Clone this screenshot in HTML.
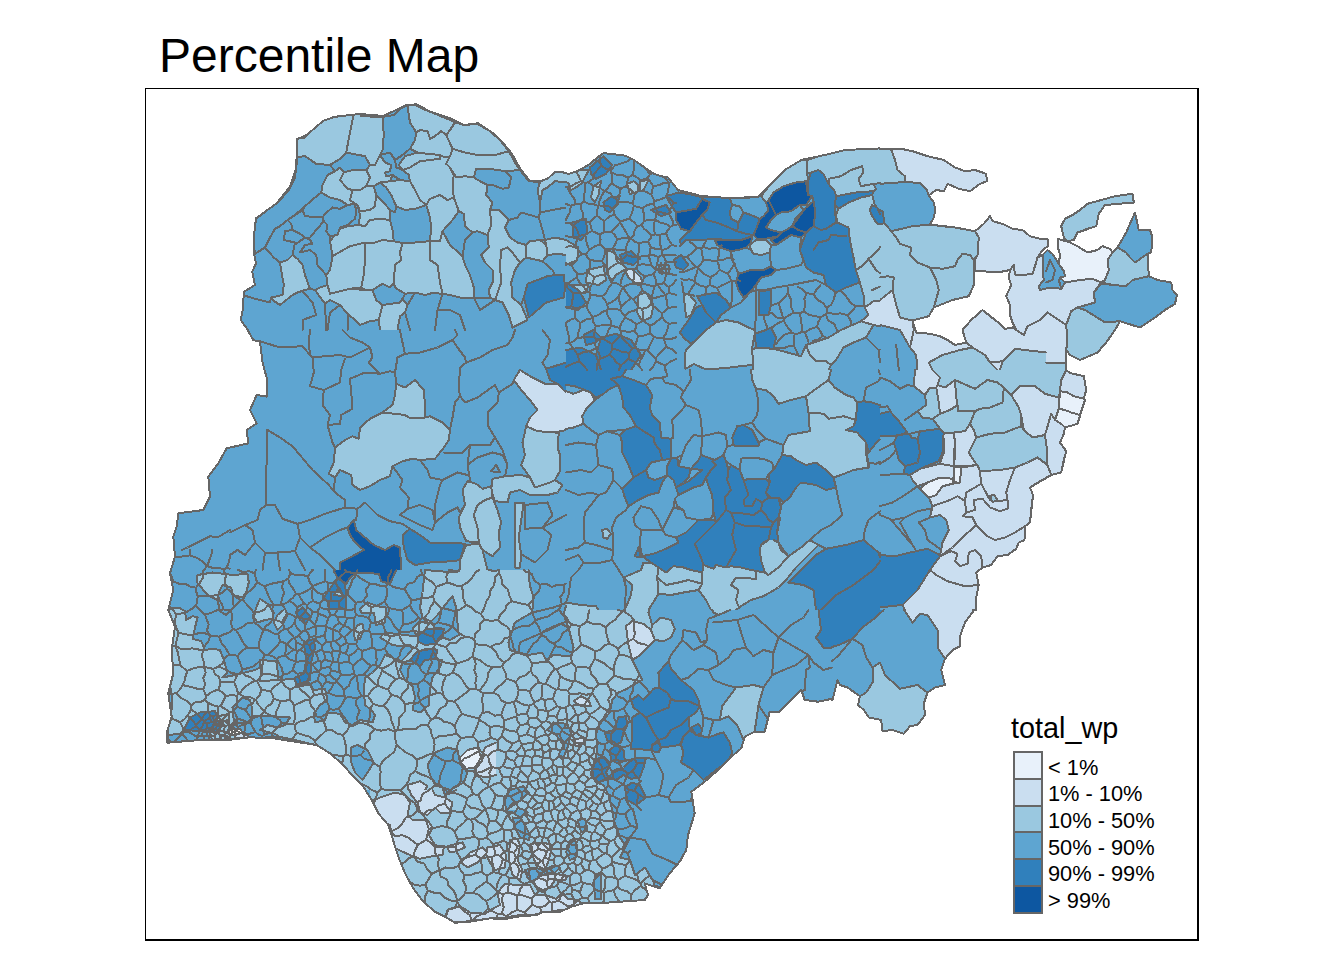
<!DOCTYPE html>
<html><head><meta charset="utf-8"><title>Percentile Map</title>
<style>
html,body{margin:0;padding:0;background:#fff;}
body{width:1344px;height:960px;position:relative;overflow:hidden;font-family:"Liberation Sans",Arial,sans-serif;color:#000;}
#title{position:absolute;left:159px;top:29px;font-size:48px;line-height:54px;white-space:nowrap;}
.fr{position:absolute;background:#000;}
svg{position:absolute;left:0;top:0;}
.lg{position:absolute;left:1048px;font-size:21.8px;line-height:26px;white-space:nowrap;}
#lt{position:absolute;left:1011px;top:711.5px;font-size:28.8px;line-height:32px;white-space:nowrap;}
</style></head><body>
<div id="title">Percentile Map</div>
<div class="fr" style="left:145px;top:88px;width:1054px;height:1px"></div>
<div class="fr" style="left:145px;top:88px;width:1px;height:853px"></div>
<div class="fr" style="left:1197px;top:88px;width:2px;height:853px"></div>
<div class="fr" style="left:145px;top:939px;width:1054px;height:2px"></div>

<svg width="1344" height="960" viewBox="0 0 1344 960">
<defs><path id="o" fill-rule="evenodd" clip-rule="evenodd" d="M978.8,585.0 976.2,572.5 982.5,567.5 991.2,565.0 997.5,556.2 1007.5,555.0 1016.2,548.8 1018.8,542.5 1024.5,540.0 1025.0,526.2 1030.0,522.5 1033.0,495.0 1030.0,487.5 1051.2,475.0 1061.2,472.5 1066.2,451.2 1060.0,442.5 1063.8,433.8 1065.0,427.5 1077.5,423.8 1085.0,400.0 1083.8,398.8 1086.2,390.0 1083.8,376.2 1070.0,373.0 1066.2,370.0 1066.2,350.0 1070.0,355.0 1080.0,360.0 1097.5,352.5 1106.2,342.5 1115.0,330.0 1120.0,321.2 1140.0,327.5 1155.0,317.5 1165.0,310.0 1175.0,303.8 1177.0,295.0 1172.5,290.0 1171.2,282.5 1157.5,280.0 1148.8,276.2 1147.5,253.8 1151.2,252.5 1152.5,237.5 1150.0,230.0 1138.8,230.0 1135.0,212.5 1126.2,232.5 1117.5,247.5 1112.5,252.5 1110.0,248.8 1102.5,246.2 1097.5,250.0 1087.5,252.5 1077.5,246.2 1070.0,242.5 1058.0,238.8 1058.0,247.5 1060.0,255.0 1058.8,263.8 1052.5,253.8 1047.5,250.0 1042.5,255.0 1037.5,257.5 1042.5,250.0 1048.0,246.2 1047.5,238.8 1040.0,238.8 1030.0,236.2 1022.5,230.0 1012.5,228.8 1002.5,223.8 992.5,221.2 990.0,216.2 983.8,223.8 975.0,231.2 955.0,227.5 930.0,224.5 933.8,217.5 935.5,210.0 933.8,202.5 928.8,195.5 936.2,190.0 943.8,191.2 947.5,183.8 958.8,188.8 970.0,191.2 980.0,183.8 987.0,181.2 986.2,173.8 975.0,170.0 965.0,171.2 955.0,167.5 943.8,160.0 927.5,156.2 912.5,151.2 901.2,148.8 891.2,149.5 880.0,148.8 880.0,148.4 844.7,150.0 824.7,155.0 801.3,160.0 784.7,170.0 758.0,196.7 731.3,198.3 701.3,196.0 678.0,190.0 668.0,177.5 661.3,176.3 653.8,173.8 633.8,160.0 625.0,155.6 603.8,153.1 598.8,156.3 590.0,163.8 580.0,170.0 568.8,174.0 561.3,171.9 555.0,171.9 547.5,178.8 539.4,181.3 530.0,181.3 520.0,168.3 511.7,153.3 503.3,143.3 493.3,133.3 478.3,123.3 463.3,125.0 450.0,118.3 430.0,111.7 416.7,104.3 406.7,105.0 383.3,116.0 360.0,114.0 335.0,116.7 323.3,120.7 306.7,135.0 296.7,139.3 296.7,156.7 295.7,170.0 290.0,186.7 276.7,203.3 256.0,218.3 254.3,233.3 254.0,253.3 256.0,263.3 252.3,271.7 255.0,285.0 244.0,291.7 242.7,310.0 240.7,320.0 246.7,328.3 253.3,340.0 260.0,341.7 262.7,363.3 267.3,380.0 266.7,396.7 256.7,395.0 250.0,410.0 256.7,423.3 246.7,430.0 248.3,443.3 226.7,448.3 218.3,463.3 208.3,476.7 210.0,496.7 203.3,510.0 178.3,513.3 176.7,526.7 173.3,536.7 175.0,556.7 170.0,573.3 173.3,590.0 168.3,610.0 175.0,626.7 171.7,650.0 173.3,673.3 168.3,693.3 171.7,716.7 166.7,733.3 167.3,742.7 200.0,740.0 228.3,740.0 250.0,737.3 273.3,738.3 316.7,745.0 330.0,753.3 343.3,765.0 353.3,776.7 363.3,786.7 371.7,800.0 378.3,813.3 388.3,825.0 398.3,856.7 405.0,873.3 413.3,888.3 423.3,901.7 435.0,911.7 445.0,916.7 455.0,922.7 470.0,921.7 490.0,918.3 503.3,919.3 516.7,916.7 536.7,915.0 543.3,911.7 560.0,911.7 571.7,906.7 583.3,903.3 598.0,903.3 644.7,900.0 648.0,895.0 644.7,883.3 659.7,888.3 669.7,873.3 679.7,861.7 686.3,850.0 688.0,835.0 694.7,813.3 691.3,791.7 704.7,781.7 718.0,770.0 731.3,756.7 741.3,748.3 744.7,736.7 754.7,731.7 764.7,731.7 769.7,711.7 779.7,711.7 801.3,690.0 804.7,700.0 818.0,701.7 832.0,698.8 832.0,700.0 832.5,700.0 837.5,680.0 840.0,685.0 847.5,687.5 860.0,696.2 858.0,705.0 863.8,710.0 868.8,717.5 881.2,720.0 882.5,731.2 892.5,730.0 903.8,733.8 910.0,726.2 917.5,725.0 925.0,715.0 923.8,703.8 927.5,692.5 935.0,687.5 945.0,685.0 941.2,670.0 945.0,658.8 952.5,650.0 960.0,646.2 960.0,636.2 965.0,622.5 972.5,612.5 973.3,610.0 976.2,610.0 976.2,597.5ZM930.0,333.8 916.2,332.5 912.5,320.5 928.8,316.2 933.8,307.5 952.5,300.0 968.8,296.2 973.8,285.0 974.5,270.5 997.5,272.5 1010.0,270.0 1008.8,277.5 1011.2,285.0 1006.2,296.2 1010.0,305.0 1010.0,315.0 1012.5,322.5 1016.2,330.0 1012.5,327.5 1005.0,328.8 1000.0,323.8 982.5,310.0 971.2,320.0 962.5,330.0 966.2,342.5 955.0,345.0 947.5,340.0 940.0,336.2ZM1067.5,241.2 1073.8,240.0 1077.5,232.5 1096.2,226.2 1098.8,213.8 1105.0,205.0 1133.8,202.5 1132.5,193.8 1115.0,196.2 1087.5,203.8 1080.0,210.0 1072.5,215.0 1065.0,218.8 1061.2,226.2 1063.8,237.5Z"/><clipPath id="c"><use href="#o"/></clipPath></defs>
<use href="#o" fill="#5EA5D1"/>
<g clip-path="url(#c)" shape-rendering="crispEdges" stroke-linejoin="round" stroke-linecap="round" stroke="#666666" stroke-width="2">
<path fill="#5EA5D1" stroke="none" d="M230.0,330.0 566.0,330.0 566.0,90.0 230.0,90.0Z"/>
<path fill="#9AC8E0" stroke="none" d="M297.5,157.0 305.0,156.2 316.2,163.8 330.0,165.0 340.0,158.8 346.2,152.5 350.0,132.5 353.8,114.2 340.0,116.2 325.0,118.8 315.0,127.5 305.0,137.5 297.0,138.8Z"/>
<path fill="none" d="M297.0,138.8L305.0,137.5L315.0,127.5L325.0,118.8L340.0,116.2L353.8,114.2L350.0,132.5L346.2,152.5L340.0,158.8L330.0,165.0L316.2,163.8L305.0,156.2L297.5,157.0L297.0,138.8"/>
<path fill="#9AC8E0" stroke="none" d="M350.0,132.5 346.2,152.5 365.0,156.2 370.0,165.0 375.0,165.0 380.0,155.0 382.5,150.0 383.8,135.0 382.5,117.0 361.2,116.2 360.0,114.2 353.8,114.2Z"/>
<path fill="none" d="M353.8,114.2L360.0,114.2L361.2,116.2L382.5,117.0L383.8,135.0L382.5,150.0L380.0,155.0L375.0,165.0L370.0,165.0L365.0,156.2L346.2,152.5L350.0,132.5L353.8,114.2"/>
<path fill="#5EA5D1" stroke="none" d="M383.8,135.0 382.5,150.0 380.0,155.0 390.0,152.5 395.0,160.0 402.5,155.0 410.0,148.8 415.0,140.0 416.2,132.5 410.0,122.5 408.8,115.0 407.5,105.5 400.0,108.8 393.8,115.0 382.5,117.0Z"/>
<path fill="none" d="M382.5,117.0L393.8,115.0L400.0,108.8L407.5,105.5L408.8,115.0L410.0,122.5L416.2,132.5L415.0,140.0L410.0,148.8L402.5,155.0L395.0,160.0L390.0,152.5L380.0,155.0L382.5,150.0L383.8,135.0L382.5,117.0"/>
<path fill="#9AC8E0" stroke="none" d="M408.8,115.0 410.0,122.5 416.2,132.5 420.0,130.0 427.5,131.2 430.0,138.8 435.0,136.2 441.2,131.2 446.2,135.0 450.0,130.0 455.0,122.5 450.0,120.0 435.0,113.8 422.5,108.8 415.0,105.0 407.5,105.5Z"/>
<path fill="none" d="M407.5,105.5L415.0,105.0L422.5,108.8L435.0,113.8L450.0,120.0L455.0,122.5L450.0,130.0L446.2,135.0L441.2,131.2L435.0,136.2L430.0,138.8L427.5,131.2L420.0,130.0L416.2,132.5L410.0,122.5L408.8,115.0L407.5,105.5"/>
<path fill="#9AC8E0" stroke="none" d="M450.0,130.0 446.2,135.0 452.5,148.8 465.0,152.5 480.0,155.5 495.0,155.0 508.8,151.2 500.0,140.0 490.0,131.2 477.5,123.8 465.0,125.0 455.0,122.5Z"/>
<path fill="none" d="M455.0,122.5L465.0,125.0L477.5,123.8L490.0,131.2L500.0,140.0L508.8,151.2L495.0,155.0L480.0,155.5L465.0,152.5L452.5,148.8L446.2,135.0L450.0,130.0L455.0,122.5"/>
<path fill="#9AC8E0" stroke="none" d="M415.0,140.0 410.0,148.8 417.5,152.5 427.5,153.8 440.0,155.0 445.0,157.5 450.0,156.2 452.5,148.8 446.2,135.0 441.2,131.2 435.0,136.2 430.0,138.8 427.5,131.2 420.0,130.0 416.2,132.5Z"/>
<path fill="none" d="M416.2,132.5L420.0,130.0L427.5,131.2L430.0,138.8L435.0,136.2L441.2,131.2L446.2,135.0L452.5,148.8L450.0,156.2L445.0,157.5L440.0,155.0L427.5,153.8L417.5,152.5L410.0,148.8L415.0,140.0L416.2,132.5"/>
<path fill="#9AC8E0" stroke="none" d="M450.0,156.2 446.2,163.8 450.0,167.5 456.2,177.5 465.0,176.2 473.8,177.5 476.2,168.8 490.0,168.8 505.0,171.2 520.0,170.0 515.0,162.5 508.8,151.2 495.0,155.0 480.0,155.5 465.0,152.5 452.5,148.8Z"/>
<path fill="none" d="M452.5,148.8L465.0,152.5L480.0,155.5L495.0,155.0L508.8,151.2L515.0,162.5L520.0,170.0L505.0,171.2L490.0,168.8L476.2,168.8L473.8,177.5L465.0,176.2L456.2,177.5L450.0,167.5L446.2,163.8L450.0,156.2L452.5,148.8"/>
<path fill="#5EA5D1" stroke="none" d="M385.0,162.5 391.2,165.0 390.0,171.2 385.0,172.5 386.2,176.2 392.5,175.0 400.0,180.0 410.0,181.2 408.8,175.0 402.5,170.0 396.2,167.5 395.0,160.0 390.0,152.5 380.0,155.0Z"/>
<path fill="none" d="M380.0,155.0L390.0,152.5L395.0,160.0L396.2,167.5L402.5,170.0L408.8,175.0L410.0,181.2L400.0,180.0L392.5,175.0L386.2,176.2L385.0,172.5L390.0,171.2L391.2,165.0L385.0,162.5L380.0,155.0"/>
<path fill="#9AC8E0" stroke="none" d="M402.5,170.0 410.0,167.5 420.0,161.2 430.0,160.0 440.0,158.8 440.0,155.0 427.5,153.8 417.5,152.5 405.0,156.2 398.8,165.0Z"/>
<path fill="none" d="M398.8,165.0L405.0,156.2L417.5,152.5L427.5,153.8L440.0,155.0L440.0,158.8L430.0,160.0L420.0,161.2L410.0,167.5L402.5,170.0L398.8,165.0"/>
<path fill="#5EA5D1" stroke="none" d="M335.0,171.2 340.0,167.5 343.8,172.5 352.5,170.0 366.2,170.0 370.0,165.0 365.0,156.2 346.2,152.5 340.0,158.8 330.0,165.0Z"/>
<path fill="none" d="M330.0,165.0L340.0,158.8L346.2,152.5L365.0,156.2L370.0,165.0L366.2,170.0L352.5,170.0L343.8,172.5L340.0,167.5L335.0,171.2L330.0,165.0"/>
<path fill="#5EA5D1" stroke="none" d="M296.2,167.5 295.0,177.5 288.8,190.0 280.0,200.0 267.5,210.0 255.0,219.5 254.5,230.0 253.8,245.0 255.0,253.8 265.0,247.5 270.0,237.5 275.0,228.8 280.0,226.2 287.5,220.0 295.0,215.0 305.0,206.2 315.0,197.5 321.2,192.5 322.5,185.0 327.5,175.0 335.0,171.2 330.0,165.0 316.2,163.8 305.0,156.2 297.5,157.0Z"/>
<path fill="none" d="M297.5,157.0L305.0,156.2L316.2,163.8L330.0,165.0L335.0,171.2L327.5,175.0L322.5,185.0L321.2,192.5L315.0,197.5L305.0,206.2L295.0,215.0L287.5,220.0L280.0,226.2L275.0,228.8L270.0,237.5L265.0,247.5L255.0,253.8L253.8,245.0L254.5,230.0L255.0,219.5L267.5,210.0L280.0,200.0L288.8,190.0L295.0,177.5L296.2,167.5L297.5,157.0"/>
<path fill="#9AC8E0" stroke="none" d="M330.0,197.5 340.0,200.0 347.5,205.0 355.0,203.8 350.0,200.0 352.5,190.0 347.5,188.8 340.0,180.0 343.8,172.5 340.0,167.5 335.0,171.2 327.5,175.0 322.5,185.0 321.2,192.5Z"/>
<path fill="none" d="M321.2,192.5L322.5,185.0L327.5,175.0L335.0,171.2L340.0,167.5L343.8,172.5L340.0,180.0L347.5,188.8L352.5,190.0L350.0,200.0L355.0,203.8L347.5,205.0L340.0,200.0L330.0,197.5L321.2,192.5"/>
<path fill="#9AC8E0" stroke="none" d="M347.5,188.8 352.5,190.0 360.0,190.0 366.2,186.2 370.0,177.5 366.2,170.0 352.5,170.0 343.8,172.5 340.0,180.0Z"/>
<path fill="none" d="M340.0,180.0L343.8,172.5L352.5,170.0L366.2,170.0L370.0,177.5L366.2,186.2L360.0,190.0L352.5,190.0L347.5,188.8L340.0,180.0"/>
<path fill="#9AC8E0" stroke="none" d="M370.0,177.5 366.2,186.2 373.8,186.2 380.0,182.5 390.0,181.2 392.5,175.0 386.2,176.2 385.0,172.5 390.0,171.2 391.2,165.0 385.0,162.5 380.0,155.0 375.0,165.0 370.0,165.0 366.2,170.0Z"/>
<path fill="none" d="M366.2,170.0L370.0,165.0L375.0,165.0L380.0,155.0L385.0,162.5L391.2,165.0L390.0,171.2L385.0,172.5L386.2,176.2L392.5,175.0L390.0,181.2L380.0,182.5L373.8,186.2L366.2,186.2L370.0,177.5L366.2,170.0"/>
<path fill="#9AC8E0" stroke="none" d="M350.0,200.0 355.0,203.8 357.5,205.0 360.0,211.2 370.0,210.0 375.0,206.2 376.2,195.0 373.8,186.2 366.2,186.2 360.0,190.0 352.5,190.0Z"/>
<path fill="none" d="M352.5,190.0L360.0,190.0L366.2,186.2L373.8,186.2L376.2,195.0L375.0,206.2L370.0,210.0L360.0,211.2L357.5,205.0L355.0,203.8L350.0,200.0L352.5,190.0"/>
<path fill="#5EA5D1" stroke="none" d="M376.2,195.0 382.5,201.2 390.0,210.0 395.0,212.5 396.2,206.2 391.2,195.0 386.2,187.5 380.0,182.5 373.8,186.2Z"/>
<path fill="none" d="M373.8,186.2L380.0,182.5L386.2,187.5L391.2,195.0L396.2,206.2L395.0,212.5L390.0,210.0L382.5,201.2L376.2,195.0L373.8,186.2"/>
<path fill="#9AC8E0" stroke="none" d="M380.0,182.5 386.2,187.5 391.2,195.0 396.2,206.2 405.0,210.0 415.0,208.8 426.2,205.0 420.0,200.0 415.0,190.0 410.0,181.2 400.0,180.0 390.0,181.2Z"/>
<path fill="none" d="M390.0,181.2L400.0,180.0L410.0,181.2L415.0,190.0L420.0,200.0L426.2,205.0L415.0,208.8L405.0,210.0L396.2,206.2L391.2,195.0L386.2,187.5L380.0,182.5L390.0,181.2"/>
<path fill="#9AC8E0" stroke="none" d="M415.0,190.0 420.0,200.0 426.2,205.0 430.0,198.8 440.0,195.0 447.5,200.0 453.8,197.5 452.5,185.0 453.8,175.0 450.0,167.5 446.2,163.8 450.0,156.2 445.0,157.5 440.0,155.0 440.0,158.8 430.0,160.0 420.0,161.2 410.0,167.5 402.5,170.0 408.8,175.0 410.0,181.2Z"/>
<path fill="none" d="M410.0,181.2L408.8,175.0L402.5,170.0L410.0,167.5L420.0,161.2L430.0,160.0L440.0,158.8L440.0,155.0L445.0,157.5L450.0,156.2L446.2,163.8L450.0,167.5L453.8,175.0L452.5,185.0L453.8,197.5L447.5,200.0L440.0,195.0L430.0,198.8L426.2,205.0L420.0,200.0L415.0,190.0L410.0,181.2"/>
<path fill="#9AC8E0" stroke="none" d="M452.5,185.0 453.8,197.5 458.8,211.2 463.8,213.8 465.0,226.2 472.5,232.5 477.5,231.2 487.5,235.0 491.2,225.0 490.0,210.0 492.5,202.5 486.2,195.0 487.5,185.0 480.0,181.2 473.8,177.5 465.0,176.2 456.2,177.5 453.8,175.0Z"/>
<path fill="none" d="M453.8,175.0L456.2,177.5L465.0,176.2L473.8,177.5L480.0,181.2L487.5,185.0L486.2,195.0L492.5,202.5L490.0,210.0L491.2,225.0L487.5,235.0L477.5,231.2L472.5,232.5L465.0,226.2L463.8,213.8L458.8,211.2L453.8,197.5L452.5,185.0L453.8,175.0"/>
<path fill="#5EA5D1" stroke="none" d="M480.0,181.2 487.5,185.0 492.5,185.0 502.5,188.8 508.8,187.5 511.2,177.5 505.0,171.2 490.0,168.8 476.2,168.8 473.8,177.5Z"/>
<path fill="none" d="M473.8,177.5L476.2,168.8L490.0,168.8L505.0,171.2L511.2,177.5L508.8,187.5L502.5,188.8L492.5,185.0L487.5,185.0L480.0,181.2L473.8,177.5"/>
<path fill="#5EA5D1" stroke="none" d="M492.5,202.5 490.0,210.0 498.8,210.0 508.8,220.0 517.5,217.5 521.2,212.5 530.0,215.0 538.8,217.5 540.0,212.5 540.0,202.5 537.5,190.0 540.0,182.0 528.8,181.2 520.0,170.0 505.0,171.2 511.2,177.5 508.8,187.5 502.5,188.8 492.5,185.0 487.5,185.0 486.2,195.0Z"/>
<path fill="none" d="M486.2,195.0L487.5,185.0L492.5,185.0L502.5,188.8L508.8,187.5L511.2,177.5L505.0,171.2L520.0,170.0L528.8,181.2L540.0,182.0L537.5,190.0L540.0,202.5L540.0,212.5L538.8,217.5L530.0,215.0L521.2,212.5L517.5,217.5L508.8,220.0L498.8,210.0L490.0,210.0L492.5,202.5L486.2,195.0"/>
<path fill="#9AC8E0" stroke="none" d="M430.0,217.5 431.2,227.5 430.0,241.2 440.0,241.2 442.5,231.2 452.5,220.0 458.8,211.2 453.8,197.5 447.5,200.0 440.0,195.0 430.0,198.8 426.2,205.0Z"/>
<path fill="none" d="M426.2,205.0L430.0,198.8L440.0,195.0L447.5,200.0L453.8,197.5L458.8,211.2L452.5,220.0L442.5,231.2L440.0,241.2L430.0,241.2L431.2,227.5L430.0,217.5L426.2,205.0"/>
<path fill="#5EA5D1" stroke="none" d="M390.0,220.0 392.5,230.0 393.8,241.2 402.5,243.0 415.0,242.5 430.0,241.2 431.2,227.5 430.0,217.5 426.2,205.0 415.0,208.8 405.0,210.0 396.2,206.2 395.0,212.5 390.0,210.0Z"/>
<path fill="none" d="M390.0,210.0L395.0,212.5L396.2,206.2L405.0,210.0L415.0,208.8L426.2,205.0L430.0,217.5L431.2,227.5L430.0,241.2L415.0,242.5L402.5,243.0L393.8,241.2L392.5,230.0L390.0,220.0L390.0,210.0"/>
<path fill="#9AC8E0" stroke="none" d="M360.0,215.0 358.8,225.0 365.0,226.2 370.0,220.0 380.0,218.8 390.0,220.0 390.0,210.0 382.5,201.2 376.2,195.0 375.0,206.2 370.0,210.0 360.0,211.2 357.5,205.0Z"/>
<path fill="none" d="M357.5,205.0L360.0,211.2L370.0,210.0L375.0,206.2L376.2,195.0L382.5,201.2L390.0,210.0L390.0,220.0L380.0,218.8L370.0,220.0L365.0,226.2L358.8,225.0L360.0,215.0L357.5,205.0"/>
<path fill="#9AC8E0" stroke="none" d="M332.5,256.2 350.0,246.2 365.0,242.5 375.0,242.5 382.5,240.0 393.8,241.2 392.5,230.0 390.0,220.0 380.0,218.8 370.0,220.0 365.0,226.2 358.8,225.0 347.5,226.2 340.0,228.8 330.0,241.2Z"/>
<path fill="none" d="M330.0,241.2L340.0,228.8L347.5,226.2L358.8,225.0L365.0,226.2L370.0,220.0L380.0,218.8L390.0,220.0L392.5,230.0L393.8,241.2L382.5,240.0L375.0,242.5L365.0,242.5L350.0,246.2L332.5,256.2L330.0,241.2"/>
<path fill="#5EA5D1" stroke="none" d="M302.5,210.0 305.0,216.2 322.5,217.5 325.0,213.8 332.5,207.5 340.0,208.8 347.5,205.0 340.0,200.0 330.0,197.5 321.2,192.5 315.0,197.5 305.0,206.2Z"/>
<path fill="none" d="M305.0,206.2L315.0,197.5L321.2,192.5L330.0,197.5L340.0,200.0L347.5,205.0L340.0,208.8L332.5,207.5L325.0,213.8L322.5,217.5L305.0,216.2L302.5,210.0L305.0,206.2"/>
<path fill="#5EA5D1" stroke="none" d="M323.8,221.2 327.5,225.0 326.2,231.2 330.0,236.2 337.5,235.0 340.0,227.5 347.5,225.0 355.0,218.8 356.2,212.5 355.0,203.8 347.5,205.0 340.0,208.8 332.5,207.5 325.0,213.8 322.5,217.5Z"/>
<path fill="none" d="M322.5,217.5L325.0,213.8L332.5,207.5L340.0,208.8L347.5,205.0L355.0,203.8L356.2,212.5L355.0,218.8L347.5,225.0L340.0,227.5L337.5,235.0L330.0,236.2L326.2,231.2L327.5,225.0L323.8,221.2L322.5,217.5"/>
<path fill="#5EA5D1" stroke="none" d="M291.2,223.8 292.5,230.0 300.0,233.8 305.0,237.5 310.0,237.5 316.2,230.0 323.8,221.2 322.5,217.5 305.0,216.2 302.5,210.0 295.0,215.0 287.5,220.0Z"/>
<path fill="none" d="M287.5,220.0L295.0,215.0L302.5,210.0L305.0,216.2L322.5,217.5L323.8,221.2L316.2,230.0L310.0,237.5L305.0,237.5L300.0,233.8L292.5,230.0L291.2,223.8L287.5,220.0"/>
<path fill="#5EA5D1" stroke="none" d="M270.0,237.5 265.0,247.5 273.8,257.5 280.0,262.5 287.5,260.0 292.5,255.0 295.0,242.5 283.8,240.0 285.0,231.2 292.5,230.0 291.2,223.8 287.5,220.0 280.0,226.2 275.0,228.8Z"/>
<path fill="none" d="M275.0,228.8L280.0,226.2L287.5,220.0L291.2,223.8L292.5,230.0L285.0,231.2L283.8,240.0L295.0,242.5L292.5,255.0L287.5,260.0L280.0,262.5L273.8,257.5L265.0,247.5L270.0,237.5L275.0,228.8"/>
<path fill="#5EA5D1" stroke="none" d="M295.0,242.5 296.2,243.8 305.0,237.5 300.0,233.8 292.5,230.0 285.0,231.2 283.8,240.0Z"/>
<path fill="none" d="M283.8,240.0L285.0,231.2L292.5,230.0L300.0,233.8L305.0,237.5L296.2,243.8L295.0,242.5L283.8,240.0"/>
<path fill="#5EA5D1" stroke="none" d="M310.0,240.0 312.5,243.8 305.0,245.0 300.0,252.5 310.0,250.0 316.2,255.0 317.5,265.0 326.2,275.0 330.0,270.0 332.5,256.2 330.0,241.2 330.0,236.2 326.2,231.2 327.5,225.0 323.8,221.2 316.2,230.0 310.0,237.5 305.0,237.5Z"/>
<path fill="none" d="M305.0,237.5L310.0,237.5L316.2,230.0L323.8,221.2L327.5,225.0L326.2,231.2L330.0,236.2L330.0,241.2L332.5,256.2L330.0,270.0L326.2,275.0L317.5,265.0L316.2,255.0L310.0,250.0L300.0,252.5L305.0,245.0L312.5,243.8L310.0,240.0L305.0,237.5"/>
<path fill="#5EA5D1" stroke="none" d="M295.0,242.5 292.5,255.0 297.5,258.8 302.5,265.0 305.0,275.0 310.0,288.8 315.0,290.0 320.0,287.5 327.5,285.0 326.2,275.0 317.5,265.0 316.2,255.0 310.0,250.0 300.0,252.5 305.0,245.0 312.5,243.8 310.0,240.0 305.0,237.5 296.2,243.8Z"/>
<path fill="none" d="M296.2,243.8L305.0,237.5L310.0,240.0L312.5,243.8L305.0,245.0L300.0,252.5L310.0,250.0L316.2,255.0L317.5,265.0L326.2,275.0L327.5,285.0L320.0,287.5L315.0,290.0L310.0,288.8L305.0,275.0L302.5,265.0L297.5,258.8L292.5,255.0L295.0,242.5L296.2,243.8"/>
<path fill="#9AC8E0" stroke="none" d="M281.2,270.0 283.8,285.0 282.5,295.0 271.2,297.5 272.5,300.0 280.0,305.0 292.5,295.0 297.5,292.5 305.0,290.0 310.0,288.8 305.0,275.0 302.5,265.0 297.5,258.8 292.5,255.0 287.5,260.0 280.0,262.5Z"/>
<path fill="none" d="M280.0,262.5L287.5,260.0L292.5,255.0L297.5,258.8L302.5,265.0L305.0,275.0L310.0,288.8L305.0,290.0L297.5,292.5L292.5,295.0L280.0,305.0L272.5,300.0L271.2,297.5L282.5,295.0L283.8,285.0L281.2,270.0L280.0,262.5"/>
<path fill="#9AC8E0" stroke="none" d="M325.0,303.8 330.0,300.0 340.0,305.0 347.5,313.8 355.0,320.0 360.0,325.0 370.0,321.2 378.8,320.0 380.0,315.0 382.5,305.0 376.2,300.0 372.5,290.0 365.0,290.0 350.0,288.8 330.0,293.8 327.5,285.0 320.0,287.5 315.0,290.0Z"/>
<path fill="none" d="M315.0,290.0L320.0,287.5L327.5,285.0L330.0,293.8L350.0,288.8L365.0,290.0L372.5,290.0L376.2,300.0L382.5,305.0L380.0,315.0L378.8,320.0L370.0,321.2L360.0,325.0L355.0,320.0L347.5,313.8L340.0,305.0L330.0,300.0L325.0,303.8L315.0,290.0"/>
<path fill="#9AC8E0" stroke="none" d="M365.0,260.0 363.8,275.0 361.2,287.5 365.0,290.0 372.5,290.0 382.5,283.8 390.0,287.5 393.8,282.5 395.0,265.0 401.2,260.0 400.0,252.5 402.5,243.0 393.8,241.2 382.5,240.0 375.0,242.5 365.0,242.5Z"/>
<path fill="none" d="M365.0,242.5L375.0,242.5L382.5,240.0L393.8,241.2L402.5,243.0L400.0,252.5L401.2,260.0L395.0,265.0L393.8,282.5L390.0,287.5L382.5,283.8L372.5,290.0L365.0,290.0L361.2,287.5L363.8,275.0L365.0,260.0L365.0,242.5"/>
<path fill="#9AC8E0" stroke="none" d="M330.0,270.0 326.2,275.0 327.5,285.0 330.0,293.8 350.0,288.8 361.2,287.5 363.8,275.0 365.0,260.0 365.0,242.5 350.0,246.2 332.5,256.2Z"/>
<path fill="none" d="M332.5,256.2L350.0,246.2L365.0,242.5L365.0,260.0L363.8,275.0L361.2,287.5L350.0,288.8L330.0,293.8L327.5,285.0L326.2,275.0L330.0,270.0L332.5,256.2"/>
<path fill="#9AC8E0" stroke="none" d="M400.0,252.5 401.2,260.0 395.0,265.0 393.8,282.5 395.0,287.5 405.0,293.8 415.0,292.5 425.0,295.0 432.5,293.0 442.5,293.8 440.0,282.5 437.5,265.0 430.0,260.0 430.0,241.2 415.0,242.5 402.5,243.0Z"/>
<path fill="none" d="M402.5,243.0L415.0,242.5L430.0,241.2L430.0,260.0L437.5,265.0L440.0,282.5L442.5,293.8L432.5,293.0L425.0,295.0L415.0,292.5L405.0,293.8L395.0,287.5L393.8,282.5L395.0,265.0L401.2,260.0L400.0,252.5L402.5,243.0"/>
<path fill="#9AC8E0" stroke="none" d="M430.0,260.0 437.5,265.0 440.0,282.5 442.5,293.8 450.0,295.0 460.0,297.5 473.8,297.5 473.8,287.5 470.0,275.0 465.0,265.0 462.5,256.2 450.0,245.0 442.5,231.2 440.0,241.2 430.0,241.2Z"/>
<path fill="none" d="M430.0,241.2L440.0,241.2L442.5,231.2L450.0,245.0L462.5,256.2L465.0,265.0L470.0,275.0L473.8,287.5L473.8,297.5L460.0,297.5L450.0,295.0L442.5,293.8L440.0,282.5L437.5,265.0L430.0,260.0L430.0,241.2"/>
<path fill="#5EA5D1" stroke="none" d="M450.0,245.0 462.5,256.2 465.0,240.0 472.5,232.5 465.0,226.2 463.8,213.8 458.8,211.2 452.5,220.0 442.5,231.2Z"/>
<path fill="none" d="M442.5,231.2L452.5,220.0L458.8,211.2L463.8,213.8L465.0,226.2L472.5,232.5L465.0,240.0L462.5,256.2L450.0,245.0L442.5,231.2"/>
<path fill="#5EA5D1" stroke="none" d="M465.0,265.0 470.0,275.0 473.8,287.5 473.8,297.5 490.0,297.5 488.8,290.0 492.5,282.5 492.5,270.0 485.0,262.5 481.2,255.0 488.8,247.5 487.5,235.0 477.5,231.2 472.5,232.5 465.0,240.0 462.5,256.2Z"/>
<path fill="none" d="M462.5,256.2L465.0,240.0L472.5,232.5L477.5,231.2L487.5,235.0L488.8,247.5L481.2,255.0L485.0,262.5L492.5,270.0L492.5,282.5L488.8,290.0L490.0,297.5L473.8,297.5L473.8,287.5L470.0,275.0L465.0,265.0L462.5,256.2"/>
<path fill="#9AC8E0" stroke="none" d="M488.8,247.5 481.2,255.0 485.0,262.5 492.5,270.0 492.5,282.5 488.8,290.0 490.0,297.5 495.0,300.0 501.2,282.5 500.0,265.0 501.2,250.0 507.5,247.5 512.5,252.5 520.0,262.5 526.2,257.5 526.2,245.0 517.5,242.5 510.0,237.5 505.0,227.5 508.8,220.0 498.8,210.0 490.0,210.0 491.2,225.0 487.5,235.0Z"/>
<path fill="none" d="M487.5,235.0L491.2,225.0L490.0,210.0L498.8,210.0L508.8,220.0L505.0,227.5L510.0,237.5L517.5,242.5L526.2,245.0L526.2,257.5L520.0,262.5L512.5,252.5L507.5,247.5L501.2,250.0L500.0,265.0L501.2,282.5L495.0,300.0L490.0,297.5L488.8,290.0L492.5,282.5L492.5,270.0L485.0,262.5L481.2,255.0L488.8,247.5L487.5,235.0"/>
<path fill="#9AC8E0" stroke="none" d="M500.0,265.0 501.2,282.5 495.0,300.0 502.5,302.5 508.8,315.0 512.5,327.5 527.5,320.0 521.2,305.0 512.5,297.5 511.2,282.5 515.0,270.0 520.0,262.5 512.5,252.5 507.5,247.5 501.2,250.0Z"/>
<path fill="none" d="M501.2,250.0L507.5,247.5L512.5,252.5L520.0,262.5L515.0,270.0L511.2,282.5L512.5,297.5L521.2,305.0L527.5,320.0L512.5,327.5L508.8,315.0L502.5,302.5L495.0,300.0L501.2,282.5L500.0,265.0L501.2,250.0"/>
<path fill="#5EA5D1" stroke="none" d="M515.0,270.0 511.2,282.5 512.5,297.5 521.2,305.0 523.8,297.5 527.5,283.8 547.5,276.2 555.0,275.0 552.5,270.0 542.5,261.2 526.2,257.5 520.0,262.5Z"/>
<path fill="none" d="M520.0,262.5L526.2,257.5L542.5,261.2L552.5,270.0L555.0,275.0L547.5,276.2L527.5,283.8L523.8,297.5L521.2,305.0L512.5,297.5L511.2,282.5L515.0,270.0L520.0,262.5"/>
<path fill="#3080BC" stroke="none" d="M523.8,297.5 528.8,317.5 537.5,310.0 546.2,302.5 563.8,297.5 565.0,287.5 563.8,275.0 555.0,275.0 547.5,276.2 527.5,283.8Z"/>
<path fill="none" d="M527.5,283.8L547.5,276.2L555.0,275.0L563.8,275.0L565.0,287.5L563.8,297.5L546.2,302.5L537.5,310.0L528.8,317.5L523.8,297.5L527.5,283.8"/>
<path fill="#9AC8E0" stroke="none" d="M526.2,257.5 542.5,261.2 547.5,255.0 546.2,245.0 540.0,240.0 530.0,241.2 526.2,245.0Z"/>
<path fill="none" d="M526.2,245.0L530.0,241.2L540.0,240.0L546.2,245.0L547.5,255.0L542.5,261.2L526.2,257.5L526.2,245.0"/>
<path fill="#5EA5D1" stroke="none" d="M505.0,227.5 510.0,237.5 517.5,242.5 526.2,245.0 530.0,241.2 540.0,240.0 545.0,240.0 542.5,230.0 538.8,217.5 530.0,215.0 521.2,212.5 517.5,217.5 508.8,220.0Z"/>
<path fill="none" d="M508.8,220.0L517.5,217.5L521.2,212.5L530.0,215.0L538.8,217.5L542.5,230.0L545.0,240.0L540.0,240.0L530.0,241.2L526.2,245.0L517.5,242.5L510.0,237.5L505.0,227.5L508.8,220.0"/>
<path fill="#9AC8E0" stroke="none" d="M537.5,190.0 540.0,202.5 542.5,190.0 547.5,187.5 555.0,181.2 566.0,182.5 566.0,172.5 555.0,172.0 548.8,176.2 540.0,182.0Z"/>
<path fill="none" d="M540.0,182.0L548.8,176.2L555.0,172.0L566.0,172.5M566.0,182.5L555.0,181.2L547.5,187.5L542.5,190.0L540.0,202.5L537.5,190.0L540.0,182.0"/>
<path fill="#5EA5D1" stroke="none" d="M538.8,217.5 542.5,230.0 545.0,240.0 555.0,237.5 566.0,240.0 566.0,207.5 552.5,210.0 540.0,212.5Z"/>
<path fill="none" d="M540.0,212.5L552.5,210.0L566.0,207.5M566.0,240.0L555.0,237.5L545.0,240.0L542.5,230.0L538.8,217.5L540.0,212.5"/>
<path fill="#9AC8E0" stroke="none" d="M546.2,245.0 547.5,255.0 557.5,253.8 566.0,255.0 566.0,240.0 555.0,237.5 545.0,240.0Z"/>
<path fill="none" d="M545.0,240.0L555.0,237.5L566.0,240.0M566.0,255.0L557.5,253.8L547.5,255.0L546.2,245.0L545.0,240.0"/>
<path fill="#9AC8E0" stroke="none" d="M380.0,330.0 397.5,330.0 400.0,316.2 405.0,312.5 407.5,305.0 402.5,298.8 400.0,302.5 382.5,305.0 380.0,315.0 378.8,320.0Z"/>
<path fill="none" d="M378.8,320.0L380.0,315.0L382.5,305.0L400.0,302.5L402.5,298.8L407.5,305.0L405.0,312.5L400.0,316.2L397.5,330.0M380.0,330.0L378.8,320.0"/>
<path fill="#5EA5D1" stroke="none" d="M376.2,300.0 382.5,305.0 400.0,302.5 402.5,298.8 405.0,293.8 395.0,287.5 393.8,282.5 390.0,287.5 382.5,283.8 372.5,290.0Z"/>
<path fill="none" d="M372.5,290.0L382.5,283.8L390.0,287.5L393.8,282.5L395.0,287.5L405.0,293.8L402.5,298.8L400.0,302.5L382.5,305.0L376.2,300.0L372.5,290.0"/>
<path fill="#5EA5D1" stroke="none" d="M230.0,570.0 566.0,570.0 566.0,330.0 230.0,330.0Z"/>
<path fill="#9AC8E0" stroke="none" d="M333.8,462.5 328.8,473.8 335.0,477.5 340.0,470.0 351.2,475.0 352.5,485.0 360.0,490.0 370.0,486.2 380.0,480.0 390.0,476.2 392.5,466.2 402.5,461.2 412.5,458.8 420.0,460.0 435.0,458.8 440.0,452.5 443.8,447.5 448.8,440.0 450.0,430.0 442.5,422.5 430.0,416.2 425.0,417.5 408.8,417.5 405.0,415.0 382.5,412.5 370.0,418.8 360.0,427.5 358.8,438.8 352.5,436.2 345.0,440.0 335.0,447.5Z"/>
<path fill="none" d="M335.0,447.5L345.0,440.0L352.5,436.2L358.8,438.8L360.0,427.5L370.0,418.8L382.5,412.5L405.0,415.0L408.8,417.5L425.0,417.5L430.0,416.2L442.5,422.5L450.0,430.0L448.8,440.0L443.8,447.5L440.0,452.5L435.0,458.8L420.0,460.0L412.5,458.8L402.5,461.2L392.5,466.2L390.0,476.2L380.0,480.0L370.0,486.2L360.0,490.0L352.5,485.0L351.2,475.0L340.0,470.0L335.0,477.5L328.8,473.8L333.8,462.5L335.0,447.5"/>
<path fill="#9AC8E0" stroke="none" d="M405.0,415.0 408.8,417.5 425.0,417.5 425.0,405.0 423.8,390.0 415.0,380.0 405.0,387.5 396.2,383.8 395.0,395.0 392.5,405.0 382.5,412.5Z"/>
<path fill="none" d="M382.5,412.5L392.5,405.0L395.0,395.0L396.2,383.8L405.0,387.5L415.0,380.0L423.8,390.0L425.0,405.0L425.0,417.5L408.8,417.5L405.0,415.0L382.5,412.5"/>
<path fill="#CADEF0" stroke="none" d="M521.2,390.0 530.0,400.0 537.5,410.0 530.0,417.5 526.2,426.2 537.5,431.2 555.0,432.5 566.0,430.0 566.0,392.5 557.5,383.8 545.0,383.8 530.0,376.2 520.0,370.0 513.8,380.0Z"/>
<path fill="none" d="M513.8,380.0L520.0,370.0L530.0,376.2L545.0,383.8L557.5,383.8L566.0,392.5M566.0,430.0L555.0,432.5L537.5,431.2L526.2,426.2L530.0,417.5L537.5,410.0L530.0,400.0L521.2,390.0L513.8,380.0"/>
<path fill="#3080BC" stroke="none" d="M550.0,380.0 557.5,383.8 566.0,392.5 566.0,362.5 546.2,368.8Z"/>
<path fill="none" d="M546.2,368.8L566.0,362.5M566.0,392.5L557.5,383.8L550.0,380.0L546.2,368.8"/>
<path fill="#9AC8E0" stroke="none" d="M522.5,442.5 525.0,455.0 521.2,465.0 530.0,477.5 535.0,487.5 550.0,482.5 555.0,480.0 560.5,470.0 560.0,455.0 557.5,447.5 558.8,432.5 555.0,432.5 537.5,431.2 526.2,426.2Z"/>
<path fill="none" d="M526.2,426.2L537.5,431.2L555.0,432.5L558.8,432.5L557.5,447.5L560.0,455.0L560.5,470.0L555.0,480.0L550.0,482.5L535.0,487.5L530.0,477.5L521.2,465.0L525.0,455.0L522.5,442.5L526.2,426.2"/>
<path fill="#9AC8E0" stroke="none" d="M491.2,490.0 495.0,501.2 507.5,502.5 510.0,492.5 520.0,490.0 530.0,495.0 547.5,495.0 557.5,492.5 562.5,485.0 555.0,480.0 550.0,482.5 535.0,487.5 530.0,477.5 521.2,475.0 505.0,476.2 492.5,478.8Z"/>
<path fill="none" d="M492.5,478.8L505.0,476.2L521.2,475.0L530.0,477.5L535.0,487.5L550.0,482.5L555.0,480.0L562.5,485.0L557.5,492.5L547.5,495.0L530.0,495.0L520.0,490.0L510.0,492.5L507.5,502.5L495.0,501.2L491.2,490.0L492.5,478.8"/>
<path fill="#9AC8E0" stroke="none" d="M465.0,505.0 458.8,517.5 460.0,527.5 466.2,541.2 478.8,542.5 477.5,527.5 473.8,515.0 477.5,505.0 485.0,500.0 492.5,497.5 491.2,486.2 482.5,488.8 476.2,483.8 467.5,481.2 462.5,490.0Z"/>
<path fill="none" d="M462.5,490.0L467.5,481.2L476.2,483.8L482.5,488.8L491.2,486.2L492.5,497.5L485.0,500.0L477.5,505.0L473.8,515.0L477.5,527.5L478.8,542.5L466.2,541.2L460.0,527.5L458.8,517.5L465.0,505.0L462.5,490.0"/>
<path fill="#9AC8E0" stroke="none" d="M473.8,515.0 477.5,527.5 478.8,542.5 482.5,550.0 492.5,556.2 500.0,547.5 498.8,532.5 501.2,522.5 497.5,510.0 492.5,497.5 485.0,500.0 477.5,505.0Z"/>
<path fill="none" d="M477.5,505.0L485.0,500.0L492.5,497.5L497.5,510.0L501.2,522.5L498.8,532.5L500.0,547.5L492.5,556.2L482.5,550.0L478.8,542.5L477.5,527.5L473.8,515.0L477.5,505.0"/>
<path fill="#9AC8E0" stroke="none" d="M460.0,570.0 487.5,570.0 482.5,550.0 478.8,543.8 466.2,545.0 460.0,560.0Z"/>
<path fill="none" d="M460.0,560.0L466.2,545.0L478.8,543.8L482.5,550.0L487.5,570.0M460.0,570.0L460.0,560.0"/>
<path fill="#9AC8E0" stroke="none" d="M515.0,567.5 520.0,567.5 521.2,555.0 518.8,537.5 521.2,520.0 523.8,502.5 515.0,502.5Z"/>
<path fill="none" d="M515.0,502.5L523.8,502.5L521.2,520.0L518.8,537.5L521.2,555.0L520.0,567.5L515.0,567.5L515.0,502.5"/>
<path fill="#3080BC" stroke="none" d="M403.8,547.5 407.5,560.0 415.0,565.0 430.0,562.5 452.5,561.2 460.0,560.0 465.0,543.8 450.0,542.5 430.0,542.5 420.0,535.0 410.0,528.8 402.5,535.0Z"/>
<path fill="none" d="M402.5,535.0L410.0,528.8L420.0,535.0L430.0,542.5L450.0,542.5L465.0,543.8L460.0,560.0L452.5,561.2L430.0,562.5L415.0,565.0L407.5,560.0L403.8,547.5L402.5,535.0"/>
<path fill="#0D57A1" stroke="none" d="M350.0,535.0 355.0,542.5 363.8,550.0 352.5,556.2 340.0,562.5 340.0,570.0 401.2,570.0 400.0,547.5 393.8,545.0 385.0,550.0 373.8,545.0 365.0,537.5 356.2,530.0 353.8,520.0 347.5,527.5Z"/>
<path fill="none" d="M347.5,527.5L353.8,520.0L356.2,530.0L365.0,537.5L373.8,545.0L385.0,550.0L393.8,545.0L400.0,547.5L401.2,570.0M340.0,570.0L340.0,562.5L352.5,556.2L363.8,550.0L355.0,542.5L350.0,535.0L347.5,527.5"/>
<path fill="#9AC8E0" stroke="none" d="M880.0,183.8 905.0,182.0 905.0,176.2 897.5,170.0 895.0,160.0 891.2,149.5 880.0,148.8Z"/>
<path fill="none" d="M880.0,148.8L891.2,149.5L895.0,160.0L897.5,170.0L905.0,176.2L905.0,182.0L880.0,183.8"/>
<path fill="#CADEF0" stroke="none" d="M895.0,160.0 897.5,170.0 905.0,176.2 905.0,182.0 920.0,183.0 926.2,188.8 928.8,195.5 936.2,190.0 943.8,191.2 947.5,183.8 958.8,188.8 970.0,191.2 980.0,183.8 987.0,181.2 986.2,173.8 975.0,170.0 965.0,171.2 955.0,167.5 943.8,160.0 927.5,156.2 912.5,151.2 901.2,148.8 891.2,149.5Z"/>
<path fill="none" d="M891.2,149.5L901.2,148.8L912.5,151.2L927.5,156.2L943.8,160.0L955.0,167.5L965.0,171.2L975.0,170.0L986.2,173.8L987.0,181.2L980.0,183.8L970.0,191.2L958.8,188.8L947.5,183.8L943.8,191.2L936.2,190.0L928.8,195.5L926.2,188.8L920.0,183.0L905.0,182.0L905.0,176.2L897.5,170.0L895.0,160.0L891.2,149.5"/>
<path fill="#5EA5D1" stroke="none" d="M880.0,210.0 882.5,211.2 884.5,223.0 891.2,231.2 912.5,226.2 930.0,224.5 933.8,217.5 935.5,210.0 933.8,202.5 928.8,195.5 926.2,188.8 920.0,183.0 905.0,182.0 880.0,183.8Z"/>
<path fill="none" d="M880.0,183.8L905.0,182.0L920.0,183.0L926.2,188.8L928.8,195.5L933.8,202.5L935.5,210.0L933.8,217.5L930.0,224.5L912.5,226.2L891.2,231.2L884.5,223.0L882.5,211.2L880.0,210.0"/>
<path fill="#3080BC" stroke="none" d="M880.0,224.5 884.5,223.0 882.5,211.2 880.0,210.0Z"/>
<path fill="none" d="M880.0,210.0L882.5,211.2L884.5,223.0L880.0,224.5"/>
<path fill="#9AC8E0" stroke="none" d="M896.2,237.5 900.0,243.8 911.2,247.5 910.0,255.0 917.5,262.5 930.0,267.5 942.5,268.8 955.0,266.2 957.5,260.0 962.5,253.8 970.0,255.0 973.8,260.0 977.5,255.0 978.8,237.5 975.0,231.2 955.0,227.5 942.5,226.2 930.0,224.5 912.5,226.2 891.2,231.2Z"/>
<path fill="none" d="M891.2,231.2L912.5,226.2L930.0,224.5L942.5,226.2L955.0,227.5L975.0,231.2L978.8,237.5L977.5,255.0L973.8,260.0L970.0,255.0L962.5,253.8L957.5,260.0L955.0,266.2L942.5,268.8L930.0,267.5L917.5,262.5L910.0,255.0L911.2,247.5L900.0,243.8L896.2,237.5L891.2,231.2"/>
<path fill="#9AC8E0" stroke="none" d="M936.2,280.0 938.8,290.0 933.8,307.5 940.0,305.0 952.5,300.0 968.8,296.2 973.8,285.0 974.5,271.2 973.8,260.0 970.0,255.0 962.5,253.8 957.5,260.0 955.0,266.2 942.5,268.8 930.0,267.5Z"/>
<path fill="none" d="M930.0,267.5L942.5,268.8L955.0,266.2L957.5,260.0L962.5,253.8L970.0,255.0L973.8,260.0L974.5,271.2L973.8,285.0L968.8,296.2L952.5,300.0L940.0,305.0L933.8,307.5L938.8,290.0L936.2,280.0L930.0,267.5"/>
<path fill="#9AC8E0" stroke="none" d="M880.0,300.0 892.5,290.0 896.2,305.0 900.0,317.5 912.5,320.5 928.8,316.2 933.8,307.5 938.8,290.0 936.2,280.0 930.0,267.5 917.5,262.5 910.0,255.0 911.2,247.5 900.0,243.8 896.2,237.5 891.2,231.2 884.5,223.0 880.0,224.5Z"/>
<path fill="none" d="M880.0,224.5L884.5,223.0L891.2,231.2L896.2,237.5L900.0,243.8L911.2,247.5L910.0,255.0L917.5,262.5L930.0,267.5L936.2,280.0L938.8,290.0L933.8,307.5L928.8,316.2L912.5,320.5L900.0,317.5L896.2,305.0L892.5,290.0L880.0,300.0"/>
<path fill="#CADEF0" stroke="none" d="M978.8,237.5 977.5,255.0 974.5,260.0 975.0,270.5 997.5,272.5 1005.0,271.2 1010.0,270.0 1013.8,265.0 1015.0,274.5 1023.8,275.0 1032.5,273.8 1035.0,266.2 1037.5,257.5 1042.5,250.0 1048.0,246.2 1047.5,238.8 1040.0,238.8 1030.0,236.2 1022.5,230.0 1012.5,228.8 1002.5,223.8 992.5,221.2 990.0,216.2 983.8,223.8 975.0,231.2Z"/>
<path fill="none" d="M975.0,231.2L983.8,223.8L990.0,216.2L992.5,221.2L1002.5,223.8L1012.5,228.8L1022.5,230.0L1030.0,236.2L1040.0,238.8L1047.5,238.8L1048.0,246.2L1042.5,250.0L1037.5,257.5L1035.0,266.2L1032.5,273.8L1023.8,275.0L1015.0,274.5L1013.8,265.0L1010.0,270.0L1005.0,271.2L997.5,272.5L975.0,270.5L974.5,260.0L977.5,255.0L978.8,237.5L975.0,231.2"/>
<path fill="#CADEF0" stroke="none" d="M1008.8,277.5 1011.2,285.0 1006.2,296.2 1010.0,305.0 1010.0,315.0 1012.5,322.5 1016.2,330.0 1023.8,335.0 1027.5,326.2 1040.0,320.0 1047.5,312.5 1055.0,317.5 1066.2,325.0 1071.2,311.2 1077.5,307.5 1095.0,302.5 1093.8,292.5 1101.2,282.5 1092.5,278.8 1080.0,280.0 1065.0,282.5 1061.2,288.8 1050.0,287.5 1040.0,290.0 1038.8,286.2 1043.8,280.0 1042.5,270.0 1042.5,255.0 1037.5,257.5 1035.0,266.2 1032.5,273.8 1023.8,275.0 1015.0,274.5 1013.8,265.0 1010.0,270.0Z"/>
<path fill="none" d="M1010.0,270.0L1013.8,265.0L1015.0,274.5L1023.8,275.0L1032.5,273.8L1035.0,266.2L1037.5,257.5L1042.5,255.0L1042.5,270.0L1043.8,280.0L1038.8,286.2L1040.0,290.0L1050.0,287.5L1061.2,288.8L1065.0,282.5L1080.0,280.0L1092.5,278.8L1101.2,282.5L1093.8,292.5L1095.0,302.5L1077.5,307.5L1071.2,311.2L1066.2,325.0L1055.0,317.5L1047.5,312.5L1040.0,320.0L1027.5,326.2L1023.8,335.0L1016.2,330.0L1012.5,322.5L1010.0,315.0L1010.0,305.0L1006.2,296.2L1011.2,285.0L1008.8,277.5L1010.0,270.0"/>
<path fill="#5EA5D1" stroke="none" d="M1042.5,270.0 1043.8,280.0 1038.8,286.2 1040.0,290.0 1050.0,287.5 1061.2,288.8 1058.8,280.0 1065.0,276.2 1063.8,271.2 1058.8,263.8 1052.5,253.8 1047.5,250.0 1042.5,255.0Z"/>
<path fill="none" d="M1042.5,255.0L1047.5,250.0L1052.5,253.8L1058.8,263.8L1063.8,271.2L1065.0,276.2L1058.8,280.0L1061.2,288.8L1050.0,287.5L1040.0,290.0L1038.8,286.2L1043.8,280.0L1042.5,270.0L1042.5,255.0"/>
<path fill="#E8F1FA" stroke="none" d="M1058.0,247.5 1060.0,255.0 1058.8,263.8 1063.8,271.2 1065.0,276.2 1060.0,277.5 1065.0,282.5 1080.0,280.0 1092.5,278.8 1101.2,282.5 1105.0,280.0 1108.8,270.0 1107.5,260.0 1112.5,252.5 1110.0,248.8 1102.5,246.2 1097.5,250.0 1087.5,252.5 1077.5,246.2 1070.0,242.5 1062.5,240.0 1058.0,238.8Z"/>
<path fill="none" d="M1058.0,238.8L1062.5,240.0L1070.0,242.5L1077.5,246.2L1087.5,252.5L1097.5,250.0L1102.5,246.2L1110.0,248.8L1112.5,252.5L1107.5,260.0L1108.8,270.0L1105.0,280.0L1101.2,282.5L1092.5,278.8L1080.0,280.0L1065.0,282.5L1060.0,277.5L1065.0,276.2L1063.8,271.2L1058.8,263.8L1060.0,255.0L1058.0,247.5L1058.0,238.8"/>
<path fill="#9AC8E0" stroke="none" d="M1063.8,237.5 1067.5,241.2 1073.8,240.0 1077.5,232.5 1087.5,228.8 1096.2,226.2 1098.8,213.8 1105.0,205.0 1120.0,203.8 1133.8,202.5 1132.5,193.8 1115.0,196.2 1100.0,200.0 1087.5,203.8 1080.0,210.0 1072.5,215.0 1065.0,218.8 1061.2,226.2Z"/>
<path fill="none" d="M1061.2,226.2L1065.0,218.8L1072.5,215.0L1080.0,210.0L1087.5,203.8L1100.0,200.0L1115.0,196.2L1132.5,193.8L1133.8,202.5L1120.0,203.8L1105.0,205.0L1098.8,213.8L1096.2,226.2L1087.5,228.8L1077.5,232.5L1073.8,240.0L1067.5,241.2L1063.8,237.5L1061.2,226.2"/>
<path fill="#5EA5D1" stroke="none" d="M1126.2,252.5 1130.0,257.5 1135.0,262.5 1147.5,253.8 1151.2,252.5 1152.5,237.5 1150.0,230.0 1138.8,230.0 1135.0,212.5 1126.2,232.5 1117.5,247.5Z"/>
<path fill="none" d="M1117.5,247.5L1126.2,232.5L1135.0,212.5L1138.8,230.0L1150.0,230.0L1152.5,237.5L1151.2,252.5L1147.5,253.8L1135.0,262.5L1130.0,257.5L1126.2,252.5L1117.5,247.5"/>
<path fill="#9AC8E0" stroke="none" d="M1108.8,270.0 1103.8,283.0 1113.8,285.0 1126.2,286.2 1132.5,280.0 1148.8,276.2 1147.5,253.8 1135.0,262.5 1130.0,257.5 1126.2,252.5 1117.5,247.5 1112.5,252.5 1107.5,260.0Z"/>
<path fill="none" d="M1107.5,260.0L1112.5,252.5L1117.5,247.5L1126.2,252.5L1130.0,257.5L1135.0,262.5L1147.5,253.8L1148.8,276.2L1132.5,280.0L1126.2,286.2L1113.8,285.0L1103.8,283.0L1108.8,270.0L1107.5,260.0"/>
<path fill="#5EA5D1" stroke="none" d="M1085.0,310.0 1095.0,316.2 1105.0,322.5 1120.0,321.2 1135.0,326.2 1140.0,327.5 1155.0,317.5 1165.0,310.0 1175.0,303.8 1177.0,295.0 1172.5,290.0 1171.2,282.5 1157.5,280.0 1148.8,276.2 1132.5,280.0 1126.2,286.2 1113.8,285.0 1101.2,283.8 1093.8,292.5 1095.0,302.5 1077.5,307.5Z"/>
<path fill="none" d="M1077.5,307.5L1095.0,302.5L1093.8,292.5L1101.2,283.8L1113.8,285.0L1126.2,286.2L1132.5,280.0L1148.8,276.2L1157.5,280.0L1171.2,282.5L1172.5,290.0L1177.0,295.0L1175.0,303.8L1165.0,310.0L1155.0,317.5L1140.0,327.5L1135.0,326.2L1120.0,321.2L1105.0,322.5L1095.0,316.2L1085.0,310.0L1077.5,307.5"/>
<path fill="#9AC8E0" stroke="none" d="M1067.5,340.0 1066.2,350.0 1070.0,355.0 1080.0,360.0 1097.5,352.5 1106.2,342.5 1115.0,330.0 1120.0,321.2 1105.0,322.5 1095.0,316.2 1085.0,310.0 1077.5,307.5 1071.2,311.2 1066.2,325.0Z"/>
<path fill="none" d="M1066.2,325.0L1071.2,311.2L1077.5,307.5L1085.0,310.0L1095.0,316.2L1105.0,322.5L1120.0,321.2L1115.0,330.0L1106.2,342.5L1097.5,352.5L1080.0,360.0L1070.0,355.0L1066.2,350.0L1067.5,340.0L1066.2,325.0"/>
<path fill="#CADEF0" stroke="none" d="M966.2,342.5 972.5,347.5 985.0,355.0 990.0,362.5 1002.5,361.2 1015.0,348.8 1046.2,352.5 1046.2,362.5 1066.2,362.5 1066.2,350.0 1067.5,340.0 1066.2,325.0 1055.0,317.5 1047.5,312.5 1040.0,320.0 1027.5,326.2 1023.8,335.0 1016.2,330.0 1012.5,327.5 1005.0,328.8 1000.0,323.8 990.0,316.2 982.5,310.0 971.2,320.0 962.5,330.0Z"/>
<path fill="none" d="M962.5,330.0L971.2,320.0L982.5,310.0L990.0,316.2L1000.0,323.8L1005.0,328.8L1012.5,327.5L1016.2,330.0L1023.8,335.0L1027.5,326.2L1040.0,320.0L1047.5,312.5L1055.0,317.5L1066.2,325.0L1067.5,340.0L1066.2,350.0L1066.2,362.5L1046.2,362.5M1046.2,352.5L1015.0,348.8L1002.5,361.2L990.0,362.5L985.0,355.0L972.5,347.5L966.2,342.5L962.5,330.0"/>
<path fill="#CADEF0" stroke="none" d="M913.8,330.0 910.0,347.5 916.2,355.0 917.5,370.0 932.5,370.0 928.8,362.5 942.5,355.0 960.0,350.0 972.5,347.5 966.2,342.5 955.0,345.0 947.5,340.0 940.0,336.2 930.0,333.8 916.2,332.5 912.5,320.5Z"/>
<path fill="none" d="M912.5,320.5L916.2,332.5L930.0,333.8L940.0,336.2L947.5,340.0L955.0,345.0L966.2,342.5L972.5,347.5L960.0,350.0L942.5,355.0L928.8,362.5L932.5,370.0M917.5,370.0L916.2,355.0L910.0,347.5L913.8,330.0L912.5,320.5"/>
<path fill="#CADEF0" stroke="none" d="M880.0,325.0 890.0,327.5 900.0,330.0 910.0,347.5 913.8,330.0 912.5,320.5 900.0,317.5 896.2,305.0 892.5,290.0 880.0,300.0Z"/>
<path fill="none" d="M880.0,300.0L892.5,290.0L896.2,305.0L900.0,317.5L912.5,320.5L913.8,330.0L910.0,347.5L900.0,330.0L890.0,327.5L880.0,325.0"/>
<path fill="#5EA5D1" stroke="none" d="M880.0,370.0 917.5,370.0 916.2,355.0 910.0,347.5 900.0,330.0 890.0,327.5 880.0,325.0Z"/>
<path fill="none" d="M880.0,325.0L890.0,327.5L900.0,330.0L910.0,347.5L916.2,355.0L917.5,370.0"/>
<path fill="#9AC8E0" stroke="none" d="M932.5,370.0 997.5,370.0 990.0,362.5 985.0,355.0 972.5,347.5 960.0,350.0 942.5,355.0 928.8,362.5Z"/>
<path fill="none" d="M928.8,362.5L942.5,355.0L960.0,350.0L972.5,347.5L985.0,355.0L990.0,362.5L997.5,370.0M932.5,370.0L928.8,362.5"/>
<path fill="#9AC8E0" stroke="none" d="M1000.0,370.0 1066.2,370.0 1066.2,362.5 1046.2,362.5 1046.2,352.5 1015.0,348.8 1002.5,361.2Z"/>
<path fill="none" d="M1002.5,361.2L1015.0,348.8L1046.2,352.5M1046.2,362.5L1066.2,362.5L1066.2,370.0M1000.0,370.0L1002.5,361.2"/>
<path fill="#CADEF0" stroke="none" d="M997.5,370.0 1000.0,370.0 1002.5,361.2 990.0,362.5Z"/>
<path fill="none" d="M990.0,362.5L1002.5,361.2L1000.0,370.0M997.5,370.0L990.0,362.5"/>
<path fill="#CADEF0" stroke="none" d="M1067.5,392.5 1073.8,396.2 1083.8,398.8 1086.2,390.0 1083.8,376.2 1070.0,373.0 1066.2,370.0 1061.2,380.0 1060.0,391.2Z"/>
<path fill="none" d="M1060.0,391.2L1061.2,380.0L1066.2,370.0L1070.0,373.0L1083.8,376.2L1086.2,390.0L1083.8,398.8L1073.8,396.2L1067.5,392.5L1060.0,391.2"/>
<path fill="#E8F1FA" stroke="none" d="M1065.0,410.0 1071.2,412.5 1080.0,415.0 1085.0,400.0 1083.8,398.8 1073.8,396.2 1067.5,392.5 1060.0,391.2 1058.8,408.8Z"/>
<path fill="none" d="M1058.8,408.8L1060.0,391.2L1067.5,392.5L1073.8,396.2L1083.8,398.8L1085.0,400.0L1080.0,415.0L1071.2,412.5L1065.0,410.0L1058.8,408.8"/>
<path fill="#E8F1FA" stroke="none" d="M1061.2,423.8 1065.0,427.5 1077.5,423.8 1080.0,415.0 1071.2,412.5 1065.0,410.0 1058.8,408.8 1055.0,420.0Z"/>
<path fill="none" d="M1055.0,420.0L1058.8,408.8L1065.0,410.0L1071.2,412.5L1080.0,415.0L1077.5,423.8L1065.0,427.5L1061.2,423.8L1055.0,420.0"/>
<path fill="#CADEF0" stroke="none" d="M1047.0,450.0 1047.5,465.0 1051.2,475.0 1061.2,472.5 1063.8,460.0 1066.2,451.2 1060.0,442.5 1063.8,433.8 1065.0,427.5 1061.2,423.8 1055.0,420.0 1051.2,413.8 1045.0,435.0Z"/>
<path fill="none" d="M1045.0,435.0L1051.2,413.8L1055.0,420.0L1061.2,423.8L1065.0,427.5L1063.8,433.8L1060.0,442.5L1066.2,451.2L1063.8,460.0L1061.2,472.5L1051.2,475.0L1047.5,465.0L1047.0,450.0L1045.0,435.0"/>
<path fill="#CADEF0" stroke="none" d="M1018.8,407.5 1021.2,415.0 1023.8,430.0 1032.5,437.5 1045.0,435.0 1051.2,413.8 1055.0,420.0 1058.8,408.8 1058.8,397.5 1045.0,393.8 1035.0,386.2 1020.0,386.2 1011.2,395.0Z"/>
<path fill="none" d="M1011.2,395.0L1020.0,386.2L1035.0,386.2L1045.0,393.8L1058.8,397.5L1058.8,408.8L1055.0,420.0L1051.2,413.8L1045.0,435.0L1032.5,437.5L1023.8,430.0L1021.2,415.0L1018.8,407.5L1011.2,395.0"/>
<path fill="#9AC8E0" stroke="none" d="M940.0,377.5 937.5,385.0 945.0,387.5 955.0,380.0 966.2,385.0 975.0,388.8 987.5,380.0 997.5,382.5 1003.8,387.5 1011.2,395.0 1020.0,386.2 1035.0,386.2 1045.0,393.8 1058.8,397.5 1060.0,391.2 1061.2,380.0 1066.2,370.0 932.5,370.0Z"/>
<path fill="none" d="M1066.2,370.0L1061.2,380.0L1060.0,391.2L1058.8,397.5L1045.0,393.8L1035.0,386.2L1020.0,386.2L1011.2,395.0L1003.8,387.5L997.5,382.5L987.5,380.0L975.0,388.8L966.2,385.0L955.0,380.0L945.0,387.5L937.5,385.0L940.0,377.5L932.5,370.0"/>
<path fill="#9AC8E0" stroke="none" d="M956.2,397.5 957.5,411.2 975.0,411.2 980.0,408.8 990.0,407.5 1002.5,402.5 1003.8,387.5 997.5,382.5 987.5,380.0 975.0,388.8 966.2,385.0 955.0,380.0Z"/>
<path fill="none" d="M955.0,380.0L966.2,385.0L975.0,388.8L987.5,380.0L997.5,382.5L1003.8,387.5L1002.5,402.5L990.0,407.5L980.0,408.8L975.0,411.2L957.5,411.2L956.2,397.5L955.0,380.0"/>
<path fill="#CADEF0" stroke="none" d="M938.8,402.5 940.0,413.8 950.0,410.0 957.5,405.0 956.2,397.5 955.0,380.0 945.0,387.5 937.5,385.0 936.2,387.5Z"/>
<path fill="none" d="M936.2,387.5L937.5,385.0L945.0,387.5L955.0,380.0L956.2,397.5L957.5,405.0L950.0,410.0L940.0,413.8L938.8,402.5L936.2,387.5"/>
<path fill="#9AC8E0" stroke="none" d="M922.5,417.5 932.5,418.8 940.0,413.8 938.8,402.5 936.2,387.5 930.0,387.5 925.0,395.0 926.2,405.0 917.5,411.2Z"/>
<path fill="none" d="M917.5,411.2L926.2,405.0L925.0,395.0L930.0,387.5L936.2,387.5L938.8,402.5L940.0,413.8L932.5,418.8L922.5,417.5L917.5,411.2"/>
<path fill="#9AC8E0" stroke="none" d="M940.0,428.8 943.8,432.5 955.0,432.5 965.0,431.2 970.0,423.8 975.0,411.2 957.5,411.2 957.5,405.0 950.0,410.0 940.0,413.8 932.5,418.8Z"/>
<path fill="none" d="M932.5,418.8L940.0,413.8L950.0,410.0L957.5,405.0L957.5,411.2L975.0,411.2L970.0,423.8L965.0,431.2L955.0,432.5L943.8,432.5L940.0,428.8L932.5,418.8"/>
<path fill="#9AC8E0" stroke="none" d="M973.8,430.0 976.2,437.5 990.0,433.8 1005.0,432.5 1021.2,426.2 1021.2,415.0 1018.8,407.5 1011.2,395.0 1003.8,387.5 1002.5,402.5 990.0,407.5 980.0,408.8 975.0,411.2 970.0,423.8Z"/>
<path fill="none" d="M970.0,423.8L975.0,411.2L980.0,408.8L990.0,407.5L1002.5,402.5L1003.8,387.5L1011.2,395.0L1018.8,407.5L1021.2,415.0L1021.2,426.2L1005.0,432.5L990.0,433.8L976.2,437.5L973.8,430.0L970.0,423.8"/>
<path fill="#9AC8E0" stroke="none" d="M975.0,462.5 980.0,471.2 1000.0,470.0 1015.0,467.5 1027.5,462.5 1037.5,457.5 1047.5,465.0 1047.0,450.0 1045.0,435.0 1032.5,437.5 1023.8,430.0 1021.2,426.2 1005.0,432.5 990.0,433.8 976.2,437.5 968.8,452.5Z"/>
<path fill="none" d="M968.8,452.5L976.2,437.5L990.0,433.8L1005.0,432.5L1021.2,426.2L1023.8,430.0L1032.5,437.5L1045.0,435.0L1047.0,450.0L1047.5,465.0L1037.5,457.5L1027.5,462.5L1015.0,467.5L1000.0,470.0L980.0,471.2L975.0,462.5L968.8,452.5"/>
<path fill="#CADEF0" stroke="none" d="M944.5,442.5 943.8,452.5 940.0,463.8 953.8,466.2 953.8,455.0 955.0,442.5 953.8,432.5 942.5,433.8Z"/>
<path fill="none" d="M942.5,433.8L953.8,432.5L955.0,442.5L953.8,455.0L953.8,466.2L940.0,463.8L943.8,452.5L944.5,442.5L942.5,433.8"/>
<path fill="#CADEF0" stroke="none" d="M955.0,442.5 955.0,455.0 953.8,466.2 965.0,466.2 977.5,465.0 975.0,462.5 968.8,452.5 976.2,437.5 973.8,430.0 970.0,423.8 965.0,431.2 953.8,432.5Z"/>
<path fill="none" d="M953.8,432.5L965.0,431.2L970.0,423.8L973.8,430.0L976.2,437.5L968.8,452.5L975.0,462.5L977.5,465.0L965.0,466.2L953.8,466.2L955.0,455.0L955.0,442.5L953.8,432.5"/>
<path fill="#CADEF0" stroke="none" d="M912.5,480.0 917.5,486.2 927.5,482.5 940.0,477.5 952.5,478.8 954.5,475.0 953.8,466.2 940.0,463.8 920.0,468.8 910.0,475.0Z"/>
<path fill="none" d="M910.0,475.0L920.0,468.8L940.0,463.8L953.8,466.2L954.5,475.0L952.5,478.8L940.0,477.5L927.5,482.5L917.5,486.2L912.5,480.0L910.0,475.0"/>
<path fill="#E8F1FA" stroke="none" d="M928.8,497.5 936.2,495.0 942.5,486.2 952.5,483.8 952.5,478.8 940.0,477.5 927.5,482.5 920.0,488.8Z"/>
<path fill="none" d="M920.0,488.8L927.5,482.5L940.0,477.5L952.5,478.8L952.5,483.8L942.5,486.2L936.2,495.0L928.8,497.5L920.0,488.8"/>
<path fill="#E8F1FA" stroke="none" d="M954.0,482.0 960.5,483.0 961.5,467.0 954.0,467.0Z"/>
<path fill="none" d="M954.0,467.0L961.5,467.0L960.5,483.0L954.0,482.0L954.0,467.0"/>
<path fill="#CADEF0" stroke="none" d="M932.5,506.2 950.0,500.0 957.5,496.2 965.0,501.2 966.2,492.5 981.2,483.8 980.0,471.2 977.5,465.0 961.2,467.5 960.0,482.5 952.5,483.8 942.5,486.2 936.2,495.0 928.8,497.5Z"/>
<path fill="none" d="M928.8,497.5L936.2,495.0L942.5,486.2L952.5,483.8L960.0,482.5L961.2,467.5L977.5,465.0L980.0,471.2L981.2,483.8L966.2,492.5L965.0,501.2L957.5,496.2L950.0,500.0L932.5,506.2L928.8,497.5"/>
<path fill="#CADEF0" stroke="none" d="M981.2,483.8 990.0,500.0 997.5,501.2 1007.5,500.0 1006.2,492.5 1010.0,480.0 1015.0,467.5 1000.0,470.0 980.0,471.2Z"/>
<path fill="none" d="M980.0,471.2L1000.0,470.0L1015.0,467.5L1010.0,480.0L1006.2,492.5L1007.5,500.0L997.5,501.2L990.0,500.0L981.2,483.8L980.0,471.2"/>
<path fill="#CADEF0" stroke="none" d="M1007.5,508.8 1000.0,511.2 990.0,507.5 982.5,498.8 973.8,500.0 975.0,510.0 966.2,512.5 962.5,516.2 972.5,517.5 976.2,525.0 987.5,536.2 995.0,540.0 1005.0,537.5 1015.0,532.5 1025.0,526.2 1030.0,522.5 1031.2,510.0 1033.0,495.0 1030.0,487.5 1040.0,481.2 1051.2,475.0 1047.5,465.0 1037.5,457.5 1027.5,462.5 1015.0,467.5 1010.0,480.0 1006.2,492.5 1007.5,500.0Z"/>
<path fill="none" d="M1007.5,500.0L1006.2,492.5L1010.0,480.0L1015.0,467.5L1027.5,462.5L1037.5,457.5L1047.5,465.0L1051.2,475.0L1040.0,481.2L1030.0,487.5L1033.0,495.0L1031.2,510.0L1030.0,522.5L1025.0,526.2L1015.0,532.5L1005.0,537.5L995.0,540.0L987.5,536.2L976.2,525.0L972.5,517.5L962.5,516.2L966.2,512.5L975.0,510.0L973.8,500.0L982.5,498.8L990.0,507.5L1000.0,511.2L1007.5,508.8L1007.5,500.0"/>
<path fill="#CADEF0" stroke="none" d="M966.2,512.5 975.0,510.0 973.8,500.0 982.5,498.8 990.0,507.5 1000.0,511.2 1007.5,508.8 1007.5,500.0 997.5,501.2 990.0,500.0 981.2,483.8 966.2,492.5 965.0,501.2Z"/>
<path fill="none" d="M965.0,501.2L966.2,492.5L981.2,483.8L990.0,500.0L997.5,501.2L1007.5,500.0L1007.5,508.8L1000.0,511.2L990.0,507.5L982.5,498.8L973.8,500.0L975.0,510.0L966.2,512.5L965.0,501.2"/>
<path fill="#9AC8E0" stroke="none" d="M992.5,502.0 997.5,500.0 993.8,494.5 990.0,496.2Z"/>
<path fill="none" d="M990.0,496.2L993.8,494.5L997.5,500.0L992.5,502.0L990.0,496.2"/>
<path fill="#CADEF0" stroke="none" d="M930.0,517.5 940.0,515.0 946.2,520.0 948.8,530.0 942.5,542.5 940.0,556.2 952.5,547.5 962.5,537.5 976.2,525.0 972.5,517.5 962.5,516.2 966.2,512.5 965.0,501.2 957.5,496.2 950.0,500.0 932.5,506.2Z"/>
<path fill="none" d="M932.5,506.2L950.0,500.0L957.5,496.2L965.0,501.2L966.2,512.5L962.5,516.2L972.5,517.5L976.2,525.0L962.5,537.5L952.5,547.5L940.0,556.2L942.5,542.5L948.8,530.0L946.2,520.0L940.0,515.0L930.0,517.5L932.5,506.2"/>
<path fill="#CADEF0" stroke="none" d="M951.2,551.2 957.5,553.8 955.0,561.2 960.0,566.2 967.5,563.8 968.8,552.5 975.0,550.0 981.2,556.2 982.5,567.5 991.2,565.0 997.5,556.2 1007.5,555.0 1016.2,548.8 1018.8,542.5 1024.5,540.0 1025.0,526.2 1015.0,532.5 1005.0,537.5 995.0,540.0 987.5,536.2 976.2,525.0 962.5,537.5 952.5,547.5 940.0,556.2Z"/>
<path fill="none" d="M940.0,556.2L952.5,547.5L962.5,537.5L976.2,525.0L987.5,536.2L995.0,540.0L1005.0,537.5L1015.0,532.5L1025.0,526.2L1024.5,540.0L1018.8,542.5L1016.2,548.8L1007.5,555.0L997.5,556.2L991.2,565.0L982.5,567.5L981.2,556.2L975.0,550.0L968.8,552.5L967.5,563.8L960.0,566.2L955.0,561.2L957.5,553.8L951.2,551.2L940.0,556.2"/>
<path fill="#CADEF0" stroke="none" d="M936.2,575.0 947.5,581.2 965.0,586.2 978.8,585.0 976.2,572.5 982.5,567.5 981.2,556.2 975.0,550.0 968.8,552.5 967.5,563.8 960.0,566.2 955.0,561.2 957.5,553.8 951.2,551.2 940.0,556.2 930.0,570.0Z"/>
<path fill="none" d="M930.0,570.0L940.0,556.2L951.2,551.2L957.5,553.8L955.0,561.2L960.0,566.2L967.5,563.8L968.8,552.5L975.0,550.0L981.2,556.2L982.5,567.5L976.2,572.5L978.8,585.0L965.0,586.2L947.5,581.2L936.2,575.0L930.0,570.0"/>
<path fill="#CADEF0" stroke="none" d="M905.0,610.0 976.2,610.0 976.2,597.5 978.8,585.0 965.0,586.2 947.5,581.2 936.2,575.0 930.0,570.0 917.5,590.0 902.5,605.0Z"/>
<path fill="none" d="M902.5,605.0L917.5,590.0L930.0,570.0L936.2,575.0L947.5,581.2L965.0,586.2L978.8,585.0L976.2,597.5L976.2,610.0M905.0,610.0L902.5,605.0"/>
<path fill="#3080BC" stroke="none" d="M880.0,607.5 890.0,606.2 902.5,605.0 917.5,590.0 930.0,570.0 940.0,556.2 937.5,553.8 927.5,548.8 910.0,552.5 895.0,556.2 880.0,555.0Z"/>
<path fill="none" d="M880.0,555.0L895.0,556.2L910.0,552.5L927.5,548.8L937.5,553.8L940.0,556.2L930.0,570.0L917.5,590.0L902.5,605.0L890.0,606.2L880.0,607.5"/>
<path fill="#5EA5D1" stroke="none" d="M880.0,610.0 905.0,610.0 902.5,605.0 890.0,606.2 880.0,607.5Z"/>
<path fill="none" d="M880.0,607.5L890.0,606.2L902.5,605.0L905.0,610.0"/>
<path fill="#5EA5D1" stroke="none" d="M880.0,436.2 897.5,435.0 910.0,433.8 920.0,431.2 940.0,428.8 932.5,418.8 922.5,417.5 917.5,411.2 926.2,405.0 925.0,395.0 913.8,386.2 916.2,370.0 880.0,370.0Z"/>
<path fill="none" d="M916.2,370.0L913.8,386.2L925.0,395.0L926.2,405.0L917.5,411.2L922.5,417.5L932.5,418.8L940.0,428.8L920.0,431.2L910.0,433.8L897.5,435.0L880.0,436.2"/>
<path fill="#CADEF0" stroke="none" d="M913.8,386.2 925.0,395.0 930.0,387.5 936.2,387.5 937.5,385.0 940.0,377.5 932.5,370.0 915.0,370.0Z"/>
<path fill="none" d="M932.5,370.0L940.0,377.5L937.5,385.0L936.2,387.5L930.0,387.5L925.0,395.0L913.8,386.2L915.0,370.0"/>
<path fill="#3080BC" stroke="none" d="M880.0,436.2 895.0,436.2 907.5,432.5 898.8,421.2 890.0,411.2 880.0,413.8Z"/>
<path fill="none" d="M880.0,413.8L890.0,411.2L898.8,421.2L907.5,432.5L895.0,436.2L880.0,436.2"/>
<path fill="#3080BC" stroke="none" d="M896.2,450.0 898.8,460.0 905.0,466.2 917.5,462.5 920.0,452.5 917.5,438.8 911.2,437.5 910.0,433.8 897.5,435.0 893.8,442.5Z"/>
<path fill="none" d="M893.8,442.5L897.5,435.0L910.0,433.8L911.2,437.5L917.5,438.8L920.0,452.5L917.5,462.5L905.0,466.2L898.8,460.0L896.2,450.0L893.8,442.5"/>
<path fill="#3080BC" stroke="none" d="M920.0,452.5 917.5,462.5 905.0,466.2 903.8,473.8 910.0,475.0 920.0,468.8 938.8,461.2 942.5,452.5 942.5,442.5 943.8,432.5 940.0,428.8 920.0,431.2 917.5,438.8Z"/>
<path fill="none" d="M917.5,438.8L920.0,431.2L940.0,428.8L943.8,432.5L942.5,442.5L942.5,452.5L938.8,461.2L920.0,468.8L910.0,475.0L903.8,473.8L905.0,466.2L917.5,462.5L920.0,452.5L917.5,438.8"/>
<path fill="#5EA5D1" stroke="none" d="M880.0,475.0 903.8,473.8 905.0,466.2 898.8,460.0 896.2,450.0 893.8,442.5 897.5,435.0 895.0,436.2 880.0,436.2Z"/>
<path fill="none" d="M880.0,436.2L895.0,436.2L897.5,435.0L893.8,442.5L896.2,450.0L898.8,460.0L905.0,466.2L903.8,473.8L880.0,475.0"/>
<path fill="#5EA5D1" stroke="none" d="M880.0,555.0 895.0,556.2 910.0,552.5 927.5,548.8 937.5,553.8 940.0,556.2 942.5,542.5 948.8,530.0 946.2,520.0 940.0,515.0 930.0,517.5 932.5,506.2 928.8,497.5 920.0,488.8 917.5,486.2 912.5,480.0 910.0,475.0 903.8,473.8 880.0,475.0Z"/>
<path fill="none" d="M880.0,475.0L903.8,473.8L910.0,475.0L912.5,480.0L917.5,486.2L920.0,488.8L928.8,497.5L932.5,506.2L930.0,517.5L940.0,515.0L946.2,520.0L948.8,530.0L942.5,542.5L940.0,556.2L937.5,553.8L927.5,548.8L910.0,552.5L895.0,556.2L880.0,555.0"/>
<path fill="#5EA5D1" stroke="none" d="M566.0,330.0 566.0,370.0 880.0,370.0 880.0,130.0 566.0,130.0Z"/>
<path fill="#3080BC" stroke="none" d="M671.0,205.0 676.0,212.5 696.0,208.8 702.2,198.8 701.0,197.0 691.0,194.5 678.5,192.5 666.0,196.2Z"/>
<path fill="none" d="M666.0,196.2L678.5,192.5L691.0,194.5L701.0,197.0L702.2,198.8L696.0,208.8L676.0,212.5L671.0,205.0L666.0,196.2"/>
<path fill="#0D57A1" stroke="none" d="M676.0,220.0 681.0,228.8 689.8,231.2 696.0,222.5 702.2,215.0 707.2,210.0 709.8,202.5 702.2,198.8 696.0,208.8 676.0,212.5Z"/>
<path fill="none" d="M676.0,212.5L696.0,208.8L702.2,198.8L709.8,202.5L707.2,210.0L702.2,215.0L696.0,222.5L689.8,231.2L681.0,228.8L676.0,220.0L676.0,212.5"/>
<path fill="#3080BC" stroke="none" d="M707.2,210.0 702.2,215.0 706.0,220.0 716.0,222.5 726.0,226.2 737.2,231.2 738.5,222.5 731.0,218.8 729.8,212.5 732.2,205.0 729.8,198.0 716.0,197.0 701.0,197.0 702.2,198.8 709.8,202.5Z"/>
<path fill="none" d="M709.8,202.5L702.2,198.8L701.0,197.0L716.0,197.0L729.8,198.0L732.2,205.0L729.8,212.5L731.0,218.8L738.5,222.5L737.2,231.2L726.0,226.2L716.0,222.5L706.0,220.0L702.2,215.0L707.2,210.0L709.8,202.5"/>
<path fill="#5EA5D1" stroke="none" d="M732.2,205.0 739.8,206.2 743.5,212.5 751.0,215.0 759.8,218.8 763.5,216.2 768.5,210.0 766.0,202.5 761.0,196.2 751.0,197.5 729.8,198.0Z"/>
<path fill="none" d="M729.8,198.0L751.0,197.5L761.0,196.2L766.0,202.5L768.5,210.0L763.5,216.2L759.8,218.8L751.0,215.0L743.5,212.5L739.8,206.2L732.2,205.0L729.8,198.0"/>
<path fill="#5EA5D1" stroke="none" d="M731.0,218.8 738.5,222.5 741.0,217.5 743.5,212.5 739.8,206.2 732.2,205.0 729.8,212.5Z"/>
<path fill="none" d="M729.8,212.5L732.2,205.0L739.8,206.2L743.5,212.5L741.0,217.5L738.5,222.5L731.0,218.8L729.8,212.5"/>
<path fill="#3080BC" stroke="none" d="M737.2,231.2 746.0,233.8 753.5,235.0 757.2,226.2 759.8,218.8 751.0,215.0 743.5,212.5 741.0,217.5 738.5,222.5Z"/>
<path fill="none" d="M738.5,222.5L741.0,217.5L743.5,212.5L751.0,215.0L759.8,218.8L757.2,226.2L753.5,235.0L746.0,233.8L737.2,231.2L738.5,222.5"/>
<path fill="#3080BC" stroke="none" d="M684.8,235.0 679.8,240.0 681.0,245.0 686.0,240.0 701.0,240.0 716.0,238.8 726.0,240.0 741.0,240.0 751.0,237.5 753.5,235.0 746.0,233.8 737.2,231.2 726.0,226.2 716.0,222.5 706.0,220.0 702.2,215.0 696.0,222.5 689.8,231.2Z"/>
<path fill="none" d="M689.8,231.2L696.0,222.5L702.2,215.0L706.0,220.0L716.0,222.5L726.0,226.2L737.2,231.2L746.0,233.8L753.5,235.0L751.0,237.5L741.0,240.0L726.0,240.0L716.0,238.8L701.0,240.0L686.0,240.0L681.0,245.0L679.8,240.0L684.8,235.0L689.8,231.2"/>
<path fill="#0D57A1" stroke="none" d="M717.2,245.0 723.5,248.8 731.0,251.2 738.5,250.0 746.0,247.5 751.0,242.5 752.2,236.2 741.0,240.0 726.0,240.0 714.8,240.0Z"/>
<path fill="none" d="M714.8,240.0L726.0,240.0L741.0,240.0L752.2,236.2L751.0,242.5L746.0,247.5L738.5,250.0L731.0,251.2L723.5,248.8L717.2,245.0L714.8,240.0"/>
<path fill="#0D57A1" stroke="none" d="M757.2,238.8 766.0,238.8 778.5,236.2 781.0,232.5 771.0,230.0 766.0,227.5 771.0,220.0 776.0,215.0 773.5,210.0 768.5,200.0 766.0,202.5 768.5,210.0 763.5,216.2 759.8,218.8 757.2,226.2 753.5,235.0Z"/>
<path fill="none" d="M753.5,235.0L757.2,226.2L759.8,218.8L763.5,216.2L768.5,210.0L766.0,202.5L768.5,200.0L773.5,210.0L776.0,215.0L771.0,220.0L766.0,227.5L771.0,230.0L781.0,232.5L778.5,236.2L766.0,238.8L757.2,238.8L753.5,235.0"/>
<path fill="#0D57A1" stroke="none" d="M773.5,210.0 776.0,215.0 781.0,212.5 791.0,211.2 799.8,205.0 806.0,205.0 812.2,196.2 808.0,195.0 806.0,181.2 796.0,182.5 783.5,186.2 773.5,192.5 768.5,200.0Z"/>
<path fill="none" d="M768.5,200.0L773.5,192.5L783.5,186.2L796.0,182.5L806.0,181.2L808.0,195.0L812.2,196.2L806.0,205.0L799.8,205.0L791.0,211.2L781.0,212.5L776.0,215.0L773.5,210.0L768.5,200.0"/>
<path fill="#0D57A1" stroke="none" d="M798.5,230.0 806.0,232.5 813.5,226.2 815.5,212.5 813.5,201.2 806.0,207.5 798.5,217.5 792.2,226.2Z"/>
<path fill="none" d="M792.2,226.2L798.5,217.5L806.0,207.5L813.5,201.2L815.5,212.5L813.5,226.2L806.0,232.5L798.5,230.0L792.2,226.2"/>
<path fill="#5EA5D1" stroke="none" d="M771.0,230.0 781.0,232.5 786.0,230.0 792.2,226.2 796.0,217.5 803.5,210.0 799.8,205.0 791.0,211.2 781.0,212.5 776.0,215.0 771.0,220.0 766.0,227.5Z"/>
<path fill="none" d="M766.0,227.5L771.0,220.0L776.0,215.0L781.0,212.5L791.0,211.2L799.8,205.0L803.5,210.0L796.0,217.5L792.2,226.2L786.0,230.0L781.0,232.5L771.0,230.0L766.0,227.5"/>
<path fill="#0D57A1" stroke="none" d="M776.0,245.0 783.5,240.0 791.0,235.0 801.0,237.5 806.0,232.5 798.5,230.0 792.2,226.2 786.0,230.0 781.0,232.5 778.5,236.2 771.0,240.0Z"/>
<path fill="none" d="M771.0,240.0L778.5,236.2L781.0,232.5L786.0,230.0L792.2,226.2L798.5,230.0L806.0,232.5L801.0,237.5L791.0,235.0L783.5,240.0L776.0,245.0L771.0,240.0"/>
<path fill="#9AC8E0" stroke="none" d="M751.0,250.0 753.5,253.8 761.0,255.0 769.8,252.5 771.0,245.0 766.0,240.0 756.0,240.0 749.8,245.0Z"/>
<path fill="none" d="M749.8,245.0L756.0,240.0L766.0,240.0L771.0,245.0L769.8,252.5L761.0,255.0L753.5,253.8L751.0,250.0L749.8,245.0"/>
<path fill="#3080BC" stroke="none" d="M808.0,195.0 812.2,196.2 813.5,201.2 815.5,212.5 813.5,226.2 821.0,230.0 826.0,228.8 836.0,222.5 834.8,205.0 836.0,196.2 834.8,191.2 828.5,183.8 823.5,173.8 818.5,170.0 811.0,172.5 808.0,181.2Z"/>
<path fill="none" d="M808.0,181.2L811.0,172.5L818.5,170.0L823.5,173.8L828.5,183.8L834.8,191.2L836.0,196.2L834.8,205.0L836.0,222.5L826.0,228.8L821.0,230.0L813.5,226.2L815.5,212.5L813.5,201.2L812.2,196.2L808.0,195.0L808.0,181.2"/>
<path fill="#3080BC" stroke="none" d="M838.5,208.8 848.5,202.5 861.0,197.5 872.2,195.0 873.5,191.2 856.0,192.5 836.0,196.2 834.8,205.0Z"/>
<path fill="none" d="M834.8,205.0L836.0,196.2L856.0,192.5L873.5,191.2L872.2,195.0L861.0,197.5L848.5,202.5L838.5,208.8L834.8,205.0"/>
<path fill="#9AC8E0" stroke="none" d="M766.0,202.5 768.5,200.0 773.5,192.5 783.5,186.2 796.0,182.5 806.0,181.2 808.0,181.2 807.2,172.5 807.2,160.0 803.5,159.5 793.5,163.8 783.5,170.0 773.5,180.0 766.0,190.0 761.0,196.2Z"/>
<path fill="none" d="M761.0,196.2L766.0,190.0L773.5,180.0L783.5,170.0L793.5,163.8L803.5,159.5L807.2,160.0L807.2,172.5L808.0,181.2L806.0,181.2L796.0,182.5L783.5,186.2L773.5,192.5L768.5,200.0L766.0,202.5L761.0,196.2"/>
<path fill="#9AC8E0" stroke="none" d="M807.2,172.5 811.0,172.5 818.5,170.0 823.5,173.8 828.5,183.8 828.5,178.8 841.0,176.2 851.0,170.0 862.2,166.2 863.5,172.5 858.5,178.8 861.0,186.2 873.5,183.8 880.0,183.2 880.0,148.0 861.0,148.8 841.0,150.5 816.0,157.0 807.2,160.0Z"/>
<path fill="none" d="M807.2,160.0L816.0,157.0L841.0,150.5L861.0,148.8L880.0,148.0M880.0,183.2L873.5,183.8L861.0,186.2L858.5,178.8L863.5,172.5L862.2,166.2L851.0,170.0L841.0,176.2L828.5,178.8L828.5,183.8L823.5,173.8L818.5,170.0L811.0,172.5L807.2,172.5L807.2,160.0"/>
<path fill="#9AC8E0" stroke="none" d="M834.8,191.2 836.0,196.2 856.0,192.5 873.5,191.2 876.0,188.8 873.5,183.8 861.0,186.2 858.5,178.8 863.5,172.5 862.2,166.2 851.0,170.0 841.0,176.2 828.5,178.8 828.5,183.8Z"/>
<path fill="none" d="M828.5,183.8L828.5,178.8L841.0,176.2L851.0,170.0L862.2,166.2L863.5,172.5L858.5,178.8L861.0,186.2L873.5,183.8L876.0,188.8L873.5,191.2L856.0,192.5L836.0,196.2L834.8,191.2L828.5,183.8"/>
<path fill="#5EA5D1" stroke="none" d="M872.2,195.0 874.8,205.0 880.0,211.0 880.0,183.2 873.5,183.8 876.0,188.8 873.5,191.2Z"/>
<path fill="none" d="M873.5,191.2L876.0,188.8L873.5,183.8L880.0,183.2M880.0,211.0L874.8,205.0L872.2,195.0L873.5,191.2"/>
<path fill="#9AC8E0" stroke="none" d="M836.0,215.0 837.2,222.5 848.5,227.5 849.8,240.0 853.5,257.5 856.0,270.0 863.5,265.0 868.5,258.8 876.0,252.5 880.0,247.2 880.0,211.0 874.8,205.0 872.2,195.0 861.0,197.5 848.5,202.5 838.5,208.8Z"/>
<path fill="none" d="M838.5,208.8L848.5,202.5L861.0,197.5L872.2,195.0L874.8,205.0L880.0,211.0M880.0,247.2L876.0,252.5L868.5,258.8L863.5,265.0L856.0,270.0L853.5,257.5L849.8,240.0L848.5,227.5L837.2,222.5L836.0,215.0L838.5,208.8"/>
<path fill="#3080BC" stroke="none" d="M872.2,216.2 877.2,223.8 880.0,223.8 880.0,213.8 877.2,207.5 872.2,205.0 869.8,210.0Z"/>
<path fill="none" d="M869.8,210.0L872.2,205.0L877.2,207.5L880.0,213.9M880.0,223.8L877.2,223.8L872.2,216.2L869.8,210.0"/>
<path fill="#9AC8E0" stroke="none" d="M859.8,282.5 863.5,295.0 864.8,307.5 873.5,301.2 880.0,300.7 880.0,273.2 876.0,270.0 868.5,258.8 863.5,265.0 856.0,270.0Z"/>
<path fill="none" d="M856.0,270.0L863.5,265.0L868.5,258.8L876.0,270.0L880.0,273.2M880.0,300.7L873.5,301.2L864.8,307.5L863.5,295.0L859.8,282.5L856.0,270.0"/>
<path fill="#9AC8E0" stroke="none" d="M876.0,270.0 880.0,273.2 880.0,247.2 876.0,252.5 868.5,258.8Z"/>
<path fill="none" d="M868.5,258.8L876.0,252.5L880.0,247.2M880.0,273.2L876.0,270.0L868.5,258.8"/>
<path fill="#CADEF0" stroke="none" d="M868.5,315.0 861.0,321.2 873.5,325.0 880.0,326.4 880.0,300.7 873.5,301.2 864.8,307.5Z"/>
<path fill="none" d="M864.8,307.5L873.5,301.2L880.0,300.7M880.0,326.4L873.5,325.0L861.0,321.2L868.5,315.0L864.8,307.5"/>
<path fill="#3080BC" stroke="none" d="M803.5,260.0 806.0,267.5 813.5,272.5 823.5,275.0 826.0,285.0 836.0,292.5 846.0,287.5 859.8,282.5 856.0,270.0 853.5,257.5 849.8,240.0 848.5,227.5 837.2,222.5 836.0,222.5 826.0,228.8 821.0,230.0 813.5,226.2 806.0,232.5 799.8,250.0Z"/>
<path fill="none" d="M799.8,250.0L806.0,232.5L813.5,226.2L821.0,230.0L826.0,228.8L836.0,222.5L837.2,222.5L848.5,227.5L849.8,240.0L853.5,257.5L856.0,270.0L859.8,282.5L846.0,287.5L836.0,292.5L826.0,285.0L823.5,275.0L813.5,272.5L806.0,267.5L803.5,260.0L799.8,250.0"/>
<path fill="#5EA5D1" stroke="none" d="M769.8,252.5 771.0,266.2 776.0,270.0 786.0,268.8 801.0,265.0 803.5,260.0 799.8,250.0 801.0,237.5 791.0,235.0 783.5,240.0 776.0,245.0 771.0,245.0Z"/>
<path fill="none" d="M771.0,245.0L776.0,245.0L783.5,240.0L791.0,235.0L801.0,237.5L799.8,250.0L803.5,260.0L801.0,265.0L786.0,268.8L776.0,270.0L771.0,266.2L769.8,252.5L771.0,245.0"/>
<path fill="#5EA5D1" stroke="none" d="M731.0,257.5 734.8,265.0 738.5,273.8 751.0,270.0 763.5,270.0 771.0,266.2 769.8,252.5 761.0,255.0 753.5,253.8 751.0,250.0 746.0,247.5 738.5,250.0 731.0,251.2Z"/>
<path fill="none" d="M731.0,251.2L738.5,250.0L746.0,247.5L751.0,250.0L753.5,253.8L761.0,255.0L769.8,252.5L771.0,266.2L763.5,270.0L751.0,270.0L738.5,273.8L734.8,265.0L731.0,257.5L731.0,251.2"/>
<path fill="#0D57A1" stroke="none" d="M736.0,282.5 738.5,290.0 743.5,297.5 749.8,292.5 756.0,285.0 761.0,277.5 771.0,275.0 776.0,270.0 771.0,266.2 763.5,270.0 751.0,270.0 738.5,273.8Z"/>
<path fill="none" d="M738.5,273.8L751.0,270.0L763.5,270.0L771.0,266.2L776.0,270.0L771.0,275.0L761.0,277.5L756.0,285.0L749.8,292.5L743.5,297.5L738.5,290.0L736.0,282.5L738.5,273.8"/>
<path fill="#5EA5D1" stroke="none" d="M756.0,285.0 756.0,290.0 766.0,290.0 776.0,287.5 791.0,285.0 803.5,282.5 816.0,280.0 826.0,285.0 823.5,275.0 813.5,272.5 806.0,267.5 803.5,260.0 801.0,265.0 786.0,268.8 776.0,270.0 771.0,275.0 761.0,277.5Z"/>
<path fill="none" d="M761.0,277.5L771.0,275.0L776.0,270.0L786.0,268.8L801.0,265.0L803.5,260.0L806.0,267.5L813.5,272.5L823.5,275.0L826.0,285.0L816.0,280.0L803.5,282.5L791.0,285.0L776.0,287.5L766.0,290.0L756.0,290.0L756.0,285.0L761.0,277.5"/>
<path fill="#3080BC" stroke="none" d="M758.5,315.0 768.5,315.0 771.0,305.0 771.0,290.0 758.5,291.2Z"/>
<path fill="none" d="M758.5,291.2L771.0,290.0L771.0,305.0L768.5,315.0L758.5,315.0L758.5,291.2"/>
<path fill="#3080BC" stroke="none" d="M756.0,347.5 773.5,348.8 776.0,337.5 771.0,327.5 766.0,330.0 754.8,333.8Z"/>
<path fill="none" d="M754.8,333.8L766.0,330.0L771.0,327.5L776.0,337.5L773.5,348.8L756.0,347.5L754.8,333.8"/>
<path fill="#9AC8E0" stroke="none" d="M684.8,355.0 685.5,368.8 694.0,364.0 706.0,369.5 726.0,368.0 751.0,365.0 753.5,365.5 752.2,347.5 754.8,333.8 754.8,330.0 748.5,327.5 738.5,322.5 726.0,320.0 716.0,322.5 706.0,330.0 696.0,340.0 686.0,350.0Z"/>
<path fill="none" d="M686.0,350.0L696.0,340.0L706.0,330.0L716.0,322.5L726.0,320.0L738.5,322.5L748.5,327.5L754.8,330.0L754.8,333.8L752.2,347.5L753.5,365.5L751.0,365.0L726.0,368.0L706.0,369.5L694.0,364.0L685.5,368.8L684.8,355.0L686.0,350.0"/>
<path fill="#9AC8E0" stroke="none" d="M828.5,370.0 831.0,365.0 826.0,361.2 816.0,361.2 809.8,355.0 806.0,345.0 801.0,356.2 778.5,350.0 773.5,348.8 756.0,347.5 752.2,350.0 753.5,370.0Z"/>
<path fill="none" d="M753.5,370.0L752.2,350.0L756.0,347.5L773.5,348.8L778.5,350.0L801.0,356.2L806.0,345.0L809.8,355.0L816.0,361.2L826.0,361.2L831.0,365.0L828.5,370.0"/>
<path fill="#9AC8E0" stroke="none" d="M809.8,355.0 816.0,361.2 826.0,361.2 831.0,365.0 836.0,360.0 843.5,347.5 853.5,342.5 866.0,337.5 873.5,325.0 861.0,321.2 841.0,330.0 828.5,337.5 806.0,345.0Z"/>
<path fill="none" d="M806.0,345.0L828.5,337.5L841.0,330.0L861.0,321.2L873.5,325.0L866.0,337.5L853.5,342.5L843.5,347.5L836.0,360.0L831.0,365.0L826.0,361.2L816.0,361.2L809.8,355.0L806.0,345.0"/>
<path fill="#5EA5D1" stroke="none" d="M831.0,365.0 828.5,370.0 880.0,370.0 880.0,326.4 873.5,325.0 866.0,337.5 853.5,342.5 843.5,347.5 836.0,360.0Z"/>
<path fill="none" d="M836.0,360.0L843.5,347.5L853.5,342.5L866.0,337.5L873.5,325.0L880.0,326.4M828.5,370.0L831.0,365.0L836.0,360.0"/>
<path fill="#3080BC" stroke="none" d="M683.5,337.5 691.0,343.8 696.0,340.0 706.0,330.0 716.0,322.5 706.0,312.5 702.2,305.0 696.0,307.5 688.5,320.0 679.8,332.5Z"/>
<path fill="none" d="M679.8,332.5L688.5,320.0L696.0,307.5L702.2,305.0L706.0,312.5L716.0,322.5L706.0,330.0L696.0,340.0L691.0,343.8L683.5,337.5L679.8,332.5"/>
<path fill="#3080BC" stroke="none" d="M702.2,305.0 706.0,312.5 716.0,322.5 721.0,315.0 731.0,307.5 726.0,300.0 716.0,292.5 697.2,296.2Z"/>
<path fill="none" d="M697.2,296.2L716.0,292.5L726.0,300.0L731.0,307.5L721.0,315.0L716.0,322.5L706.0,312.5L702.2,305.0L697.2,296.2"/>
<path fill="#5EA5D1" stroke="none" d="M726.0,320.0 738.5,322.5 748.5,327.5 754.8,330.0 756.0,315.0 756.0,290.0 749.8,292.5 741.0,302.5 731.0,307.5 721.0,315.0 716.0,322.5Z"/>
<path fill="none" d="M716.0,322.5L721.0,315.0L731.0,307.5L741.0,302.5L749.8,292.5L756.0,290.0L756.0,315.0L754.8,330.0L748.5,327.5L738.5,322.5L726.0,320.0L716.0,322.5"/>
<path fill="#9AC8E0" stroke="none" d="M684.8,305.0 686.0,317.5 691.0,315.0 696.0,302.5 688.5,293.8 683.5,295.0Z"/>
<path fill="none" d="M683.5,295.0L688.5,293.8L696.0,302.5L691.0,315.0L686.0,317.5L684.8,305.0L683.5,295.0"/>
<path fill="#3080BC" stroke="none" d="M591.0,173.8 596.0,178.8 606.0,173.8 612.2,165.0 603.5,156.2 589.8,167.5Z"/>
<path fill="none" d="M589.8,167.5L603.5,156.2L612.2,165.0L606.0,173.8L596.0,178.8L591.0,173.8L589.8,167.5"/>
<path fill="#3080BC" stroke="none" d="M604.8,210.0 609.8,212.5 616.0,205.0 619.8,196.2 609.8,197.5 603.5,202.5Z"/>
<path fill="none" d="M603.5,202.5L609.8,197.5L619.8,196.2L616.0,205.0L609.8,212.5L604.8,210.0L603.5,202.5"/>
<path fill="#3080BC" stroke="none" d="M573.5,237.5 581.0,240.0 587.2,232.5 586.0,218.8 572.2,222.5Z"/>
<path fill="none" d="M572.2,222.5L586.0,218.8L587.2,232.5L581.0,240.0L573.5,237.5L572.2,222.5"/>
<path fill="#3080BC" stroke="none" d="M623.5,262.5 633.5,265.0 639.8,258.8 631.0,251.2 619.8,255.0Z"/>
<path fill="none" d="M619.8,255.0L631.0,251.2L639.8,258.8L633.5,265.0L623.5,262.5L619.8,255.0"/>
<path fill="#3080BC" stroke="none" d="M676.0,267.5 683.5,270.0 688.5,265.0 681.0,255.0 673.5,260.0Z"/>
<path fill="none" d="M673.5,260.0L681.0,255.0L688.5,265.0L683.5,270.0L676.0,267.5L673.5,260.0"/>
<path fill="#3080BC" stroke="none" d="M661.0,216.2 671.0,212.5 666.0,205.0 651.0,210.0Z"/>
<path fill="none" d="M651.0,210.0L666.0,205.0L671.0,212.5L661.0,216.2L651.0,210.0"/>
<path fill="#9AC8E0" stroke="none" d="M594.8,202.5 598.5,195.0 601.0,181.2 593.5,186.2 591.0,197.5Z"/>
<path fill="none" d="M591.0,197.5L593.5,186.2L601.0,181.2L598.5,195.0L594.8,202.5L591.0,197.5"/>
<path fill="#9AC8E0" stroke="none" d="M629.8,193.8 637.2,192.5 638.5,185.0 633.5,181.2 627.2,183.8Z"/>
<path fill="none" d="M627.2,183.8L633.5,181.2L638.5,185.0L637.2,192.5L629.8,193.8L627.2,183.8"/>
<path fill="#9AC8E0" stroke="none" d="M639.8,191.2 643.5,190.0 648.5,180.0 639.8,181.2Z"/>
<path fill="none" d="M639.8,181.2L648.5,180.0L643.5,190.0L639.8,191.2L639.8,181.2"/>
<path fill="#9AC8E0" stroke="none" d="M607.2,272.5 611.0,282.5 616.0,275.0 626.0,268.8 619.8,260.0 613.5,252.5 607.2,250.0Z"/>
<path fill="none" d="M607.2,250.0L613.5,252.5L619.8,260.0L626.0,268.8L616.0,275.0L611.0,282.5L607.2,272.5L607.2,250.0"/>
<path fill="#CADEF0" stroke="none" d="M628.5,277.5 634.8,282.5 642.2,283.8 641.0,277.5 632.2,268.8 624.8,270.0Z"/>
<path fill="none" d="M624.8,270.0L632.2,268.8L641.0,277.5L642.2,283.8L634.8,282.5L628.5,277.5L624.8,270.0"/>
<path fill="#9AC8E0" stroke="none" d="M637.2,312.5 642.2,321.2 651.0,317.5 653.5,305.0 646.0,292.5 638.5,295.0Z"/>
<path fill="none" d="M638.5,295.0L646.0,292.5L653.5,305.0L651.0,317.5L642.2,321.2L637.2,312.5L638.5,295.0"/>
<path fill="#9AC8E0" stroke="none" d="M566.0,265.0 577.2,260.0 578.5,247.5 566.0,240.0Z"/>
<path fill="none" d="M566.0,240.0L578.5,247.5L577.2,260.0L566.0,265.0"/>
<path fill="#9AC8E0" stroke="none" d="M586.0,282.5 598.5,285.0 606.0,280.0 603.5,266.2 587.2,270.0Z"/>
<path fill="none" d="M587.2,270.0L603.5,266.2L606.0,280.0L598.5,285.0L586.0,282.5L587.2,270.0"/>
<path fill="#9AC8E0" stroke="none" d="M571.0,295.0 586.0,292.5 588.5,285.0 569.8,285.0Z"/>
<path fill="none" d="M569.8,285.0L588.5,285.0L586.0,292.5L571.0,295.0L569.8,285.0"/>
<path fill="#3080BC" stroke="none" d="M596.0,355.0 601.0,370.0 631.0,370.0 641.0,355.0 631.0,340.0 616.0,333.8 601.0,337.5Z"/>
<path fill="none" d="M601.0,337.5L616.0,333.8L631.0,340.0L641.0,355.0L631.0,370.0M601.0,370.0L596.0,355.0L601.0,337.5"/>
<path fill="#3080BC" stroke="none" d="M566.0,307.5 578.5,310.0 586.0,302.5 578.5,290.0 566.0,282.5Z"/>
<path fill="none" d="M566.0,282.5L578.5,290.0L586.0,302.5L578.5,310.0L566.0,307.5"/>
<path fill="#3080BC" stroke="none" d="M586.0,345.0 596.0,342.5 601.0,337.5 593.5,330.0 583.5,335.0Z"/>
<path fill="none" d="M583.5,335.0L593.5,330.0L601.0,337.5L596.0,342.5L586.0,345.0L583.5,335.0"/>
<path fill="#3080BC" stroke="none" d="M566.0,370.0 601.0,370.0 596.0,355.0 581.0,347.5 566.0,350.0Z"/>
<path fill="none" d="M566.0,350.0L581.0,347.5L596.0,355.0L601.0,370.0"/>
<path fill="#5EA5D1" stroke="none" d="M566.0,570.0 566.0,610.0 880.0,610.0 880.0,370.0 566.0,370.0Z"/>
<path fill="#CADEF0" stroke="none" d="M566.0,428.8 573.5,427.5 583.5,423.8 582.2,416.2 587.2,407.5 594.8,400.0 591.0,392.5 583.5,390.0 573.5,393.8 566.0,391.2Z"/>
<path fill="none" d="M566.0,391.2L573.5,393.8L583.5,390.0L591.0,392.5L594.8,400.0L587.2,407.5L582.2,416.2L583.5,423.8L573.5,427.5L566.0,428.8"/>
<path fill="#3080BC" stroke="none" d="M566.0,385.0 574.8,386.2 583.5,389.5 591.0,392.5 596.0,397.5 603.5,393.8 609.8,388.8 618.5,385.0 611.0,378.8 622.2,376.2 626.0,370.0 566.0,370.0Z"/>
<path fill="none" d="M626.0,370.0L622.2,376.2L611.0,378.8L618.5,385.0L609.8,388.8L603.5,393.8L596.0,397.5L591.0,392.5L583.5,389.5L574.8,386.2L566.0,385.0"/>
<path fill="#3080BC" stroke="none" d="M618.5,385.0 622.2,397.5 623.5,407.5 629.8,415.0 636.0,426.2 653.5,437.5 654.8,443.8 659.8,450.0 662.2,460.0 671.0,458.8 671.0,438.8 661.0,437.5 659.8,422.5 652.2,415.0 649.8,407.5 652.2,395.0 646.0,385.0 633.5,380.0 622.2,376.2 611.0,378.8Z"/>
<path fill="none" d="M611.0,378.8L622.2,376.2L633.5,380.0L646.0,385.0L652.2,395.0L649.8,407.5L652.2,415.0L659.8,422.5L661.0,437.5L671.0,438.8L671.0,458.8L662.2,460.0L659.8,450.0L654.8,443.8L653.5,437.5L636.0,426.2L629.8,415.0L623.5,407.5L622.2,397.5L618.5,385.0L611.0,378.8"/>
<path fill="#3080BC" stroke="none" d="M622.2,442.5 622.2,452.5 628.5,465.0 633.5,477.5 646.0,470.0 651.0,462.5 662.2,460.0 659.8,450.0 654.8,443.8 653.5,437.5 636.0,426.2 624.8,430.0 619.8,435.0Z"/>
<path fill="none" d="M619.8,435.0L624.8,430.0L636.0,426.2L653.5,437.5L654.8,443.8L659.8,450.0L662.2,460.0L651.0,462.5L646.0,470.0L633.5,477.5L628.5,465.0L622.2,452.5L622.2,442.5L619.8,435.0"/>
<path fill="#5EA5D1" stroke="none" d="M583.5,423.8 591.0,430.0 598.5,435.0 607.2,431.2 624.8,430.0 636.0,426.2 629.8,415.0 623.5,407.5 622.2,397.5 618.5,385.0 609.8,388.8 603.5,393.8 594.8,400.0 587.2,407.5 582.2,416.2Z"/>
<path fill="none" d="M582.2,416.2L587.2,407.5L594.8,400.0L603.5,393.8L609.8,388.8L618.5,385.0L622.2,397.5L623.5,407.5L629.8,415.0L636.0,426.2L624.8,430.0L607.2,431.2L598.5,435.0L591.0,430.0L583.5,423.8L582.2,416.2"/>
<path fill="#5EA5D1" stroke="none" d="M622.2,376.2 633.5,380.0 646.0,385.0 651.0,378.8 662.2,377.5 667.2,376.2 666.0,370.0 626.0,370.0Z"/>
<path fill="none" d="M666.0,370.0L667.2,376.2L662.2,377.5L651.0,378.8L646.0,385.0L633.5,380.0L622.2,376.2L626.0,370.0"/>
<path fill="#5EA5D1" stroke="none" d="M646.0,385.0 652.2,395.0 649.8,407.5 652.2,415.0 659.8,422.5 661.0,437.5 671.0,438.8 673.5,437.5 672.2,420.0 678.5,413.8 686.0,405.0 681.0,397.5 683.5,391.2 676.0,385.0 664.8,382.5 662.2,377.5 651.0,378.8Z"/>
<path fill="none" d="M651.0,378.8L662.2,377.5L664.8,382.5L676.0,385.0L683.5,391.2L681.0,397.5L686.0,405.0L678.5,413.8L672.2,420.0L673.5,437.5L671.0,438.8L661.0,437.5L659.8,422.5L652.2,415.0L649.8,407.5L652.2,395.0L646.0,385.0L651.0,378.8"/>
<path fill="#5EA5D1" stroke="none" d="M667.2,376.2 662.2,377.5 664.8,382.5 676.0,385.0 683.5,391.2 684.8,390.0 691.0,380.0 689.8,370.0 666.0,370.0Z"/>
<path fill="none" d="M689.8,370.0L691.0,380.0L684.8,390.0L683.5,391.2L676.0,385.0L664.8,382.5L662.2,377.5L667.2,376.2L666.0,370.0"/>
<path fill="#5EA5D1" stroke="none" d="M691.0,380.0 684.8,390.0 683.5,391.2 681.0,397.5 686.0,405.0 698.5,410.0 701.0,420.0 702.2,436.2 718.5,432.5 726.0,435.0 727.2,446.2 733.5,445.0 732.2,437.5 737.2,426.2 743.5,425.0 752.2,422.5 757.2,415.0 758.5,402.5 756.0,388.8 752.2,380.0 751.0,370.0 689.8,370.0Z"/>
<path fill="none" d="M751.0,370.0L752.2,380.0L756.0,388.8L758.5,402.5L757.2,415.0L752.2,422.5L743.5,425.0L737.2,426.2L732.2,437.5L733.5,445.0L727.2,446.2L726.0,435.0L718.5,432.5L702.2,436.2L701.0,420.0L698.5,410.0L686.0,405.0L681.0,397.5L683.5,391.2L684.8,390.0L691.0,380.0L689.8,370.0"/>
<path fill="#5EA5D1" stroke="none" d="M673.5,437.5 671.0,438.8 671.0,458.8 673.5,457.5 677.2,457.5 682.2,455.0 686.0,445.0 693.5,435.0 702.2,436.2 701.0,420.0 698.5,410.0 686.0,405.0 678.5,413.8 672.2,420.0Z"/>
<path fill="none" d="M672.2,420.0L678.5,413.8L686.0,405.0L698.5,410.0L701.0,420.0L702.2,436.2L693.5,435.0L686.0,445.0L682.2,455.0L677.2,457.5L673.5,457.5L671.0,458.8L671.0,438.8L673.5,437.5L672.2,420.0"/>
<path fill="#5EA5D1" stroke="none" d="M682.2,455.0 678.5,466.2 691.0,468.8 698.5,460.0 701.0,455.0 702.2,436.2 693.5,435.0 686.0,445.0Z"/>
<path fill="none" d="M686.0,445.0L693.5,435.0L702.2,436.2L701.0,455.0L698.5,460.0L691.0,468.8L678.5,466.2L682.2,455.0L686.0,445.0"/>
<path fill="#5EA5D1" stroke="none" d="M701.0,455.0 714.8,460.0 723.5,455.0 727.2,446.2 726.0,435.0 718.5,432.5 702.2,436.2Z"/>
<path fill="none" d="M702.2,436.2L718.5,432.5L726.0,435.0L727.2,446.2L723.5,455.0L714.8,460.0L701.0,455.0L702.2,436.2"/>
<path fill="#3080BC" stroke="none" d="M733.5,445.0 736.0,446.2 758.5,446.2 758.5,442.5 752.2,430.0 743.5,425.0 737.2,426.2 732.2,437.5Z"/>
<path fill="none" d="M732.2,437.5L737.2,426.2L743.5,425.0L752.2,430.0L758.5,442.5L758.5,446.2L736.0,446.2L733.5,445.0L732.2,437.5"/>
<path fill="#5EA5D1" stroke="none" d="M756.0,428.8 766.0,438.8 783.5,445.0 788.5,435.0 809.8,431.2 808.5,412.5 806.0,396.2 791.0,400.0 778.5,403.8 773.5,396.2 766.0,390.0 756.0,388.8 758.5,402.5 757.2,415.0 752.2,422.5Z"/>
<path fill="none" d="M752.2,422.5L757.2,415.0L758.5,402.5L756.0,388.8L766.0,390.0L773.5,396.2L778.5,403.8L791.0,400.0L806.0,396.2L808.5,412.5L809.8,431.2L788.5,435.0L783.5,445.0L766.0,438.8L756.0,428.8L752.2,422.5"/>
<path fill="#9AC8E0" stroke="none" d="M752.2,380.0 756.0,388.8 766.0,390.0 773.5,396.2 778.5,403.8 791.0,400.0 806.0,396.2 816.0,388.8 828.5,380.0 831.0,370.0 751.0,370.0Z"/>
<path fill="none" d="M831.0,370.0L828.5,380.0L816.0,388.8L806.0,396.2L791.0,400.0L778.5,403.8L773.5,396.2L766.0,390.0L756.0,388.8L752.2,380.0L751.0,370.0"/>
<path fill="#9AC8E0" stroke="none" d="M808.5,412.5 812.2,412.5 823.5,413.8 828.5,418.8 843.5,416.2 856.0,420.0 857.2,402.5 853.5,397.5 846.0,395.0 834.8,387.5 828.5,380.0 816.0,388.8 806.0,396.2Z"/>
<path fill="none" d="M806.0,396.2L816.0,388.8L828.5,380.0L834.8,387.5L846.0,395.0L853.5,397.5L857.2,402.5L856.0,420.0L843.5,416.2L828.5,418.8L823.5,413.8L812.2,412.5L808.5,412.5L806.0,396.2"/>
<path fill="#9AC8E0" stroke="none" d="M782.2,455.0 791.0,456.2 796.0,460.0 806.0,465.0 816.0,462.5 826.0,470.0 833.5,477.5 841.0,475.0 853.5,470.0 868.5,467.5 866.0,452.5 866.0,442.5 857.2,432.5 846.0,430.0 853.5,426.2 856.0,420.0 843.5,416.2 828.5,418.8 823.5,413.8 812.2,412.5 808.5,412.5 809.8,431.2 788.5,435.0 783.5,445.0Z"/>
<path fill="none" d="M783.5,445.0L788.5,435.0L809.8,431.2L808.5,412.5L812.2,412.5L823.5,413.8L828.5,418.8L843.5,416.2L856.0,420.0L853.5,426.2L846.0,430.0L857.2,432.5L866.0,442.5L866.0,452.5L868.5,467.5L853.5,470.0L841.0,475.0L833.5,477.5L826.0,470.0L816.0,462.5L806.0,465.0L796.0,460.0L791.0,456.2L782.2,455.0L783.5,445.0"/>
<path fill="#5EA5D1" stroke="none" d="M828.5,380.0 834.8,387.5 846.0,395.0 853.5,397.5 857.2,402.5 863.5,401.2 872.2,402.5 880.0,405.1 880.0,374.5 878.5,370.0 831.0,370.0Z"/>
<path fill="none" d="M878.5,370.0L880.0,374.5M880.0,405.1L872.2,402.5L863.5,401.2L857.2,402.5L853.5,397.5L846.0,395.0L834.8,387.5L828.5,380.0L831.0,370.0"/>
<path fill="#3080BC" stroke="none" d="M856.0,420.0 853.5,426.2 846.0,430.0 857.2,432.5 866.0,442.5 868.5,452.5 878.5,440.0 880.0,439.5 880.0,405.1 872.2,402.5 863.5,401.2 857.2,402.5Z"/>
<path fill="none" d="M857.2,402.5L863.5,401.2L872.2,402.5L880.0,405.1M880.0,439.5L878.5,440.0L868.5,452.5L866.0,442.5L857.2,432.5L846.0,430.0L853.5,426.2L856.0,420.0L857.2,402.5"/>
<path fill="#5EA5D1" stroke="none" d="M868.5,462.5 876.0,463.8 880.0,461.8 880.0,439.5 878.5,440.0 868.5,452.5 866.0,452.5Z"/>
<path fill="none" d="M866.0,452.5L868.5,452.5L878.5,440.0L880.0,439.5M880.0,461.8L876.0,463.8L868.5,462.5L866.0,452.5"/>
<path fill="#5EA5D1" stroke="none" d="M836.0,487.5 838.5,500.0 842.2,515.0 831.0,525.0 821.0,530.0 809.8,540.0 818.5,545.0 826.0,548.8 846.0,545.0 863.5,540.0 864.8,530.0 868.5,520.0 878.5,512.5 880.0,511.4 880.0,461.8 876.0,463.8 868.5,462.5 868.5,467.5 853.5,470.0 841.0,475.0 833.5,477.5Z"/>
<path fill="none" d="M833.5,477.5L841.0,475.0L853.5,470.0L868.5,467.5L868.5,462.5L876.0,463.8L880.0,461.8M880.0,511.4L878.5,512.5L868.5,520.0L864.8,530.0L863.5,540.0L846.0,545.0L826.0,548.8L818.5,545.0L809.8,540.0L821.0,530.0L831.0,525.0L842.2,515.0L838.5,500.0L836.0,487.5L833.5,477.5"/>
<path fill="#5EA5D1" stroke="none" d="M864.8,530.0 863.5,540.0 878.5,552.5 880.0,552.8 880.0,511.4 878.5,512.5 868.5,520.0Z"/>
<path fill="none" d="M868.5,520.0L878.5,512.5L880.0,511.4M880.0,552.8L878.5,552.5L863.5,540.0L864.8,530.0L868.5,520.0"/>
<path fill="#3080BC" stroke="none" d="M803.5,585.0 813.5,590.0 816.0,610.0 821.0,610.0 836.0,595.0 853.5,585.0 873.5,570.0 880.0,561.3 880.0,557.0 878.5,552.5 863.5,540.0 846.0,545.0 826.0,548.8 816.0,555.0 803.5,567.5 788.5,582.5Z"/>
<path fill="none" d="M788.5,582.5L803.5,567.5L816.0,555.0L826.0,548.8L846.0,545.0L863.5,540.0L878.5,552.5L880.0,557.0M880.0,561.3L873.5,570.0L853.5,585.0L836.0,595.0L821.0,610.0M816.0,610.0L813.5,590.0L803.5,585.0L788.5,582.5"/>
<path fill="#3080BC" stroke="none" d="M880.0,610.0 880.0,561.3 873.5,570.0 853.5,585.0 836.0,595.0 821.0,610.0ZM878.5,552.5 880.0,557.0 880.0,552.8Z"/>
<path fill="none" d="M821.0,610.0L836.0,595.0L853.5,585.0L873.5,570.0L880.0,561.3M880.0,557.0L878.5,552.5L880.0,552.8"/>
<path fill="#5EA5D1" stroke="none" d="M779.8,520.0 777.2,532.5 778.5,542.5 783.5,550.0 788.5,556.2 801.0,547.5 809.8,540.0 821.0,530.0 831.0,525.0 842.2,515.0 838.5,500.0 836.0,487.5 826.0,490.0 816.0,485.0 801.0,482.5 796.0,487.5 789.8,497.5 783.5,502.5 778.5,508.8Z"/>
<path fill="none" d="M778.5,508.8L783.5,502.5L789.8,497.5L796.0,487.5L801.0,482.5L816.0,485.0L826.0,490.0L836.0,487.5L838.5,500.0L842.2,515.0L831.0,525.0L821.0,530.0L809.8,540.0L801.0,547.5L788.5,556.2L783.5,550.0L778.5,542.5L777.2,532.5L779.8,520.0L778.5,508.8"/>
<path fill="#3080BC" stroke="none" d="M769.8,482.5 766.0,492.5 771.0,497.5 778.5,497.5 783.5,502.5 789.8,497.5 796.0,487.5 801.0,482.5 816.0,485.0 826.0,490.0 836.0,487.5 833.5,477.5 826.0,470.0 816.0,462.5 806.0,465.0 796.0,460.0 791.0,456.2 782.2,455.0 773.5,470.0 768.5,473.8Z"/>
<path fill="none" d="M768.5,473.8L773.5,470.0L782.2,455.0L791.0,456.2L796.0,460.0L806.0,465.0L816.0,462.5L826.0,470.0L833.5,477.5L836.0,487.5L826.0,490.0L816.0,485.0L801.0,482.5L796.0,487.5L789.8,497.5L783.5,502.5L778.5,497.5L771.0,497.5L766.0,492.5L769.8,482.5L768.5,473.8"/>
<path fill="#5EA5D1" stroke="none" d="M723.5,455.0 726.0,461.2 731.0,465.0 739.8,470.0 741.0,458.8 746.0,457.5 763.5,458.8 772.2,462.5 773.5,470.0 782.2,455.0 783.5,445.0 766.0,438.8 758.5,442.5 758.5,446.2 736.0,446.2 733.5,445.0 727.2,446.2Z"/>
<path fill="none" d="M727.2,446.2L733.5,445.0L736.0,446.2L758.5,446.2L758.5,442.5L766.0,438.8L783.5,445.0L782.2,455.0L773.5,470.0L772.2,462.5L763.5,458.8L746.0,457.5L741.0,458.8L739.8,470.0L731.0,465.0L726.0,461.2L723.5,455.0L727.2,446.2"/>
<path fill="#5EA5D1" stroke="none" d="M739.8,470.0 743.5,480.0 751.0,478.8 766.0,478.8 768.5,473.8 773.5,470.0 772.2,462.5 763.5,458.8 746.0,457.5 741.0,458.8Z"/>
<path fill="none" d="M741.0,458.8L746.0,457.5L763.5,458.8L772.2,462.5L773.5,470.0L768.5,473.8L766.0,478.8L751.0,478.8L743.5,480.0L739.8,470.0L741.0,458.8"/>
<path fill="#3080BC" stroke="none" d="M708.5,486.2 712.2,495.0 713.5,512.5 716.0,522.5 726.0,510.0 724.8,497.5 731.0,490.0 727.2,480.0 728.5,470.0 726.0,461.2 723.5,455.0 714.8,460.0 712.2,461.2 716.0,465.0 711.0,470.0 706.0,477.5Z"/>
<path fill="none" d="M706.0,477.5L711.0,470.0L716.0,465.0L712.2,461.2L714.8,460.0L723.5,455.0L726.0,461.2L728.5,470.0L727.2,480.0L731.0,490.0L724.8,497.5L726.0,510.0L716.0,522.5L713.5,512.5L712.2,495.0L708.5,486.2L706.0,477.5"/>
<path fill="#3080BC" stroke="none" d="M731.0,490.0 724.8,497.5 726.0,510.0 731.0,512.5 736.0,512.5 753.5,515.0 761.0,510.0 762.2,502.5 756.0,498.8 752.2,506.2 744.8,506.2 743.5,500.0 748.5,495.0 746.0,487.5 743.5,480.0 739.8,470.0 731.0,465.0 728.5,470.0 727.2,480.0Z"/>
<path fill="none" d="M727.2,480.0L728.5,470.0L731.0,465.0L739.8,470.0L743.5,480.0L746.0,487.5L748.5,495.0L743.5,500.0L744.8,506.2L752.2,506.2L756.0,498.8L762.2,502.5L761.0,510.0L753.5,515.0L736.0,512.5L731.0,512.5L726.0,510.0L724.8,497.5L731.0,490.0L727.2,480.0"/>
<path fill="#3080BC" stroke="none" d="M746.0,487.5 748.5,495.0 743.5,500.0 744.8,506.2 752.2,506.2 756.0,498.8 762.2,502.5 768.5,497.5 766.0,492.5 769.8,482.5 766.0,478.8 751.0,478.8 743.5,480.0Z"/>
<path fill="none" d="M743.5,480.0L751.0,478.8L766.0,478.8L769.8,482.5L766.0,492.5L768.5,497.5L762.2,502.5L756.0,498.8L752.2,506.2L744.8,506.2L743.5,500.0L748.5,495.0L746.0,487.5L743.5,480.0"/>
<path fill="#3080BC" stroke="none" d="M761.0,510.0 766.0,515.0 768.5,520.0 773.5,522.5 778.5,517.5 781.0,507.5 778.5,497.5 771.0,497.5 768.5,497.5 762.2,502.5Z"/>
<path fill="none" d="M762.2,502.5L768.5,497.5L771.0,497.5L778.5,497.5L781.0,507.5L778.5,517.5L773.5,522.5L768.5,520.0L766.0,515.0L761.0,510.0L762.2,502.5"/>
<path fill="#3080BC" stroke="none" d="M734.8,522.5 746.0,526.2 756.0,526.2 771.0,527.5 773.5,522.5 768.5,520.0 766.0,515.0 761.0,510.0 753.5,515.0 736.0,512.5 731.0,512.5Z"/>
<path fill="none" d="M731.0,512.5L736.0,512.5L753.5,515.0L761.0,510.0L766.0,515.0L768.5,520.0L773.5,522.5L771.0,527.5L756.0,526.2L746.0,526.2L734.8,522.5L731.0,512.5"/>
<path fill="#3080BC" stroke="none" d="M678.5,495.0 693.5,487.5 702.2,485.0 706.0,477.5 711.0,470.0 716.0,465.0 712.2,461.2 714.8,460.0 701.0,455.0 698.5,460.0 691.0,468.8 702.2,470.0 696.0,475.0 688.5,481.2 676.0,487.5Z"/>
<path fill="none" d="M676.0,487.5L688.5,481.2L696.0,475.0L702.2,470.0L691.0,468.8L698.5,460.0L701.0,455.0L714.8,460.0L712.2,461.2L716.0,465.0L711.0,470.0L706.0,477.5L702.2,485.0L693.5,487.5L678.5,495.0L676.0,487.5"/>
<path fill="#3080BC" stroke="none" d="M667.2,475.0 673.5,480.0 676.0,487.5 683.5,482.5 688.5,477.5 691.0,468.8 678.5,466.2 677.2,457.5 673.5,457.5 671.0,458.8 667.2,466.2Z"/>
<path fill="none" d="M667.2,466.2L671.0,458.8L673.5,457.5L677.2,457.5L678.5,466.2L691.0,468.8L688.5,477.5L683.5,482.5L676.0,487.5L673.5,480.0L667.2,475.0L667.2,466.2"/>
<path fill="#3080BC" stroke="none" d="M624.8,497.5 628.5,506.2 638.5,500.0 648.5,495.0 658.5,492.5 662.2,482.5 667.2,475.0 662.2,477.5 654.8,480.0 648.5,477.5 646.0,470.0 633.5,477.5 622.2,488.8Z"/>
<path fill="none" d="M622.2,488.8L633.5,477.5L646.0,470.0L648.5,477.5L654.8,480.0L662.2,477.5L667.2,475.0L662.2,482.5L658.5,492.5L648.5,495.0L638.5,500.0L628.5,506.2L624.8,497.5L622.2,488.8"/>
<path fill="#3080BC" stroke="none" d="M651.0,562.5 658.5,567.5 666.0,572.5 673.5,566.2 683.5,567.5 691.0,570.0 702.2,572.5 703.5,565.0 701.0,557.5 694.8,543.8 701.0,537.5 706.0,532.5 716.0,522.5 713.5,520.0 698.5,520.0 696.0,522.5 686.0,532.5 676.0,537.5 678.5,542.5 666.0,548.8 653.5,553.8 642.2,556.2Z"/>
<path fill="none" d="M642.2,556.2L653.5,553.8L666.0,548.8L678.5,542.5L676.0,537.5L686.0,532.5L696.0,522.5L698.5,520.0L713.5,520.0L716.0,522.5L706.0,532.5L701.0,537.5L694.8,543.8L701.0,557.5L703.5,565.0L702.2,572.5L691.0,570.0L683.5,567.5L673.5,566.2L666.0,572.5L658.5,567.5L651.0,562.5L642.2,556.2"/>
<path fill="#3080BC" stroke="none" d="M701.0,557.5 703.5,565.0 713.5,568.8 716.0,565.0 726.0,567.5 731.0,558.8 736.0,550.0 732.2,535.0 734.8,522.5 731.0,512.5 726.0,510.0 716.0,522.5 706.0,532.5 701.0,537.5 694.8,543.8Z"/>
<path fill="none" d="M694.8,543.8L701.0,537.5L706.0,532.5L716.0,522.5L726.0,510.0L731.0,512.5L734.8,522.5L732.2,535.0L736.0,550.0L731.0,558.8L726.0,567.5L716.0,565.0L713.5,568.8L703.5,565.0L701.0,557.5L694.8,543.8"/>
<path fill="#3080BC" stroke="none" d="M736.0,550.0 731.0,558.8 726.0,567.5 731.0,566.2 741.0,567.5 751.0,570.0 764.8,572.5 761.0,560.0 759.8,550.0 763.5,542.5 768.5,540.0 771.0,527.5 756.0,526.2 746.0,526.2 734.8,522.5 732.2,535.0Z"/>
<path fill="none" d="M732.2,535.0L734.8,522.5L746.0,526.2L756.0,526.2L771.0,527.5L768.5,540.0L763.5,542.5L759.8,550.0L761.0,560.0L764.8,572.5L751.0,570.0L741.0,567.5L731.0,566.2L726.0,567.5L731.0,558.8L736.0,550.0L732.2,535.0"/>
<path fill="#3080BC" stroke="none" d="M768.5,540.0 773.5,540.0 778.5,542.5 777.2,532.5 778.5,517.5 773.5,522.5 771.0,527.5Z"/>
<path fill="none" d="M771.0,527.5L773.5,522.5L778.5,517.5L777.2,532.5L778.5,542.5L773.5,540.0M768.5,540.0L771.0,527.5"/>
<path fill="#5EA5D1" stroke="none" d="M654.8,480.0 662.2,477.5 667.2,475.0 667.2,466.2 671.0,458.8 662.2,460.0 651.0,462.5 646.0,470.0 648.5,477.5Z"/>
<path fill="none" d="M648.5,477.5L646.0,470.0L651.0,462.5L662.2,460.0L671.0,458.8L667.2,466.2L667.2,475.0L662.2,477.5L654.8,480.0L648.5,477.5"/>
<path fill="#5EA5D1" stroke="none" d="M677.2,506.2 683.5,510.0 686.0,517.5 698.5,520.0 711.0,518.8 713.5,512.5 712.2,495.0 708.5,486.2 706.0,477.5 702.2,485.0 693.5,487.5 678.5,495.0 674.8,498.8Z"/>
<path fill="none" d="M674.8,498.8L678.5,495.0L693.5,487.5L702.2,485.0L706.0,477.5L708.5,486.2L712.2,495.0L713.5,512.5L711.0,518.8L698.5,520.0L686.0,517.5L683.5,510.0L677.2,506.2L674.8,498.8"/>
<path fill="#9AC8E0" stroke="none" d="M759.8,550.0 761.0,560.0 764.8,572.5 768.5,575.0 778.5,567.5 788.5,556.2 781.0,550.0 778.5,542.5 773.5,540.0 768.5,540.0 761.0,545.0Z"/>
<path fill="none" d="M761.0,545.0L768.5,540.0M773.5,540.0L778.5,542.5L781.0,550.0L788.5,556.2L778.5,567.5L768.5,575.0L764.8,572.5L761.0,560.0L759.8,550.0L761.0,545.0"/>
<path fill="#9AC8E0" stroke="none" d="M632.2,585.0 631.0,595.0 624.8,610.0 648.5,610.0 658.5,593.8 671.0,595.0 683.5,592.5 698.5,590.0 706.0,600.0 711.0,610.0 736.0,610.0 741.0,606.2 751.0,600.0 763.5,596.2 778.5,587.5 786.0,580.0 796.0,567.5 808.5,555.0 818.5,545.0 809.8,540.0 801.0,547.5 788.5,556.2 778.5,567.5 768.5,575.0 764.8,572.5 751.0,570.0 741.0,567.5 731.0,566.2 726.0,567.5 716.0,565.0 713.5,568.8 703.5,565.0 702.2,572.5 691.0,570.0 683.5,567.5 673.5,566.2 666.0,572.5 658.5,567.5 651.0,562.5 643.5,562.5 641.0,570.0 623.5,577.5Z"/>
<path fill="none" d="M623.5,577.5L641.0,570.0L643.5,562.5L651.0,562.5L658.5,567.5L666.0,572.5L673.5,566.2L683.5,567.5L691.0,570.0L702.2,572.5L703.5,565.0L713.5,568.8L716.0,565.0L726.0,567.5L731.0,566.2L741.0,567.5L751.0,570.0L764.8,572.5L768.5,575.0L778.5,567.5L788.5,556.2L801.0,547.5L809.8,540.0L818.5,545.0L808.5,555.0L796.0,567.5L786.0,580.0L778.5,587.5L763.5,596.2L751.0,600.0L741.0,606.2L736.0,610.0M711.0,610.0L706.0,600.0L698.5,590.0L683.5,592.5L671.0,595.0L658.5,593.8L648.5,610.0M624.8,610.0L631.0,595.0L632.2,585.0L623.5,577.5"/>
<path fill="#9AC8E0" stroke="none" d="M603.5,537.5 607.2,538.8 611.0,533.8 607.2,528.8 602.2,530.0Z"/>
<path fill="none" d="M602.2,530.0L607.2,528.8L611.0,533.8L607.2,538.8L603.5,537.5L602.2,530.0"/>
<path fill="#3080BC" stroke="none" d="M641.0,557.5 638.5,547.5 634.8,556.2Z"/>
<path fill="none" d="M634.8,556.2L638.5,547.5L641.0,557.5L634.8,556.2"/>
<path fill="#9AC8E0" stroke="none" d="M566.0,610.0 598.5,610.0 596.0,606.2 581.0,605.0 566.0,602.5Z"/>
<path fill="none" d="M566.0,602.5L581.0,605.0L596.0,606.2L598.5,610.0"/>
<path fill="#5EA5D1" stroke="none" d="M496.0,810.0 832.0,810.0 832.0,610.0 566.0,610.0 566.0,570.0 496.0,570.0Z"/>
<path fill="#9AC8E0" stroke="none" d="M496.0,810.0 612.2,810.0 608.5,795.0 603.5,785.0 596.0,782.5 591.0,772.5 594.8,760.0 597.2,752.5 596.0,730.0 601.0,722.5 609.8,712.5 612.2,700.0 618.5,692.5 627.2,688.8 634.8,683.8 642.2,680.0 632.2,660.0 638.5,656.2 654.8,640.0 663.5,641.2 671.0,637.5 674.8,628.8 671.0,620.0 661.0,617.5 652.2,625.0 651.0,630.0 643.5,623.8 636.0,622.5 633.5,620.0 631.0,616.2 623.5,611.2 617.8,610.0 566.0,610.0 566.0,606.2 563.5,613.8 568.5,627.5 573.5,647.5 571.0,656.2 553.5,655.0 546.0,660.0 542.2,652.5 528.5,655.0 518.5,652.5 509.8,650.0 508.5,642.5 514.8,622.5 532.2,612.5 533.5,597.5 529.8,585.0 528.5,570.0 496.0,570.0Z"/>
<path fill="none" d="M528.5,570.0L529.8,585.0L533.5,597.5L532.2,612.5L514.8,622.5L508.5,642.5L509.8,650.0L518.5,652.5L528.5,655.0L542.2,652.5L546.0,660.0L553.5,655.0L571.0,656.2L573.5,647.5L568.5,627.5L563.5,613.8L566.0,606.1M617.8,610.0L623.5,611.2L631.0,616.2L633.5,620.0L636.0,622.5L643.5,623.8L651.0,630.0L652.2,625.0L661.0,617.5L671.0,620.0L674.8,628.8L671.0,637.5L663.5,641.2L654.8,640.0L638.5,656.2L632.2,660.0L642.2,680.0L634.8,683.8L627.2,688.8L618.5,692.5L612.2,700.0L609.8,712.5L601.0,722.5L596.0,730.0L597.2,752.5L594.8,760.0L591.0,772.5L596.0,782.5L603.5,785.0L608.5,795.0L612.2,810.0"/>
<path fill="#9AC8E0" stroke="none" d="M623.5,611.2 631.0,616.2 633.5,620.0 636.0,622.5 643.5,623.8 651.0,630.0 652.2,625.0 648.5,612.5 649.1,610.0 623.7,610.0Z"/>
<path fill="none" d="M649.1,610.0L648.5,612.5L652.2,625.0L651.0,630.0L643.5,623.8L636.0,622.5L633.5,620.0L631.0,616.2L623.5,611.2L623.7,610.0"/>
<path fill="#9AC8E0" stroke="none" d="M713.5,612.5 718.5,615.0 730.2,610.0 712.2,610.0Z"/>
<path fill="none" d="M730.2,610.0L718.5,615.0L713.5,612.5L712.2,610.0"/>
<path fill="#CADEF0" stroke="none" d="M628.5,645.0 632.2,660.0 638.5,656.2 654.8,640.0 651.0,630.0 643.5,623.8 632.2,621.2 626.0,626.2Z"/>
<path fill="none" d="M626.0,626.2L632.2,621.2L643.5,623.8L651.0,630.0L654.8,640.0L638.5,656.2L632.2,660.0L628.5,645.0L626.0,626.2"/>
<path fill="#9AC8E0" stroke="none" d="M651.0,630.0 654.8,640.0 663.5,641.2 671.0,637.5 674.8,628.8 671.0,620.0 661.0,617.5 652.2,625.0Z"/>
<path fill="none" d="M652.2,625.0L661.0,617.5L671.0,620.0L674.8,628.8L671.0,637.5L663.5,641.2L654.8,640.0L651.0,630.0L652.2,625.0"/>
<path fill="#CADEF0" stroke="none" d="M581.0,706.2 591.0,706.2 588.5,700.0 581.0,696.2 573.5,701.2Z"/>
<path fill="none" d="M573.5,701.2L581.0,696.2L588.5,700.0L591.0,706.2L581.0,706.2L573.5,701.2"/>
<path fill="#CADEF0" stroke="none" d="M576.0,746.2 584.8,743.8 583.5,737.5 572.2,740.0Z"/>
<path fill="none" d="M572.2,740.0L583.5,737.5L584.8,743.8L576.0,746.2L572.2,740.0"/>
<path fill="#5EA5D1" stroke="none" d="M556.0,735.0 563.5,745.0 558.5,755.0 563.5,757.5 568.5,745.0 571.0,732.5 567.2,723.8 553.5,722.5 547.2,730.0Z"/>
<path fill="none" d="M547.2,730.0L553.5,722.5L567.2,723.8L571.0,732.5L568.5,745.0L563.5,757.5L558.5,755.0L563.5,745.0L556.0,735.0L547.2,730.0"/>
<path fill="#5EA5D1" stroke="none" d="M504.8,800.0 506.0,810.0 521.0,800.0 528.5,792.5 523.5,786.2 509.8,790.0Z"/>
<path fill="none" d="M509.8,790.0L523.5,786.2L528.5,792.5L521.0,800.0L506.0,810.0L504.8,800.0L509.8,790.0"/>
<path fill="#9AC8E0" stroke="none" d="M719.8,720.0 728.5,716.2 737.2,725.0 743.5,740.0 753.5,737.5 756.0,722.5 758.5,705.0 763.5,687.5 753.5,685.0 736.0,687.5 722.2,706.2Z"/>
<path fill="none" d="M722.2,706.2L736.0,687.5L753.5,685.0L763.5,687.5L758.5,705.0L756.0,722.5L753.5,737.5L743.5,740.0L737.2,725.0L728.5,716.2L719.8,720.0L722.2,706.2"/>
<path fill="#3080BC" stroke="none" d="M658.5,687.5 667.2,692.5 671.0,698.8 676.0,701.2 688.5,701.2 699.8,706.2 698.5,700.0 693.5,690.0 681.0,680.0 671.0,668.8 668.5,661.2 658.5,672.5Z"/>
<path fill="none" d="M658.5,672.5L668.5,661.2L671.0,668.8L681.0,680.0L693.5,690.0L698.5,700.0L699.8,706.2L688.5,701.2L676.0,701.2L671.0,698.8L667.2,692.5L658.5,687.5L658.5,672.5"/>
<path fill="#3080BC" stroke="none" d="M633.5,707.5 639.8,712.5 646.0,717.5 656.0,712.5 668.5,707.5 671.0,698.8 667.2,692.5 658.5,687.5 653.5,688.8 643.5,700.0 638.5,695.0 631.0,700.0Z"/>
<path fill="none" d="M631.0,700.0L638.5,695.0L643.5,700.0L653.5,688.8L658.5,687.5L667.2,692.5L671.0,698.8L668.5,707.5L656.0,712.5L646.0,717.5L639.8,712.5L633.5,707.5L631.0,700.0"/>
<path fill="#3080BC" stroke="none" d="M653.5,732.5 658.5,740.0 666.0,737.5 671.0,730.0 681.0,725.0 688.5,717.5 696.0,712.5 699.8,706.2 688.5,701.2 676.0,701.2 671.0,698.8 668.5,707.5 656.0,712.5 646.0,717.5Z"/>
<path fill="none" d="M646.0,717.5L656.0,712.5L668.5,707.5L671.0,698.8L676.0,701.2L688.5,701.2L699.8,706.2L696.0,712.5L688.5,717.5L681.0,725.0L671.0,730.0L666.0,737.5L658.5,740.0L653.5,732.5L646.0,717.5"/>
<path fill="#3080BC" stroke="none" d="M632.2,732.5 631.0,748.8 651.0,750.0 652.2,745.0 658.5,740.0 653.5,732.5 646.0,717.5 639.8,712.5 632.2,717.5Z"/>
<path fill="none" d="M632.2,717.5L639.8,712.5L646.0,717.5L653.5,732.5L658.5,740.0L652.2,745.0L651.0,750.0L631.0,748.8L632.2,732.5L632.2,717.5"/>
<path fill="#3080BC" stroke="none" d="M661.0,747.5 671.0,746.2 679.8,745.0 683.5,736.2 689.8,730.0 688.5,717.5 681.0,725.0 671.0,730.0 666.0,737.5 658.5,740.0Z"/>
<path fill="none" d="M658.5,740.0L666.0,737.5L671.0,730.0L681.0,725.0L688.5,717.5L689.8,730.0L683.5,736.2L679.8,745.0L671.0,746.2L661.0,747.5L658.5,740.0"/>
<path fill="#3080BC" stroke="none" d="M683.5,752.5 681.0,762.5 693.5,770.0 703.5,780.0 716.0,770.0 727.2,762.5 732.2,752.5 729.8,742.5 723.5,732.5 718.5,733.8 708.5,737.5 696.0,735.0 689.8,730.0 683.5,736.2 681.0,745.0Z"/>
<path fill="none" d="M681.0,745.0L683.5,736.2L689.8,730.0L696.0,735.0L708.5,737.5L718.5,733.8L723.5,732.5L729.8,742.5L732.2,752.5L727.2,762.5L716.0,770.0L703.5,780.0L693.5,770.0L681.0,762.5L683.5,752.5L681.0,745.0"/>
<path fill="#3080BC" stroke="none" d="M696.0,735.0 701.0,733.8 702.2,730.0 698.5,723.8 691.0,727.5Z"/>
<path fill="none" d="M691.0,727.5L698.5,723.8L702.2,730.0L701.0,733.8L696.0,735.0L691.0,727.5"/>
<path fill="#3080BC" stroke="none" d="M607.2,740.0 613.5,745.0 621.0,742.5 623.5,732.5 627.2,725.0 626.0,716.2 618.5,717.5 613.5,730.0 604.8,732.5Z"/>
<path fill="none" d="M604.8,732.5L613.5,730.0L618.5,717.5L626.0,716.2L627.2,725.0L623.5,732.5L621.0,742.5L613.5,745.0L607.2,740.0L604.8,732.5"/>
<path fill="#3080BC" stroke="none" d="M611.0,760.0 618.5,763.8 624.8,760.0 623.5,750.0 616.0,745.0 609.8,750.0Z"/>
<path fill="none" d="M609.8,750.0L616.0,745.0L623.5,750.0L624.8,760.0L618.5,763.8L611.0,760.0L609.8,750.0"/>
<path fill="#3080BC" stroke="none" d="M591.0,775.0 598.5,782.5 608.5,777.5 606.0,772.5 609.8,765.0 603.5,757.5 596.0,758.8Z"/>
<path fill="none" d="M596.0,758.8L603.5,757.5L609.8,765.0L606.0,772.5L608.5,777.5L598.5,782.5L591.0,775.0L596.0,758.8"/>
<path fill="#3080BC" stroke="none" d="M616.0,780.0 623.5,775.0 631.0,778.8 639.8,777.5 643.5,767.5 646.0,757.5 636.0,757.5 628.5,762.5 623.5,767.5 614.8,770.0 608.5,777.5Z"/>
<path fill="none" d="M608.5,777.5L614.8,770.0L623.5,767.5L628.5,762.5L636.0,757.5L646.0,757.5L643.5,767.5L639.8,777.5L631.0,778.8L623.5,775.0L616.0,780.0L608.5,777.5"/>
<path fill="#3080BC" stroke="none" d="M627.2,800.0 636.0,805.0 646.0,797.5 639.8,785.0 632.2,782.5 624.8,787.5Z"/>
<path fill="none" d="M624.8,787.5L632.2,782.5L639.8,785.0L646.0,797.5L636.0,805.0L627.2,800.0L624.8,787.5"/>
<path fill="#3080BC" stroke="none" d="M652.2,751.2 658.5,752.5 661.0,747.5 658.5,742.5 652.2,745.0Z"/>
<path fill="none" d="M652.2,745.0L658.5,742.5L661.0,747.5L658.5,752.5L652.2,751.2L652.2,745.0"/>
<path fill="#3080BC" stroke="none" d="M821.0,630.0 816.0,637.5 823.5,647.5 832.0,647.5 832.0,610.0 818.5,610.0Z"/>
<path fill="none" d="M832.0,647.5L823.5,647.5L816.0,637.5L821.0,630.0L818.5,610.0"/>
<path fill="#5EA5D1" stroke="none" d="M508.5,642.5 509.8,650.0 518.5,652.5 528.5,655.0 542.2,652.5 546.0,660.0 553.5,655.0 571.0,656.2 573.5,647.5 568.5,627.5 563.5,613.8 566.0,606.2 566.0,602.9 553.5,607.5 532.2,612.5 514.8,622.5Z"/>
<path fill="none" d="M514.8,622.5L532.2,612.5L553.5,607.5L566.0,602.9M566.0,606.1L563.5,613.8L568.5,627.5L573.5,647.5L571.0,656.2L553.5,655.0L546.0,660.0L542.2,652.5L528.5,655.0L518.5,652.5L509.8,650.0L508.5,642.5L514.8,622.5"/>
<path fill="#5EA5D1" stroke="none" d="M160.0,790.0 496.0,790.0 496.0,570.0 230.0,570.0 230.0,550.0 160.0,550.0Z"/>
<path fill="#9AC8E0" stroke="none" d="M167.0,615.0 170.0,625.0 172.5,635.0 171.2,647.5 170.0,660.0 172.5,672.5 170.0,685.0 172.5,700.0 171.2,712.5 167.5,727.5 168.0,742.5 185.0,741.2 210.0,740.5 227.5,741.2 247.5,738.8 265.0,737.5 280.0,737.0 295.0,740.0 310.0,743.8 322.5,750.0 332.5,757.5 342.5,767.5 352.5,776.2 360.0,783.8 363.8,790.0 496.0,790.0 496.0,570.0 458.9,570.0 458.8,571.2 455.0,572.5 425.0,570.0 422.5,592.5 420.0,607.5 422.5,617.5 427.5,622.5 420.0,630.0 415.0,636.2 385.0,632.5 380.0,637.5 392.5,645.0 400.0,646.2 410.0,645.0 412.5,648.8 407.5,655.0 400.0,662.5 392.5,657.5 385.0,655.0 380.0,665.0 372.5,672.5 365.0,677.5 363.8,690.0 365.0,705.0 371.2,710.0 375.0,715.0 372.5,722.5 360.0,720.0 352.5,725.0 345.0,722.5 340.0,713.8 327.5,712.5 325.0,720.0 315.0,722.5 313.8,713.8 320.0,705.0 327.5,700.0 325.0,688.8 312.5,690.0 310.0,685.0 296.2,686.2 295.0,678.8 277.5,680.0 277.5,670.0 276.2,661.2 260.0,660.0 260.0,667.5 255.0,670.0 245.0,672.5 235.0,675.0 222.5,677.5 227.5,672.5 223.8,660.0 220.0,650.0 212.5,648.8 205.0,650.0 201.2,641.2 192.5,638.8 193.8,632.5 197.5,617.5 192.5,616.2 186.2,620.0 185.0,611.2 178.8,607.5 170.0,608.8Z"/>
<path fill="none" d="M170.0,608.8L178.8,607.5L185.0,611.2L186.2,620.0L192.5,616.2L197.5,617.5L193.8,632.5L192.5,638.8L201.2,641.2L205.0,650.0L212.5,648.8L220.0,650.0L223.8,660.0L227.5,672.5L222.5,677.5L235.0,675.0L245.0,672.5L255.0,670.0L260.0,667.5L260.0,660.0L276.2,661.2L277.5,670.0L277.5,680.0L295.0,678.8L296.2,686.2L310.0,685.0L312.5,690.0L325.0,688.8L327.5,700.0L320.0,705.0L313.8,713.8L315.0,722.5L325.0,720.0L327.5,712.5L340.0,713.8L345.0,722.5L352.5,725.0L360.0,720.0L372.5,722.5L375.0,715.0L371.2,710.0L365.0,705.0L363.8,690.0L365.0,677.5L372.5,672.5L380.0,665.0L385.0,655.0L392.5,657.5L400.0,662.5L407.5,655.0L412.5,648.8L410.0,645.0L400.0,646.2L392.5,645.0L380.0,637.5L385.0,632.5L415.0,636.2L420.0,630.0L427.5,622.5L422.5,617.5L420.0,607.5L422.5,592.5L425.0,570.0L455.0,572.5L458.8,571.2L458.9,570.0M363.8,790.0L360.0,783.8L352.5,776.2L342.5,767.5L332.5,757.5L322.5,750.0L310.0,743.8L295.0,740.0L280.0,737.0L265.0,737.5L247.5,738.8L227.5,741.2L210.0,740.5L185.0,741.2L168.0,742.5L167.5,727.5L171.2,712.5L172.5,700.0L170.0,685.0L172.5,672.5L170.0,660.0L171.2,647.5L172.5,635.0L170.0,625.0L167.0,615.0L170.0,608.8"/>
<path fill="#5EA5D1" stroke="none" d="M415.0,697.5 412.5,710.0 420.0,712.5 428.8,705.0 430.0,690.0 432.5,677.5 440.0,667.5 442.5,660.0 435.0,658.8 425.0,660.0 420.0,666.2 412.5,660.0 402.5,662.5 400.0,670.0 405.0,680.0 412.5,686.2Z"/>
<path fill="none" d="M412.5,686.2L405.0,680.0L400.0,670.0L402.5,662.5L412.5,660.0L420.0,666.2L425.0,660.0L435.0,658.8L442.5,660.0L440.0,667.5L432.5,677.5L430.0,690.0L428.8,705.0L420.0,712.5L412.5,710.0L415.0,697.5L412.5,686.2"/>
<path fill="#5EA5D1" stroke="none" d="M435.0,627.5 443.8,628.8 442.5,637.5 450.0,640.0 458.8,635.0 457.5,622.5 456.2,607.5 452.5,596.2 445.0,605.0 437.5,615.0 430.0,622.5Z"/>
<path fill="none" d="M430.0,622.5L437.5,615.0L445.0,605.0L452.5,596.2L456.2,607.5L457.5,622.5L458.8,635.0L450.0,640.0L442.5,637.5L443.8,628.8L435.0,627.5L430.0,622.5"/>
<path fill="#3080BC" stroke="none" d="M417.5,641.2 425.0,645.0 435.0,643.8 442.5,637.5 443.8,628.8 430.0,628.8 422.5,630.0 417.5,636.2Z"/>
<path fill="none" d="M417.5,636.2L422.5,630.0L430.0,628.8L443.8,628.8L442.5,637.5L435.0,643.8L425.0,645.0L417.5,641.2L417.5,636.2"/>
<path fill="#3080BC" stroke="none" d="M420.0,666.2 425.0,660.0 435.0,658.8 437.5,650.0 432.5,648.8 417.5,651.2 410.0,660.0Z"/>
<path fill="none" d="M410.0,660.0L417.5,651.2L432.5,648.8L437.5,650.0L435.0,658.8L425.0,660.0L420.0,666.2L410.0,660.0"/>
<path fill="#5EA5D1" stroke="none" d="M351.2,762.5 355.0,772.5 362.5,780.0 367.5,772.5 373.8,762.5 367.5,750.0 357.5,745.0 351.2,747.5Z"/>
<path fill="none" d="M351.2,747.5L357.5,745.0L367.5,750.0L373.8,762.5L367.5,772.5L362.5,780.0L355.0,772.5L351.2,762.5L351.2,747.5"/>
<path fill="#5EA5D1" stroke="none" d="M430.0,775.0 435.0,785.0 450.0,790.0 463.8,782.5 467.5,772.5 460.0,762.5 457.5,750.0 447.5,747.5 435.0,752.5 427.5,765.0Z"/>
<path fill="none" d="M427.5,765.0L435.0,752.5L447.5,747.5L457.5,750.0L460.0,762.5L467.5,772.5L463.8,782.5L450.0,790.0L435.0,785.0L430.0,775.0L427.5,765.0"/>
<path fill="#5EA5D1" stroke="none" d="M232.5,715.0 235.0,722.5 251.2,722.5 252.5,710.0 250.0,700.0 242.5,697.5 232.5,707.5Z"/>
<path fill="none" d="M232.5,707.5L242.5,697.5L250.0,700.0L252.5,710.0L251.2,722.5L235.0,722.5L232.5,715.0L232.5,707.5"/>
<path fill="#5EA5D1" stroke="none" d="M235.0,722.5 231.2,725.0 232.5,735.0 247.5,738.8 265.0,737.5 280.0,737.0 275.0,733.8 260.0,730.0 267.5,725.0 277.5,727.5 285.0,725.0 290.0,717.5 270.0,716.2 252.5,716.2 251.2,722.5Z"/>
<path fill="none" d="M251.2,722.5L252.5,716.2L270.0,716.2L290.0,717.5L285.0,725.0L277.5,727.5L267.5,725.0L260.0,730.0L275.0,733.8L280.0,737.0L265.0,737.5L247.5,738.8L232.5,735.0L231.2,725.0L235.0,722.5L251.2,722.5"/>
<path fill="#5EA5D1" stroke="none" d="M168.0,742.5 185.0,741.2 212.5,741.2 210.0,732.5 202.5,731.2 185.0,730.0 180.0,733.8 167.5,735.0Z"/>
<path fill="none" d="M167.5,735.0L180.0,733.8L185.0,730.0L202.5,731.2L210.0,732.5L212.5,741.2L185.0,741.2L168.0,742.5L167.5,735.0"/>
<path fill="#3080BC" stroke="none" d="M185.0,730.0 202.5,731.2 211.2,731.2 213.8,725.0 217.5,717.5 215.0,711.2 200.0,712.5 190.0,717.5 183.8,730.0Z"/>
<path fill="none" d="M183.8,730.0L190.0,717.5L200.0,712.5L215.0,711.2L217.5,717.5L213.8,725.0L211.2,731.2L202.5,731.2L185.0,730.0"/>
<path fill="#3080BC" stroke="none" d="M218.8,732.5 220.0,725.0 217.5,720.0 213.8,725.0 211.2,731.2Z"/>
<path fill="none" d="M211.2,731.2L213.8,725.0L217.5,720.0L220.0,725.0L218.8,732.5L211.2,731.2"/>
<path fill="#FFFFFF" stroke="none" d="M228.8,734.5 235.0,735.0 242.5,732.5 240.0,728.8 228.8,730.0Z"/>
<path fill="none" d="M228.8,730.0L240.0,728.8L242.5,732.5L235.0,735.0L228.8,734.5L228.8,730.0"/>
<path fill="#CADEF0" stroke="none" d="M235.0,735.0 235.0,738.0 248.8,737.5 247.5,733.8 242.5,732.5Z"/>
<path fill="none" d="M242.5,732.5L247.5,733.8L248.8,737.5L235.0,738.0L235.0,735.0L242.5,732.5"/>
<path fill="#9AC8E0" stroke="none" d="M197.0,582.5 201.2,587.5 207.5,595.0 217.5,600.0 218.8,592.5 222.5,585.0 231.2,587.5 232.5,595.0 242.5,597.5 246.2,592.5 248.8,582.5 247.5,573.8 232.5,575.0 212.5,572.5 197.5,575.0Z"/>
<path fill="none" d="M197.5,575.0L212.5,572.5L232.5,575.0L247.5,573.8L248.8,582.5L246.2,592.5L242.5,597.5L232.5,595.0L231.2,587.5L222.5,585.0L218.8,592.5L217.5,600.0L207.5,595.0L201.2,587.5L197.0,582.5L197.5,575.0"/>
<path fill="#5EA5D1" stroke="none" d="M217.5,600.0 220.0,611.2 226.2,615.0 233.8,607.5 232.5,595.0 231.2,587.5 222.5,585.0 218.8,592.5Z"/>
<path fill="none" d="M218.8,592.5L222.5,585.0L231.2,587.5L232.5,595.0L233.8,607.5L226.2,615.0L220.0,611.2L217.5,600.0L218.8,592.5"/>
<path fill="#9AC8E0" stroke="none" d="M253.8,617.5 257.5,622.5 265.0,620.0 272.5,618.8 273.8,612.5 267.5,603.8 260.0,598.8 256.2,607.5Z"/>
<path fill="none" d="M256.2,607.5L260.0,598.8L267.5,603.8L273.8,612.5L272.5,618.8L265.0,620.0L257.5,622.5L253.8,617.5L256.2,607.5"/>
<path fill="#9AC8E0" stroke="none" d="M277.5,630.0 282.5,625.0 287.5,615.0 285.0,608.8 277.5,615.0 273.8,622.5Z"/>
<path fill="none" d="M273.8,622.5L277.5,615.0L285.0,608.8L287.5,615.0L282.5,625.0L277.5,630.0L273.8,622.5"/>
<path fill="#9AC8E0" stroke="none" d="M355.0,640.0 360.0,638.8 363.8,630.0 362.5,623.8 357.5,625.0 353.8,632.5Z"/>
<path fill="none" d="M353.8,632.5L357.5,625.0L362.5,623.8L363.8,630.0L360.0,638.8L355.0,640.0L353.8,632.5"/>
<path fill="#9AC8E0" stroke="none" d="M361.2,612.5 365.0,612.5 373.8,612.5 376.2,625.0 385.0,622.5 386.2,607.5 377.5,606.2 367.5,602.5 360.0,608.8Z"/>
<path fill="none" d="M360.0,608.8L367.5,602.5L377.5,606.2L386.2,607.5L385.0,622.5L376.2,625.0L373.8,612.5L365.0,612.5L361.2,612.5L360.0,608.8"/>
<path fill="#9AC8E0" stroke="none" d="M417.5,636.2 425.0,630.0 428.8,623.8 420.0,621.2 412.5,628.8Z"/>
<path fill="none" d="M412.5,628.8L420.0,621.2L428.8,623.8L425.0,630.0L417.5,636.2L412.5,628.8"/>
<path fill="#9AC8E0" stroke="none" d="M261.2,670.0 260.0,681.2 277.5,680.0 277.5,670.0 276.2,661.2 260.0,660.0Z"/>
<path fill="none" d="M260.0,660.0L276.2,661.2L277.5,670.0L277.5,680.0L260.0,681.2L261.2,670.0L260.0,660.0"/>
<path fill="#3080BC" stroke="none" d="M300.0,620.0 306.2,623.8 310.0,616.2 302.5,607.5 296.2,612.5Z"/>
<path fill="none" d="M296.2,612.5L302.5,607.5L310.0,616.2L306.2,623.8L300.0,620.0L296.2,612.5"/>
<path fill="#3080BC" stroke="none" d="M306.2,660.0 303.8,673.8 295.0,677.5 296.2,685.0 310.0,680.0 311.2,662.5 315.0,647.5 313.8,638.8 303.8,642.5Z"/>
<path fill="none" d="M303.8,642.5L313.8,638.8L315.0,647.5L311.2,662.5L310.0,680.0L296.2,685.0L295.0,677.5L303.8,673.8L306.2,660.0L303.8,642.5"/>
<path fill="#3080BC" stroke="none" d="M327.5,601.2 328.8,608.8 346.2,608.8 346.2,595.0 345.0,583.8 337.5,577.5 332.5,585.0 323.8,597.5Z"/>
<path fill="none" d="M323.8,597.5L332.5,585.0L337.5,577.5L345.0,583.8L346.2,595.0L346.2,608.8L328.8,608.8L327.5,601.2L323.8,597.5"/>
<path fill="#9AC8E0" stroke="none" d="M343.8,596.2 338.8,587.5 333.8,595.0Z"/>
<path fill="none" d="M333.8,595.0L338.8,587.5L343.8,596.2L333.8,595.0"/>
<path fill="#0D57A1" stroke="none" d="M337.5,577.5 346.2,583.8 350.0,577.5 357.5,572.5 378.8,573.8 381.2,581.2 390.0,583.8 395.0,572.5 396.6,570.0 334.5,570.0 333.8,571.2Z"/>
<path fill="none" d="M333.8,571.2L334.6,570.0M396.6,570.0L395.0,572.5L390.0,583.8L381.2,581.2L378.8,573.8L357.5,572.5L350.0,577.5L346.2,583.8L337.5,577.5L333.8,571.2"/>
<path fill="#3080BC" stroke="none" d="M458.8,571.2 458.9,570.0 449.4,570.0Z"/>
<path fill="none" d="M458.9,570.0L458.8,571.2L449.3,570.0"/>
<path fill="#E8F1FA" stroke="none" d="M461.2,762.5 466.2,768.8 475.0,767.5 481.2,757.5 477.5,747.5 467.5,750.0 460.0,757.5Z"/>
<path fill="none" d="M460.0,757.5L467.5,750.0L477.5,747.5L481.2,757.5L475.0,767.5L466.2,768.8L461.2,762.5L460.0,757.5"/>
<path fill="#CADEF0" stroke="none" d="M477.5,775.0 485.0,777.5 496.0,775.0 496.0,742.5 485.0,747.5 481.2,757.5 475.0,767.5Z"/>
<path fill="none" d="M475.0,767.5L481.2,757.5L485.0,747.5L496.0,742.5M496.0,775.0L485.0,777.5L477.5,775.0L475.0,767.5"/>
<path fill="#CADEF0" stroke="none" d="M407.5,790.0 425.0,790.0 427.5,786.2 420.0,781.2 407.5,785.0Z"/>
<path fill="none" d="M407.5,785.0L420.0,781.2L427.5,786.2L425.0,790.0M407.5,790.0L407.5,785.0"/>
<path fill="#9AC8E0" stroke="none" d="M370.0,960.0 706.0,960.0 706.0,810.0 496.0,810.0 496.0,790.0 370.0,790.0Z"/>
<path fill="#5EA5D1" stroke="none" d="M613.8,820.0 620.0,837.5 625.0,845.0 630.0,860.0 635.0,870.0 642.5,867.5 652.5,852.5 647.5,862.5 652.5,870.0 653.8,885.0 660.0,887.5 663.8,882.5 671.2,876.2 677.5,865.0 685.0,850.0 690.0,837.5 692.5,820.0 695.0,810.0 612.1,810.0Z"/>
<path fill="none" d="M695.0,810.0L695.0,810.0L692.5,820.0L690.0,837.5L685.0,850.0L677.5,865.0L671.2,876.2L663.8,882.5L660.0,887.5L653.8,885.0L652.5,870.0L647.5,862.5L652.5,852.5L642.5,867.5L635.0,870.0L630.0,860.0L625.0,845.0L620.0,837.5L613.8,820.0L612.1,810.0"/>
<path fill="#5EA5D1" stroke="none" d="M445.0,795.0 452.5,792.5 455.8,790.0 443.3,790.0Z"/>
<path fill="none" d="M455.8,790.0L452.5,792.5L445.0,795.0L443.3,790.0"/>
<path fill="#5EA5D1" stroke="none" d="M506.2,811.2 512.5,812.5 520.0,817.5 527.5,812.5 525.8,810.0 506.2,810.0Z"/>
<path fill="none" d="M525.8,810.0L527.5,812.5L520.0,817.5L512.5,812.5L506.2,811.2L506.2,810.0"/>
<path fill="#5EA5D1" stroke="none" d="M515.0,827.5 520.0,837.5 528.8,840.0 530.0,835.0 525.0,825.0 520.0,817.5 512.5,817.5Z"/>
<path fill="none" d="M512.5,817.5L520.0,817.5L525.0,825.0L530.0,835.0L528.8,840.0L520.0,837.5L515.0,827.5L512.5,817.5"/>
<path fill="#5EA5D1" stroke="none" d="M566.2,852.5 570.0,860.0 576.2,857.5 577.5,847.5 575.0,840.0 567.5,845.0Z"/>
<path fill="none" d="M567.5,845.0L575.0,840.0L577.5,847.5L576.2,857.5L570.0,860.0L566.2,852.5L567.5,845.0"/>
<path fill="#5EA5D1" stroke="none" d="M581.2,832.5 587.5,830.0 585.0,818.8 577.5,820.0Z"/>
<path fill="none" d="M577.5,820.0L585.0,818.8L587.5,830.0L581.2,832.5L577.5,820.0"/>
<path fill="#5EA5D1" stroke="none" d="M527.5,877.5 532.5,882.5 540.0,880.0 545.0,873.8 555.0,872.5 560.0,867.5 555.0,865.0 542.5,870.0 535.0,867.5 525.0,870.0Z"/>
<path fill="none" d="M525.0,870.0L535.0,867.5L542.5,870.0L555.0,865.0L560.0,867.5L555.0,872.5L545.0,873.8L540.0,880.0L532.5,882.5L527.5,877.5L525.0,870.0"/>
<path fill="#5EA5D1" stroke="none" d="M595.0,899.5 601.2,898.8 601.2,872.5 593.8,880.0Z"/>
<path fill="none" d="M593.8,880.0L601.2,872.5L601.2,898.8L595.0,899.5L593.8,880.0"/>
<path fill="#CADEF0" stroke="none" d="M411.2,795.0 417.5,802.5 420.0,812.5 427.5,815.0 435.0,807.5 440.0,812.5 450.0,812.5 452.5,802.5 445.0,797.5 435.0,795.0 432.5,790.0 409.4,790.0Z"/>
<path fill="none" d="M432.5,790.0L435.0,795.0L445.0,797.5L452.5,802.5L450.0,812.5L440.0,812.5L435.0,807.5L427.5,815.0L420.0,812.5L417.5,802.5L411.2,795.0L409.3,790.0"/>
<path fill="#CADEF0" stroke="none" d="M372.5,810.0 377.5,820.0 390.0,825.0 392.5,840.0 395.0,850.0 396.2,848.8 410.0,855.0 420.0,858.8 432.5,856.2 442.5,855.0 443.8,847.5 435.0,845.0 428.8,835.0 432.5,827.5 427.5,820.0 412.5,820.0 407.5,815.0 410.0,802.5 405.0,795.0 395.0,792.5 380.0,797.5 370.0,802.5Z"/>
<path fill="none" d="M370.0,802.5L380.0,797.5L395.0,792.5L405.0,795.0L410.0,802.5L407.5,815.0L412.5,820.0L427.5,820.0L432.5,827.5L428.8,835.0L435.0,845.0L443.8,847.5L442.5,855.0L432.5,856.2L420.0,858.8L410.0,855.0L396.2,848.8L395.0,850.0L392.5,840.0L390.0,825.0L377.5,820.0L372.5,810.0L370.0,802.5"/>
<path fill="#CADEF0" stroke="none" d="M448.8,851.2 452.5,852.5 465.0,847.5 462.5,842.5 447.5,846.2Z"/>
<path fill="none" d="M447.5,846.2L462.5,842.5L465.0,847.5L452.5,852.5L448.8,851.2L447.5,846.2"/>
<path fill="#CADEF0" stroke="none" d="M467.5,867.5 477.5,862.5 487.5,852.5 482.5,847.5 470.0,852.5 461.2,862.5Z"/>
<path fill="none" d="M461.2,862.5L470.0,852.5L482.5,847.5L487.5,852.5L477.5,862.5L467.5,867.5L461.2,862.5"/>
<path fill="#CADEF0" stroke="none" d="M486.2,855.0 490.0,862.5 495.0,870.0 505.0,867.5 506.2,855.0 500.0,845.0 487.5,847.5Z"/>
<path fill="none" d="M487.5,847.5L500.0,845.0L506.2,855.0L505.0,867.5L495.0,870.0L490.0,862.5L486.2,855.0L487.5,847.5"/>
<path fill="#CADEF0" stroke="none" d="M508.8,860.0 512.5,875.0 520.0,880.0 522.5,870.0 517.5,860.0 520.0,845.0 517.5,838.8 510.0,840.0Z"/>
<path fill="none" d="M510.0,840.0L517.5,838.8L520.0,845.0L517.5,860.0L522.5,870.0L520.0,880.0L512.5,875.0L508.8,860.0L510.0,840.0"/>
<path fill="#CADEF0" stroke="none" d="M532.5,855.0 536.2,865.0 545.0,870.0 548.8,860.0 552.5,845.0 542.5,842.5 531.2,843.8Z"/>
<path fill="none" d="M531.2,843.8L542.5,842.5L552.5,845.0L548.8,860.0L545.0,870.0L536.2,865.0L532.5,855.0L531.2,843.8"/>
<path fill="#CADEF0" stroke="none" d="M455.0,922.5 470.0,921.2 487.5,918.8 505.0,917.5 520.0,915.0 532.5,915.0 545.0,912.5 560.0,910.0 577.5,908.8 585.0,906.2 577.5,900.0 567.5,898.8 562.5,892.5 556.2,898.8 545.0,895.0 535.0,895.0 530.0,885.0 517.5,885.0 505.0,883.8 497.5,892.5 500.0,905.0 495.0,907.5 485.0,913.8 470.0,912.5 460.0,906.2 447.5,910.0 445.0,918.8Z"/>
<path fill="none" d="M445.0,918.8L447.5,910.0L460.0,906.2L470.0,912.5L485.0,913.8L495.0,907.5L500.0,905.0L497.5,892.5L505.0,883.8L517.5,885.0L530.0,885.0L535.0,895.0L545.0,895.0L556.2,898.8L562.5,892.5L567.5,898.8L577.5,900.0L585.0,906.2L577.5,908.8L560.0,910.0L545.0,912.5L532.5,915.0L520.0,915.0L505.0,917.5L487.5,918.8L470.0,921.2L455.0,922.5L445.0,918.8"/>
<path fill="#CADEF0" stroke="none" d="M537.5,887.5 542.5,890.0 550.0,887.5 555.0,880.0 565.0,880.0 567.5,876.2 555.0,873.8 542.5,875.0 532.5,881.2Z"/>
<path fill="none" d="M532.5,881.2L542.5,875.0L555.0,873.8L567.5,876.2L565.0,880.0L555.0,880.0L550.0,887.5L542.5,890.0L537.5,887.5L532.5,881.2"/>
<path fill="#3080BC" stroke="none" d="M838.8,645.0 852.5,638.8 862.5,627.5 872.5,620.0 883.7,610.0 880.0,610.0 832.0,610.0 832.0,646.9Z"/>
<path fill="none" d="M883.7,610.0L872.5,620.0L862.5,627.5L852.5,638.8L838.8,645.0L832.0,646.9"/>
<path fill="#CADEF0" stroke="none" d="M907.5,615.0 912.5,622.5 920.0,613.8 927.5,615.0 937.5,630.0 937.5,647.5 945.0,658.8 952.5,650.0 960.0,646.2 960.0,636.2 965.0,622.5 972.5,612.5 973.3,610.0 904.4,610.0Z"/>
<path fill="none" d="M973.3,610.0L972.5,612.5L965.0,622.5L960.0,636.2L960.0,646.2L952.5,650.0L945.0,658.8L937.5,647.5L937.5,630.0L927.5,615.0L920.0,613.8L912.5,622.5L907.5,615.0L904.3,610.0"/>
<path fill="#5EA5D1" stroke="none" d="M862.5,645.0 866.2,657.5 872.5,667.5 880.0,662.5 885.0,675.0 900.0,688.8 917.5,685.0 927.5,692.5 935.0,687.5 945.0,685.0 941.2,670.0 945.0,658.8 937.5,647.5 937.5,630.0 927.5,615.0 920.0,613.8 912.5,622.5 907.5,615.0 904.4,610.0 902.0,610.0 883.7,610.0 872.5,620.0 862.5,627.5 852.5,638.8Z"/>
<path fill="none" d="M852.5,638.8L862.5,627.5L872.5,620.0L883.7,610.0M904.3,610.0L907.5,615.0L912.5,622.5L920.0,613.8L927.5,615.0L937.5,630.0L937.5,647.5L945.0,658.8L941.2,670.0L945.0,685.0L935.0,687.5L927.5,692.5L917.5,685.0L900.0,688.8L885.0,675.0L880.0,662.5L872.5,667.5L866.2,657.5L862.5,645.0L852.5,638.8"/>
<path fill="#5EA5D1" stroke="none" d="M832.5,700.0 837.5,680.0 840.0,685.0 847.5,687.5 860.0,696.2 866.2,692.5 872.5,682.5 872.5,667.5 866.2,657.5 862.5,645.0 852.5,638.8 838.8,655.0 832.0,661.3 832.0,700.0Z"/>
<path fill="none" d="M832.0,661.3L838.8,655.0L852.5,638.8L862.5,645.0L866.2,657.5L872.5,667.5L872.5,682.5L866.2,692.5L860.0,696.2L847.5,687.5L840.0,685.0L837.5,680.0L832.5,700.0L832.0,700.0"/>
<path fill="#9AC8E0" stroke="none" d="M858.0,705.0 863.8,710.0 868.8,717.5 881.2,720.0 882.5,731.2 892.5,730.0 903.8,733.8 910.0,726.2 917.5,725.0 925.0,715.0 923.8,703.8 927.5,692.5 917.5,685.0 900.0,688.8 885.0,675.0 880.0,662.5 872.5,667.5 872.5,682.5 866.2,692.5 860.0,696.2Z"/>
<path fill="none" d="M860.0,696.2L866.2,692.5L872.5,682.5L872.5,667.5L880.0,662.5L885.0,675.0L900.0,688.8L917.5,685.0L927.5,692.5L923.8,703.8L925.0,715.0L917.5,725.0L910.0,726.2L903.8,733.8L892.5,730.0L882.5,731.2L881.2,720.0L868.8,717.5L863.8,710.0L858.0,705.0L860.0,696.2"/>
<path fill="#5EA5D1" stroke="none" d="M838.8,655.0 852.5,638.8 838.8,645.0 832.0,646.9 832.0,661.3Z"/>
<path fill="none" d="M832.0,661.3L838.8,655.0L852.5,638.8L838.8,645.0L832.0,646.9"/>
<path fill="#5EA5D1" stroke="none" d="M150.0,640.0 160.0,640.0 160.0,550.0 230.0,550.0 230.0,400.0 150.0,400.0Z"/>
<path fill="#5EA5D1" stroke="none" d="M637.5,827.5 630.0,837.5 645.0,840.0 652.5,853.8 667.5,860.0 677.5,865.0 686.2,850.0 688.8,835.0 695.0,811.2 694.3,810.0 633.1,810.0Z"/>
<path fill="none" d="M694.3,810.0L695.0,811.2L688.8,835.0L686.2,850.0L677.5,865.0L667.5,860.0L652.5,853.8L645.0,840.0L630.0,837.5L637.5,827.5L633.1,810.0"/>
<path fill="#5EA5D1" stroke="none" d="M620.0,857.5 630.0,860.0 635.0,875.0 645.0,867.5 652.5,880.0 662.5,885.0 671.2,877.5 677.5,865.0 667.5,860.0 652.5,853.8 645.0,840.0 630.0,837.5Z"/>
<path fill="none" d="M630.0,837.5L645.0,840.0L652.5,853.8L667.5,860.0L677.5,865.0L671.2,877.5L662.5,885.0L652.5,880.0L645.0,867.5L635.0,875.0L630.0,860.0L620.0,857.5L630.0,837.5"/>
<path fill="#9AC8E0" stroke="none" d="M566.0,181.8 569.0,184.0 570.0,190.8 576.8,186.8 581.8,183.2 585.0,176.8 589.0,170.0 581.8,170.0 573.0,171.0 569.0,173.2 566.0,172.5Z"/>
<path fill="none" d="M566.0,172.5L569.0,173.2L573.0,171.0L581.8,170.0L589.0,170.0L585.0,176.8L581.8,183.2L576.8,186.8L570.0,190.8L569.0,184.0L566.0,181.8"/>
<path fill="none" d="M242.5,295.0L255.0,298.8L270.0,302.5L271.2,297.5"/>
<path fill="none" d="M302.5,291.2L312.5,302.5L316.2,315.0L302.5,320.0L302.5,330.0"/>
<path fill="none" d="M315.0,290.0L325.0,303.8L326.2,330.0"/>
<path fill="none" d="M330.0,312.5L340.0,305.0"/>
<path fill="none" d="M330.0,312.5L327.5,330.0"/>
<path fill="none" d="M347.5,313.8L347.5,330.0"/>
<path fill="none" d="M405.0,312.5L410.0,330.0"/>
<path fill="none" d="M407.5,305.0L415.0,292.5"/>
<path fill="none" d="M437.5,310.0L442.5,293.8"/>
<path fill="none" d="M437.5,310.0L450.0,310.0L460.0,315.0L465.0,330.0"/>
<path fill="none" d="M437.5,310.0L435.0,330.0"/>
<path fill="none" d="M473.8,297.5L480.0,310.0L495.0,300.0"/>
<path fill="none" d="M260.0,341.2L280.0,347.5L302.5,346.2L310.0,355.0L312.5,357.5"/>
<path fill="none" d="M310.0,330.0L308.8,342.5L310.0,355.0"/>
<path fill="none" d="M312.5,357.5L325.0,356.2L340.0,355.0L350.0,357.5L360.0,352.5L370.0,347.5L362.5,342.5L350.0,337.5L342.5,330.0"/>
<path fill="none" d="M312.5,357.5L313.8,372.5L310.0,386.2L323.8,390.0L340.0,382.5L341.2,370.0L345.0,358.8"/>
<path fill="none" d="M323.8,390.0L322.5,405.0L330.0,415.0L327.5,425.0L340.0,423.8L341.2,415.0L352.5,408.8L351.2,392.5L350.0,378.8L365.0,372.5L380.0,373.8L390.0,371.2L395.0,372.5"/>
<path fill="none" d="M327.5,425.0L332.5,442.5L335.0,447.5"/>
<path fill="none" d="M370.0,347.5L372.5,357.5L368.8,362.5L376.2,370.0L380.0,373.8"/>
<path fill="none" d="M395.0,372.5L396.2,383.8"/>
<path fill="none" d="M395.0,372.5L397.5,357.5L405.0,353.8L420.0,352.5L437.5,347.5L452.5,340.0L457.5,335.0L455.0,330.0"/>
<path fill="none" d="M400.0,330.0L402.5,342.5L405.0,353.8"/>
<path fill="none" d="M452.5,340.0L457.5,347.5L465.0,357.5L466.2,362.5L460.0,367.5L458.8,387.5L460.0,396.2L455.0,402.5L452.5,417.5L450.0,430.0"/>
<path fill="none" d="M466.2,362.5L480.0,357.5L492.5,350.0L507.5,345.0L512.5,337.5L515.0,330.0"/>
<path fill="none" d="M460.0,396.2L465.0,402.5L477.5,397.5L495.0,385.0L498.8,392.5L497.5,402.5L487.5,412.5L487.5,425.0L495.0,437.5L490.0,445.0L470.0,445.0L462.5,452.5L443.8,452.5"/>
<path fill="none" d="M498.8,392.5L512.5,383.8L513.8,380.0"/>
<path fill="none" d="M495.0,437.5L502.5,450.0L507.5,465.0L505.0,476.2"/>
<path fill="none" d="M470.0,445.0L467.5,465.0L470.0,480.0L467.5,481.2"/>
<path fill="none" d="M467.5,465.0L477.5,457.5L492.5,452.5L502.5,455.0L507.5,465.0"/>
<path fill="none" d="M491.2,471.2L496.2,465.0L500.0,472.5L491.2,471.2"/>
<path fill="none" d="M420.0,460.0L427.5,470.0L430.0,477.5L442.5,480.0L457.5,472.5L467.5,475.0"/>
<path fill="none" d="M392.5,466.2L402.5,480.0L400.0,487.5L408.8,497.5L407.5,508.8L400.0,515.0L410.0,520.0L420.0,525.0L432.5,530.0L435.0,522.5L435.0,505.0L440.0,485.0L442.5,480.0"/>
<path fill="none" d="M407.5,508.8L420.0,505.0L432.5,510.0L435.0,522.5"/>
<path fill="none" d="M435.0,522.5L447.5,512.5L457.5,507.5L460.0,512.5L465.0,505.0"/>
<path fill="none" d="M267.5,430.0L280.0,437.5L292.5,446.2L312.5,470.0L328.8,485.0L335.0,492.5L345.0,500.0L345.0,507.5L325.0,513.8L310.0,520.0L297.5,523.8L282.5,518.8L275.0,505.0L266.2,505.0L260.0,510.0L257.5,520.0L245.0,525.0L230.0,532.5"/>
<path fill="none" d="M266.8,430.0L266.2,505.0"/>
<path fill="none" d="M335.0,477.5L333.8,490.0L335.0,492.5"/>
<path fill="none" d="M345.0,507.5L357.5,508.8L365.0,502.5L377.5,515.0L390.0,521.2L402.5,523.8L410.0,528.8"/>
<path fill="none" d="M357.5,508.8L356.2,520.0L353.8,520.0"/>
<path fill="none" d="M297.5,523.8L300.0,537.5L310.0,547.5L320.0,555.0L327.5,562.5L335.0,570.0"/>
<path fill="none" d="M245.0,525.0L252.5,530.0L255.0,542.5L265.0,552.5L277.5,552.5L295.0,551.2L300.0,537.5"/>
<path fill="none" d="M255.0,542.5L245.0,555.0L237.5,550.0L230.0,555.0"/>
<path fill="none" d="M265.0,552.5L262.5,570.0"/>
<path fill="none" d="M277.5,552.5L280.0,570.0"/>
<path fill="none" d="M295.0,551.2L305.0,570.0"/>
<path fill="none" d="M310.0,547.5L325.0,537.5L340.0,530.0L347.5,527.5"/>
<path fill="none" d="M542.5,330.0L550.0,340.0L547.5,355.0L542.5,362.5L546.2,368.8"/>
<path fill="none" d="M525.0,505.0L547.5,502.5L552.5,515.0L542.5,527.5L525.0,528.8L525.0,505.0"/>
<path fill="none" d="M525.0,528.8L542.5,527.5L551.2,535.0L547.5,550.0L535.0,562.5L522.5,555.0"/>
<path fill="none" d="M542.5,527.5L566.0,515.0"/>
<path fill="none" d="M880.0,277.5L887.5,276.2L893.8,277.5L892.5,290.0"/>
<path fill="none" d="M896.2,345.0L898.8,370.0"/>
<path fill="none" d="M1046.2,271.2L1050.0,260.0L1055.0,270.0L1052.5,280.0L1046.2,282.5"/>
<path fill="none" d="M917.5,486.2L905.0,495.0L892.5,502.5L880.0,506.2"/>
<path fill="none" d="M930.0,508.8L917.5,511.2L905.0,517.5L892.5,520.0L880.0,515.0"/>
<path fill="none" d="M905.0,517.5L900.0,522.5L912.5,545.0L915.0,548.8"/>
<path fill="none" d="M891.2,520.0L912.5,545.0"/>
<path fill="none" d="M918.8,522.5L930.0,517.5"/>
<path fill="none" d="M918.8,522.5L925.0,530.0L927.5,540.0L940.0,548.8"/>
<path fill="none" d="M880.0,377.5L890.0,381.2L900.0,388.8L907.5,385.0L913.8,386.2"/>
<path fill="none" d="M880.0,407.5L887.5,406.2L891.2,412.5"/>
<path fill="none" d="M905.0,420.0L917.5,411.2"/>
<path fill="none" d="M880.0,450.0L890.0,445.0L893.8,442.5"/>
<path fill="none" d="M880.0,463.8L890.0,457.5L896.2,450.0"/>
<path fill="none" d="M872.2,290.0L880.0,286.5"/>
<path fill="none" d="M866.0,337.5L878.5,350.0L880.0,362.0"/>
<path fill="none" d="M878.5,350.0L880.0,349.5"/>
<path fill="none" d="M813.5,250.0L818.5,242.5L828.5,240.0L831.0,235.0L846.0,236.2"/>
<path fill="none" d="M658.5,265.0L668.5,265.0L668.5,272.5L658.5,272.5L658.5,265.0"/>
<path fill="none" d="M661.0,262.5L662.2,273.8"/>
<path fill="none" d="M664.8,262.5L666.0,273.8"/>
<path fill="none" d="M657.2,268.8L669.8,268.8"/>
<path fill="none" d="M863.5,401.2L866.0,387.5L878.5,381.2L880.0,379.0"/>
<path fill="none" d="M878.5,512.5L880.0,513.4"/>
<path fill="none" d="M658.5,567.5L657.2,577.5L658.5,593.8"/>
<path fill="none" d="M657.2,577.5L666.0,585.0L678.5,582.5L688.5,580.0L702.2,583.8L702.2,572.5"/>
<path fill="none" d="M702.2,583.8L698.5,590.0"/>
<path fill="none" d="M731.0,585.0L736.0,577.5L756.0,578.8L756.0,572.5"/>
<path fill="none" d="M731.0,585.0L738.5,590.0L736.0,600.0L738.5,606.2"/>
<path fill="none" d="M566.0,472.5L581.0,470.0L591.0,472.5L598.5,465.0L612.2,468.8L613.5,480.0L622.2,488.8"/>
<path fill="none" d="M566.0,490.0L578.5,495.0L591.0,492.5L598.5,495.0L606.0,492.5L613.5,480.0"/>
<path fill="none" d="M598.5,495.0L591.0,505.0L584.8,512.5L583.5,530.0L584.8,542.5L578.5,547.5L566.0,550.0"/>
<path fill="none" d="M628.5,506.2L626.0,510.0L616.0,517.5L612.2,527.5L613.5,545.0L612.2,560.0L623.5,577.5"/>
<path fill="none" d="M584.8,542.5L596.0,545.0L612.2,550.0"/>
<path fill="none" d="M633.5,517.5L641.0,506.2L651.0,508.8L658.5,520.0L662.2,530.0L641.0,530.0L634.8,525.0L633.5,517.5"/>
<path fill="none" d="M662.2,530.0L666.0,522.5L673.5,507.5L674.8,498.8"/>
<path fill="none" d="M662.2,530.0L666.0,535.0L676.0,537.5"/>
<path fill="none" d="M673.5,507.5L683.5,510.0"/>
<path fill="none" d="M641.0,530.0L639.8,545.0L642.2,556.2"/>
<path fill="none" d="M566.0,560.0L578.5,555.0L583.5,562.5L578.5,570.0L571.0,577.5L568.5,595.0L566.0,602.5"/>
<path fill="none" d="M612.2,560.0L601.0,562.5L583.5,562.5"/>
<path fill="none" d="M623.5,577.5L626.0,587.5L624.8,610.0"/>
<path fill="none" d="M598.5,435.0L596.0,445.0L598.5,465.0"/>
<path fill="none" d="M607.2,431.2L619.8,435.0"/>
<path fill="none" d="M566.0,445.0L578.5,442.5L596.0,445.0"/>
<path fill="none" d="M518.5,652.5L519.8,642.5L531.0,637.5L546.0,631.2L561.0,623.8L568.5,627.5"/>
<path fill="none" d="M712.2,610.0L713.5,612.5L718.5,615.0"/>
<path fill="none" d="M718.5,615.0L708.5,618.8L706.0,630.0L707.2,640.0L701.0,642.5L696.0,632.5L683.5,630.0L682.2,640.0L671.0,655.0L668.5,661.2"/>
<path fill="none" d="M682.2,640.0L693.5,650.0L703.5,645.0L707.2,640.0"/>
<path fill="none" d="M703.5,645.0L716.0,652.5L718.5,665.0L708.5,670.0L698.5,668.8L688.5,677.5L681.0,680.0"/>
<path fill="none" d="M708.5,670.0L713.5,680.0L726.0,685.0L736.0,687.5"/>
<path fill="none" d="M718.5,665.0L728.5,657.5L733.5,650.0L746.0,647.5L753.5,656.2L763.5,650.0L773.5,652.5L778.5,637.5"/>
<path fill="none" d="M737.2,620.0L743.5,640.0L746.0,647.5"/>
<path fill="none" d="M713.5,622.5L737.2,620.0L753.5,615.0L778.5,637.5L808.5,655.0L809.8,667.5L806.0,670.0L804.8,690.0L802.2,691.2"/>
<path fill="none" d="M778.5,637.5L791.0,625.0L803.5,617.5L808.5,610.0"/>
<path fill="none" d="M818.5,610.0L821.0,630.0L816.0,637.5L823.5,647.5L832.0,647.5"/>
<path fill="none" d="M808.5,655.0L813.5,662.5L823.5,670.0L832.0,667.5"/>
<path fill="none" d="M773.5,652.5L772.2,675.0L763.5,687.5"/>
<path fill="none" d="M772.2,675.0L783.5,670.0L796.0,665.0L808.5,655.0"/>
<path fill="none" d="M758.5,705.0L768.5,720.0"/>
<path fill="none" d="M699.8,706.2L703.5,717.5L713.5,720.0L719.8,720.0"/>
<path fill="none" d="M703.5,717.5L702.2,730.0"/>
<path fill="none" d="M708.5,737.5L713.5,720.0"/>
<path fill="none" d="M651.0,750.0L656.0,760.0L663.5,775.0L661.0,787.5L658.5,795.0L668.5,797.5L676.0,785.0L688.5,777.5L693.5,770.0"/>
<path fill="none" d="M656.0,760.0L646.0,757.5"/>
<path fill="none" d="M668.5,797.5L671.0,802.5L691.0,801.2L692.2,795.0"/>
<path fill="none" d="M646.0,797.5L658.5,795.0"/>
<path fill="none" d="M636.0,805.0L641.0,810.0"/>
<path fill="none" d="M528.5,570.0L529.8,585.0L533.5,597.5L532.2,612.5"/>
<path fill="none" d="M623.5,611.2L623.7,610.0"/>
<path fill="none" d="M218.0,715.0L221.2,722.5L219.5,730.0L225.5,732.5L224.5,740.0"/>
<path fill="none" d="M221.2,722.5L227.5,720.0L230.0,727.5"/>
<path fill="none" d="M220.0,735.0L227.5,736.2L228.0,741.2"/>
<path fill="none" d="M216.2,725.0L225.0,726.2"/>
<path fill="none" d="M181.8,550.0L187.5,547.5L197.5,542.5L210.0,536.2L217.5,537.5L230.0,530.0"/>
<path fill="none" stroke-width="2" d="M623.5,610.0L623.6,610.4M174.1,742.1L177.2,738.4L182.7,734.3M182.7,734.3L186.9,739.6L188.2,741.0M167.1,739.5L168.5,739.3L171.5,742.4M444.1,916.2L446.2,915.3L448.5,909.4L454.7,907.5L457.4,902.0M471.8,921.4L471.7,920.8M457.4,902.0L460.2,907.2L464.5,911.4L469.7,914.9L471.7,920.8M559.2,609.4L561.7,603.6L560.3,597.1L564.3,591.6L563.6,585.2M559.2,609.4L553.6,612.8L548.0,616.5L541.6,618.1L535.3,620.2M535.3,620.2L533.2,615.0L531.4,609.8L528.5,604.9M528.5,604.9L532.6,600.5L534.9,595.1L539.2,590.8L540.3,584.7M540.3,584.7L546.2,583.6L551.9,587.0L557.8,584.6L563.6,585.2M524.1,570.0L525.0,571.3L531.8,574.1L534.5,580.9L540.3,584.7M566.0,583.6L563.6,585.2M230.4,738.1L232.3,739.5M230.4,738.1L226.8,739.0M226.8,739.0L226.2,740.0M225.2,733.2L224.7,734.8M225.2,733.2L226.4,732.9M226.4,732.9L230.4,734.3M230.4,734.3L230.4,738.1M224.7,734.8L226.8,739.0M220.3,738.3L220.6,737.0M224.7,734.8L220.6,737.0M225.6,740.0L226.2,740.0M221.4,740.0L220.3,738.3M203.1,650.6L201.9,656.0L203.6,661.2L203.7,666.6M203.1,650.6L197.6,649.3L192.0,648.4L186.2,649.2L180.6,648.8L175.4,645.9M203.7,666.6L198.1,667.3L192.7,668.6L187.5,670.8M187.5,670.8L183.8,668.3L180.6,665.4M180.6,665.4L178.9,658.9L177.9,652.3L175.2,646.2M175.2,646.2L175.4,645.9M182.6,685.1L184.7,680.5L185.7,675.5L187.5,670.8M203.3,689.6L198.0,688.9L192.9,687.5L187.7,686.2L182.6,685.1M203.3,689.6L205.2,684.0L203.3,678.2L205.8,672.6L204.0,666.9M204.0,666.9L203.7,666.6M172.2,646.7L175.2,646.2M172.8,666.6L174.1,665.4L180.6,665.4M176.4,693.2L172.8,693.7L169.1,694.5M176.4,693.2L180.9,697.9L186.8,700.8L191.4,705.2M168.6,695.5L169.1,694.5M171.0,718.9L174.4,719.6L180.1,722.2M180.1,722.2L184.1,719.5L187.3,715.9M187.3,715.9L189.4,712.9L191.0,709.6M191.0,709.6L191.4,705.2M168.4,693.7L169.1,694.5M182.6,685.1L179.9,689.5L176.4,693.2M183.6,732.3L182.7,734.3M183.6,732.3L182.6,727.0L180.1,722.2M188.8,732.0L183.6,732.3M196.1,725.4L196.0,726.4M196.1,725.4L192.4,720.0L187.3,715.9M196.0,726.4L191.9,728.6L188.8,732.0M191.0,709.6L197.0,713.4L201.4,718.9M196.1,725.4L198.6,722.1L201.5,719.2M201.5,719.2L201.4,718.9M469.4,689.5L464.7,693.9L459.4,697.5L454.4,701.6M452.9,672.2L458.2,675.4L462.3,679.8L465.4,685.0L469.4,689.5M452.9,672.2L449.8,674.4L446.2,675.7M442.7,693.9L442.3,687.5L443.5,681.5L446.2,675.7M442.7,693.9L444.7,697.9L447.8,701.1M447.8,701.1L454.4,701.6M457.5,900.9L457.4,902.0M424.9,903.1L425.0,896.7L427.9,890.7M457.5,900.9L457.2,900.8M457.2,900.8L450.8,900.5L445.1,897.9L440.1,893.4L433.8,892.6L427.9,890.7M465.0,893.3L461.7,897.5L457.5,900.9M458.7,865.7L452.5,868.3L445.6,867.4L439.5,870.4M464.2,874.8L460.7,870.7L458.7,865.7M464.2,874.8L463.3,881.0L466.3,887.1L465.0,893.3M457.2,900.8L455.7,894.9L453.0,889.7L448.3,885.6L447.2,879.5L440.6,876.5L439.5,870.4M864.6,305.8L862.3,306.2L856.0,306.1M840.5,290.6L843.8,293.6L847.5,298.2L850.7,303.2L856.0,306.1M850.5,325.9L850.8,321.1L847.6,315.1M856.0,306.1L852.3,311.0L847.6,315.1M649.9,174.2L652.5,172.9M649.9,174.2L646.4,169.3L645.2,167.9M599.9,155.6L599.7,156.4L600.1,162.2M594.2,160.2L600.1,162.2M632.5,174.7L627.9,177.8M632.5,174.7L634.2,168.6L634.5,162.5L634.1,160.2M627.9,177.8L622.5,175.1L616.4,174.6L611.0,171.9M630.8,158.5L628.2,161.0L621.7,163.4L615.0,165.3L610.4,170.8M611.0,171.9L610.4,170.8M601.1,165.4L600.1,162.2M601.1,165.4L605.4,168.6L610.4,170.8M471.7,920.8L476.8,916.4L483.2,913.7L487.8,908.6M487.8,908.6L492.9,911.4L498.0,913.9M495.8,918.7L498.0,913.9M465.0,893.3L468.9,893.0L472.9,893.0M487.8,908.6L487.5,904.7L486.2,901.0M486.2,901.0L481.9,898.1L478.1,894.5L472.9,893.0M481.7,872.1L486.8,875.7M464.2,874.8L470.3,875.3L475.9,873.0L481.7,872.1M486.8,875.7L486.5,881.6M472.9,893.0L476.8,888.4L481.6,885.0L486.5,881.6M480.5,858.3L481.8,865.1L481.7,872.1M458.7,865.7L461.1,859.3M480.5,858.3L475.5,855.0M461.1,859.3L465.8,857.7L470.6,856.1L475.5,855.0M422.7,814.5L427.7,810.6L434.0,809.4L438.8,804.9L445.2,804.0M451.3,811.0L447.7,808.0L445.2,804.0M422.7,814.5L425.7,818.9L427.0,823.9L428.9,828.7M451.3,811.0L449.8,816.2L447.1,821.1L446.6,826.6M446.6,826.6L440.6,826.4L434.8,827.9L428.9,828.7M427.9,890.7L425.3,884.7M409.9,882.1L414.4,884.7L419.8,885.7L425.3,884.7M415.8,648.3L410.6,646.4L405.1,645.6M415.8,648.3L417.9,642.9L417.7,637.2L418.1,631.6M405.1,645.6L401.3,640.2L398.6,634.1M418.1,631.6L411.9,631.1L405.9,632.5L399.7,631.9M398.6,634.1L399.7,631.9M511.8,601.2L517.3,602.6L522.9,604.0L528.5,604.9M511.8,601.2L509.3,595.4L507.7,589.2L502.5,584.7L501.4,578.2L498.9,572.5M498.9,572.5L498.7,570.4M498.7,570.4L499.3,570.0M498.1,620.0L500.3,614.4L504.9,610.6L506.8,604.8L511.8,601.2M498.1,620.0L491.1,620.9L484.3,619.4M498.9,572.5L494.8,577.7L494.4,584.6L490.6,590.0L489.4,596.5L486.0,602.0L484.2,608.3L481.0,614.0M484.3,619.4L481.0,614.0M230.4,734.3L232.8,732.0M226.4,732.9L229.2,728.2M232.8,732.0L229.2,728.2M236.1,739.0L235.2,735.8L234.9,731.8M232.8,732.0L234.9,731.8M238.1,727.1L236.8,730.9M235.3,731.5L236.8,730.9M238.1,727.1L236.5,725.3M235.3,731.5L232.7,725.4M236.5,725.3L232.7,725.4M219.9,726.7L225.1,726.3M219.9,726.7L219.3,731.1M225.1,726.3L223.5,731.3M219.3,731.1L223.5,731.3M225.2,733.2L223.5,731.3M225.1,726.3L225.3,726.1M229.2,728.2L228.4,725.1M225.3,726.1L228.4,725.1M235.3,731.5L234.9,731.8M232.7,725.4L231.0,724.6M231.0,724.6L228.7,724.7M228.4,725.1L228.7,724.7M225.3,726.1L220.8,721.3M219.9,726.7L218.0,724.1M220.8,721.3L218.0,724.1M296.1,661.5L290.1,659.6L285.1,655.8M297.3,650.9L295.9,656.1L296.1,661.5M297.3,650.9L296.3,650.1M296.3,650.1L293.3,649.5M293.3,649.5L289.4,653.0L285.1,655.8M587.2,621.5L583.6,624.0L579.7,626.3M587.2,621.5L593.2,624.0L600.0,624.1L605.8,627.1M579.7,626.3L578.9,632.5L580.0,638.6L580.9,644.7M580.9,644.7L585.9,646.2L590.6,648.5L595.1,651.2M595.1,651.2L600.4,649.8L604.1,645.6L609.1,643.6M605.8,627.1L606.2,632.8L607.6,638.2L609.1,643.6M589.6,610.0L587.9,615.4L587.2,621.5M559.2,609.4L561.8,613.9L566.3,617.0L568.7,621.7M568.7,621.7L571.9,624.4M571.9,624.4L575.9,625.1L579.7,626.3M623.5,611.1L619.0,614.7L615.4,619.7L610.3,623.1L605.8,627.1M633.3,639.0L634.9,633.4L633.8,627.7L634.4,622.1L634.1,620.2M633.3,639.0L627.7,641.6L622.6,644.9L618.0,648.8M618.0,648.8L613.8,645.7L609.1,643.6M201.6,735.8L203.3,730.0M201.6,735.8L197.4,737.0M197.3,736.9L198.9,732.9L199.2,728.7M203.3,730.0L200.6,728.8M199.2,728.7L200.6,728.8M203.4,740.0L203.8,736.5M203.8,736.5L201.6,735.8M197.3,740.2L197.4,737.0M188.8,732.0L193.0,734.6L197.3,736.9M196.0,726.4L199.2,728.7M201.5,719.2L204.3,721.3M204.3,721.3L202.9,725.3L200.6,728.8M242.1,669.5L241.8,671.4M242.1,669.5L247.8,668.2L253.3,666.3L257.9,662.7L262.7,659.4M241.8,671.4L245.5,675.5L250.7,677.3L254.9,680.8M262.7,659.4L262.7,664.3L261.8,669.1L262.8,674.0M262.8,674.0L259.9,677.5L257.1,681.1M254.9,680.8L257.1,681.1M276.4,658.9L280.1,656.7L284.4,655.7M276.4,658.9L279.3,663.8L282.1,668.8L283.0,674.6M284.4,655.7L285.1,655.8M283.0,674.6L288.2,673.4L292.8,670.5M296.2,661.7L293.9,665.8L292.8,670.5M256.1,699.6L257.8,704.2L261.1,707.7L264.2,711.4M256.1,699.6L259.7,695.0L261.5,689.5M264.2,711.4L266.8,706.7L271.6,703.7L273.9,698.7M261.5,689.5L266.0,690.5L270.6,691.2M270.6,691.2L272.4,694.9L273.9,698.7M255.4,699.6L250.3,697.3L244.4,697.0L239.5,694.0M239.5,694.0L243.5,688.3L248.8,684.1L254.9,680.8M257.1,681.1L259.2,685.3L261.5,689.5M255.4,699.6L256.1,699.6M281.5,677.8L281.7,681.1M281.7,681.1L278.0,684.4L273.6,687.0L270.6,691.2M281.5,677.8L275.4,675.8L269.3,673.9L262.8,674.0M618.3,200.9L618.7,202.3M618.3,200.9L619.4,194.7L620.7,188.5M618.7,202.3L623.5,202.0L628.1,202.2L632.7,203.8M620.7,188.5L625.9,186.5M625.9,186.5L630.6,189.5L634.8,193.2M632.7,203.8L633.9,198.5L634.8,193.2M604.9,191.1L610.1,193.3L613.8,197.7L618.3,200.9M611.6,183.1L608.4,187.2L604.9,191.1M611.6,183.1L615.9,186.2L620.7,188.5M611.6,183.1L612.2,177.5L611.0,171.9M627.9,177.8L627.4,182.3L625.9,186.5M808.4,342.0L807.4,338.7L805.0,332.5M812.8,341.0L813.0,340.8L818.6,339.5L822.7,336.0M805.0,332.5L810.7,328.9L817.2,326.7M817.2,326.7L820.4,331.1L822.7,336.0M822.7,336.0L826.7,337.9M793.8,345.6L793.6,339.7L794.8,333.9M793.8,345.6L788.2,346.5L782.9,348.5L777.1,347.8L774.1,348.9M774.5,344.1L776.1,343.8L780.4,338.2L785.5,334.0L792.3,332.8M794.8,333.9L792.3,332.8M805.0,332.5L802.2,331.8M802.2,331.8L798.6,333.4L794.8,333.9M798.5,355.5L796.4,351.0L793.8,345.6M792.3,332.8L789.0,329.0L786.1,325.0L783.7,320.6M771.3,328.1L771.8,327.5L777.4,323.6L783.7,320.6M417.6,810.6L416.5,806.6L414.7,802.9M417.6,810.6L412.6,815.2L405.7,817.5L402.0,823.9L397.0,828.6L390.7,831.6M414.7,802.9L409.3,799.4L405.1,794.5L400.2,790.3M400.2,790.3L394.0,789.8L387.7,790.3L381.5,788.9M374.1,804.8L374.8,799.7M374.8,799.7L376.5,796.1L377.8,792.4M390.7,831.6L390.4,831.6M381.5,788.9L377.8,792.4M372.1,800.7L374.8,799.7M400.2,790.3L404.9,786.3L408.4,781.3L410.1,774.9L415.2,771.2M414.7,802.9L420.4,800.8L422.4,794.2L427.4,791.2L432.0,787.7L436.8,784.5M436.8,784.5L432.4,779.5L426.9,776.4L420.8,774.2L415.2,771.2M396.7,745.0L394.2,751.8L388.7,756.3L383.0,760.6L379.6,766.8M396.7,745.0L401.5,749.0L406.4,752.8L412.1,755.4L416.9,759.4M379.6,766.8L380.7,772.3L379.5,777.9L379.5,783.5L381.5,788.9M416.9,759.4L417.0,765.4L415.2,771.2M396.9,730.5L399.2,724.2L399.5,717.2L404.7,711.8L405.1,704.9M396.9,730.5L403.1,729.4L409.4,729.2L415.7,729.0L421.4,724.8L427.9,725.6M419.7,702.1L415.0,703.7L409.8,702.9L405.1,704.9M419.7,702.1L424.2,707.5L427.2,713.9L431.4,719.4M427.9,725.6L429.2,722.3L431.4,719.4M438.4,673.2L432.9,673.2L427.3,673.6M438.4,673.2L439.3,668.4L439.4,663.6L438.0,658.8M427.3,673.6L429.0,668.3L431.8,663.2L430.9,657.1L432.9,651.8M438.0,658.8L435.4,655.4L432.9,651.8M446.2,675.7L442.2,674.7L438.4,673.2M452.9,672.2L454.4,668.5L455.8,664.8M455.8,664.8L449.6,663.5L443.5,662.2L438.0,658.8M415.5,662.9L418.0,657.2L419.2,651.1M415.5,662.9L419.1,666.5L421.7,671.3L426.1,674.2M426.1,674.2L427.3,673.6M432.2,648.9L432.9,651.8M419.2,651.1L425.5,648.9L432.2,648.9M404.5,588.8L407.9,594.7L411.6,600.5M422.2,573.9L417.3,577.0L414.1,582.2L407.9,583.8L404.5,588.8M436.1,586.8L432.0,581.9L426.6,578.5L422.2,573.9M436.1,586.8L435.0,591.5L433.0,595.9M411.6,600.5L417.0,599.4L422.2,597.7L427.9,598.1L433.0,595.9M436.3,644.0L441.0,645.7L445.8,647.0M436.3,644.0L432.2,648.9M455.8,664.8L456.8,663.4M456.8,663.4L453.2,657.9L449.2,652.7L445.8,647.0M436.3,643.3L438.9,637.8L443.2,633.9L448.3,630.7L452.4,626.6M452.4,626.6L456.5,630.5L460.8,634.1L465.6,637.1M436.3,644.0L436.3,643.3M445.8,647.0L450.1,643.2L456.2,643.0L460.2,638.6L465.6,637.1M498.7,570.4L493.0,570.8L489.1,570.0M466.0,604.9L471.3,607.4L475.6,611.5L481.0,614.0M466.0,604.9L463.4,598.7L462.9,592.2L462.0,585.7M462.0,585.7L467.8,582.3L472.3,577.4L476.0,571.8L479.4,570.0M462.0,585.7L457.0,585.9L452.3,584.1L447.7,582.5M447.7,582.5L446.2,576.6L448.9,570.4L448.6,570.0M436.1,586.8L441.9,584.7L447.7,582.5M422.2,573.9L420.7,570.0M387.1,616.0L391.5,620.9L394.7,626.9L399.8,631.3M387.1,616.0L388.5,612.1L388.9,608.0M388.9,608.0L395.4,609.5L402.0,610.0M402.0,610.0L403.2,614.9L403.2,619.7L402.9,624.7M402.9,624.7L401.0,627.9L399.8,631.3M418.8,618.0L416.0,613.7L412.2,610.1L410.0,605.4M410.0,605.4L406.0,607.8L402.0,610.0M418.8,618.0L414.1,621.5L408.7,623.6L402.9,624.7M171.9,582.7L173.5,581.4M170.1,573.1L171.5,576.5L173.5,581.4M276.4,658.9L272.8,656.3L268.5,655.1M283.0,674.6L281.5,677.8M262.7,659.4L264.5,654.9M264.5,654.9L268.5,655.1M381.3,620.9L383.3,625.5L384.9,630.2L387.1,634.7M381.3,620.9L376.2,622.6L370.9,622.5M387.1,634.7L381.8,634.4L376.5,634.5L371.2,633.9M370.9,622.5L369.9,626.7L368.6,630.7M368.6,630.7L371.2,633.9M399.7,631.9L399.8,631.3M390.6,636.6L387.1,634.7M398.6,634.1L394.7,635.5L390.6,636.6M387.1,616.0L384.2,618.4L381.3,620.9M410.0,605.4L411.6,600.5M404.5,588.8L398.7,588.4L393.2,586.8L388.1,584.0M384.7,601.6L386.6,596.3L387.0,591.0L386.2,585.6M384.7,601.6L386.7,604.9L388.9,608.0M388.1,584.0L386.2,585.6M388.1,584.0L387.7,577.7L391.0,572.1L391.5,570.0M566.0,247.5L569.9,245.8L576.4,247.8M566.0,235.7L571.1,237.5L578.0,237.2M578.0,237.2L576.3,242.3L576.4,247.8M566.0,284.4L566.9,285.5M566.0,287.4L566.6,287.1M566.6,287.1L566.9,285.5M663.9,176.8L665.2,178.1L668.8,182.8M668.8,182.8L669.3,183.0M671.3,181.6L669.3,183.0M220.6,737.0L218.2,732.9M219.3,731.1L218.8,731.4M218.8,731.4L218.2,732.9M212.2,727.0L214.4,729.0M212.2,727.0L214.2,722.9M217.6,724.1L214.2,722.9M217.6,724.1L215.7,729.1M215.7,729.1L214.4,729.0M218.8,731.4L215.7,729.1M218.0,724.1L217.6,724.1M220.3,738.3L215.7,739.3M215.7,739.3L215.3,740.0M423.7,679.7L428.7,683.6L433.1,688.2L437.4,692.9M423.7,679.7L420.7,681.7L417.8,684.0M417.8,684.0L418.8,689.5L418.1,695.3L420.2,700.7M437.4,692.9L431.4,694.9L425.6,697.3L420.2,700.7M442.7,693.9L437.4,692.9M426.1,674.2L423.7,679.7M447.8,701.1L445.4,705.9L440.0,708.5L437.7,713.4L434.7,717.9M434.7,717.9L431.4,719.4M419.7,702.1L420.2,700.7M417.8,684.0L413.3,683.8L408.9,682.9M405.1,704.9L403.3,701.3L400.7,698.3M400.7,698.3L402.8,692.8L407.5,688.7L408.9,682.9M396.9,730.5L395.3,731.6M400.7,698.3L396.3,695.9L391.3,695.1M391.3,695.1L387.8,700.6L383.8,705.7M383.8,705.7L387.8,710.1L390.4,715.2L391.5,720.9L393.6,726.2L395.3,731.6M433.3,753.4L427.6,754.9L422.4,757.6L416.9,759.4M433.3,753.4L433.8,748.8L434.6,744.1L433.7,739.4M433.7,739.4L431.6,734.9L430.7,729.8L427.9,725.6M396.7,745.0L395.1,738.4L395.3,731.7M413.6,855.9L415.1,850.1L417.9,844.8M413.6,855.9L417.1,861.6L424.2,863.5L427.3,869.5L432.0,873.8M438.9,870.3L435.5,872.1L432.0,873.8M438.9,870.3L438.2,864.5L438.7,858.6L435.4,853.3L435.4,847.4M435.4,847.4L431.3,843.0L426.2,839.7M426.2,839.7L422.1,842.3L417.9,844.8M401.4,864.4L405.1,861.9L408.9,858.3L413.6,855.9M390.7,831.6L395.3,836.0L402.3,835.3L408.0,837.5L412.9,841.2L417.9,844.8M425.3,884.7L428.6,879.2L432.0,873.8M439.5,870.4L438.9,870.3M455.5,846.5L448.8,847.3L442.0,846.0L435.4,847.4M461.1,859.3L457.3,853.3L455.5,846.5M454.7,831.6L451.0,828.5L446.6,826.6M454.7,831.6L456.0,835.5L457.7,839.3M457.7,839.3L457.2,843.1L455.5,846.5M428.9,828.7L427.4,834.2L426.2,839.7M422.7,814.5L417.6,810.6M604.2,191.4L601.7,195.8L599.6,200.3L598.7,205.3M604.2,191.4L599.5,187.2L593.3,185.7L588.2,182.1M588.2,182.1L585.5,183.2M585.5,183.2L585.2,189.3L584.2,195.4L583.8,201.5M583.8,201.5L588.2,203.6L593.2,204.0L597.8,205.7M597.8,205.7L598.7,205.3M618.7,202.3L616.5,206.0L613.4,209.0M613.4,209.0L608.8,206.5L603.7,206.2L598.7,205.3M604.9,191.1L604.2,191.4M601.1,165.4L597.9,169.6L594.3,173.5L592.8,179.0L588.2,182.1M575.8,171.5L578.5,175.6L581.0,181.2M581.0,181.2L585.5,183.2M614.3,214.4L613.4,209.0M597.1,215.6L600.4,218.7L604.4,221.0M597.1,215.6L597.4,210.6L597.8,205.7M604.4,221.0L608.8,216.9L614.3,214.4M570.7,205.8L566.0,203.9M570.7,205.8L575.9,204.0M575.9,204.0L574.0,198.0L569.9,193.1L567.3,187.5M567.3,187.5L566.0,187.2M566.0,219.9L567.0,217.1L570.1,211.9L570.7,205.8M580.8,203.8L583.8,201.5M580.8,203.8L575.9,204.0M581.0,181.2L576.3,183.1L572.1,185.8L567.3,187.5M638.7,190.3L645.4,191.5L651.3,194.7M638.7,190.3L639.3,185.2L641.2,180.3M647.6,178.1L650.5,181.8L652.9,185.8M647.6,178.1L641.2,180.3M652.9,185.8L652.3,190.3L651.3,194.7M634.8,193.2L638.7,190.3M632.5,174.7L636.8,177.5L641.2,180.3M649.9,174.2L647.6,178.1M668.8,182.8L663.4,183.2L658.3,185.4L652.9,185.8M566.0,222.9L569.5,223.2L573.7,224.7M578.0,237.2L579.2,235.7M579.2,235.7L577.0,229.9L573.7,224.7M597.1,215.6L593.0,218.7L589.7,222.6M580.8,203.8L581.1,208.9L583.3,213.7L582.7,218.9M589.7,222.6L586.1,221.0L582.7,218.9M573.7,224.7L578.1,221.6L582.7,218.9M589.7,222.6L591.0,226.8L592.0,231.1M604.4,231.8L603.8,226.4L604.4,221.0M604.4,231.8L600.0,234.6M600.0,234.6L596.0,232.8L592.0,231.1M579.2,235.7L585.3,235.1M592.0,231.1L588.5,232.8L585.3,235.1M566.0,263.2L566.1,263.2L571.8,265.4M576.4,247.8L579.4,250.9L582.1,254.2M582.1,254.2L577.8,257.1L575.6,261.9L571.8,265.4M633.3,639.0L638.1,643.0L644.4,644.3L648.6,646.2M803.7,311.4L805.2,305.4L804.4,299.0L806.5,293.1M803.7,311.4L808.9,314.9L815.0,316.0L820.9,317.3M820.9,317.3L825.8,314.0M813.6,294.3L810.1,293.6L806.5,293.1M813.6,294.3L817.1,299.7L822.9,303.0L826.8,308.0M826.8,308.0L826.9,312.4M826.9,312.4L825.8,314.0M799.7,313.4L803.7,311.4M802.2,331.8L801.7,325.6L801.1,319.5L799.7,313.4M817.2,326.7L818.4,321.8L820.9,317.3M837.9,331.9L836.9,330.2L834.4,324.1L827.9,320.4L825.8,314.0M820.4,285.4L817.2,288.7L813.6,294.3M798.2,287.0L802.5,289.2L806.5,293.1M836.5,292.3L835.2,293.4L833.9,299.3L831.4,304.5L826.8,308.0M847.6,315.1L840.8,313.4L833.8,313.8L826.9,312.4M566.0,366.7L566.5,366.3L573.0,363.6L579.6,361.4M579.6,361.4L584.1,366.1L587.2,370.0M492.8,872.3L498.3,872.8M492.8,872.3L493.2,867.2L492.3,862.2L492.2,857.1M498.3,872.8L499.6,868.2L501.6,863.8L502.7,859.2M492.2,857.1L495.5,854.5M495.5,854.5L499.9,855.7M499.9,855.7L502.7,859.2M480.5,858.3L486.3,857.5L492.2,857.1M486.8,875.7L492.8,872.3M507.0,850.3L506.9,846.7L507.9,843.2M503.7,840.6L507.9,843.2M507.0,850.3L503.2,852.7L499.9,855.7M493.2,844.1L498.6,842.6L503.7,840.6M493.2,844.1L494.3,849.3L495.5,854.5M640.6,886.1L635.4,889.8L631.2,894.5M631.2,894.5L630.7,900.8L630.6,901.0M640.6,886.1L645.4,889.2L647.1,891.8M505.7,811.8L502.0,809.8M505.7,811.8L509.8,806.6L514.0,801.4M502.0,809.8L504.3,803.5L504.3,796.7M514.0,801.4L510.4,796.7M510.4,796.7L507.3,795.0M507.3,795.0L504.3,796.7M451.3,811.0L457.1,811.6L462.9,811.6M454.7,831.6L458.5,826.8L463.4,823.2L467.4,818.6M462.9,811.6L464.7,815.4L467.4,818.6M507.8,814.3L505.7,811.8M502.0,809.8L497.9,810.3M507.8,814.4L504.4,820.3L501.6,826.5M501.6,826.5L498.5,823.8L496.0,820.5M496.0,820.5L497.6,815.5L497.9,810.3M445.6,761.0L444.0,766.8L441.3,772.3L439.7,778.1L439.1,784.2M445.6,761.0L449.2,760.9L452.7,760.0M452.7,760.0L456.0,762.2L459.7,763.6M460.9,780.7L458.1,785.2L453.4,787.6L449.9,791.3M460.9,780.7L461.4,774.2L462.9,767.9M462.9,767.9L459.7,763.6M439.1,784.2L443.0,788.1L447.3,791.7M447.3,791.7L449.9,791.3M436.8,784.5L439.1,784.2M433.3,753.4L437.0,756.6L441.0,759.3L445.6,761.0M445.2,804.0L445.7,797.8L447.3,791.7M456.8,734.1L455.8,730.1L454.4,726.2M456.8,734.1L461.1,738.1M461.1,738.1L466.9,737.2L472.7,736.4M454.4,726.2L456.6,721.9L458.7,717.6L461.9,713.9M472.7,736.4L475.0,731.0L477.4,725.5L479.1,719.8M461.9,713.9L467.5,715.6L473.2,717.1L478.9,718.3M478.9,718.3L479.1,719.8M433.7,739.4L439.0,736.2L445.0,735.9L450.9,734.8L456.8,734.1M434.7,717.9L440.2,718.6L444.5,722.1L450.0,722.8L454.4,726.2M452.7,760.0L453.5,754.0L457.1,749.1L457.7,743.1L461.1,738.1M480.0,750.6L474.7,753.5L469.4,756.5L463.7,758.7L459.7,763.6M477.7,742.0L478.2,746.5L480.0,750.6M477.7,742.0L475.5,738.9L472.7,736.4M454.4,701.6L457.5,705.3L459.7,709.6L461.9,713.9M456.8,663.4L462.4,661.7L468.0,660.0L472.7,656.2M474.2,639.2L470.0,637.5L465.6,637.1M474.2,639.2L475.4,643.8M472.7,656.2L474.0,650.0L475.4,643.8M420.3,618.8L423.8,618.0M420.3,618.8L419.3,625.0L418.5,631.3M423.8,618.0L429.3,620.7L434.2,624.6M418.5,631.3L423.3,633.0L427.9,635.3L432.9,636.6M432.9,636.6L434.5,630.7L434.2,624.6M418.8,618.0L420.3,618.8M434.6,601.3L430.7,606.7L428.4,613.1L423.8,618.0M433.0,595.9L434.6,601.3M418.1,631.6L418.5,631.3M415.8,648.3L419.2,651.1M436.3,643.3L434.6,640.0L432.9,636.6M438.2,622.2L442.9,623.7L447.7,624.8L452.4,626.5M438.2,622.2L439.9,617.5L440.9,612.7L441.0,607.7M452.4,626.5L453.3,621.4L454.7,616.4L455.6,611.3M441.0,607.7L445.9,608.8L450.7,610.1L455.6,611.3M434.2,624.6L438.2,622.2M434.6,601.3L437.5,604.7L441.0,607.7M466.0,604.9L461.3,609.0L455.6,611.3M484.3,619.4L480.2,623.6L479.9,629.7L475.4,633.6L474.2,639.2M196.1,587.7L190.3,586.6L185.0,583.7L179.0,583.7L173.5,581.4M169.2,606.4L172.3,609.1L176.4,614.6M197.7,596.4L196.4,592.1L196.1,587.7M197.7,596.4L197.3,601.1L196.0,605.6M196.0,605.6L191.6,609.0L187.0,611.8L181.7,613.3L176.4,614.6M175.4,645.9L176.9,639.3L178.6,632.8M172.7,620.9L174.9,620.4M178.6,632.8L175.7,626.9L174.9,620.4M174.9,620.4L176.4,614.6M197.7,596.4L204.5,595.8L211.3,596.0L218.1,594.9M218.1,594.9L219.0,600.0L222.2,604.3L223.2,609.4M196.0,605.6L200.4,610.1L204.9,614.6M223.2,609.4L216.8,610.4L211.0,612.9L204.9,614.6M227.1,588.6L222.9,592.2L218.1,594.9M227.1,588.6L231.4,592.6L235.6,596.8L240.5,600.2M240.5,600.2L235.9,605.4L230.9,610.3M223.2,609.4L227.0,609.9L230.9,610.3M178.6,632.8L184.8,634.2L191.0,635.1L197.4,633.5L203.8,632.9L209.9,635.2M204.9,614.6L206.8,619.6L208.7,624.6L206.9,630.5L209.9,635.2M203.1,650.6L205.2,645.5L208.6,641.0L210.2,635.7M210.2,635.7L209.9,635.2M226.5,568.1L228.8,562.5L230.0,556.3L230.0,556.3M223.2,569.4L226.5,568.1M223.2,569.4L218.0,567.5L212.4,567.8L207.2,566.1M211.8,550.0L211.7,553.8L209.4,559.9L207.2,566.1M227.1,588.6L224.6,582.4L225.9,575.5L223.2,569.4M196.1,587.7L199.8,582.8L203.0,577.6L203.2,571.0L207.0,566.1M386.2,585.6L380.8,586.0L375.6,584.2L370.3,583.8M370.3,583.8L365.4,581.2L360.7,578.4L356.4,575.0M357.4,570.0L355.7,573.6M356.4,575.0L355.7,573.6M384.7,601.6L380.6,604.0L376.2,605.7L371.7,607.3M370.9,622.5L368.8,618.2M368.8,618.2L370.7,612.9L371.7,607.3M370.3,583.8L366.3,589.0L366.7,596.1L362.7,601.4M371.7,607.3L367.1,604.5L362.7,601.4M348.1,595.0L348.5,589.3L350.9,584.5L352.6,579.3L356.4,575.0M348.1,595.0L352.0,598.9L355.9,602.7M362.7,601.4L355.9,602.7M254.0,622.4L253.2,617.4L253.6,612.4M254.0,622.4L259.1,625.9L263.3,630.5M253.6,612.4L259.1,611.8L264.0,609.9L267.9,605.3L273.2,604.6M273.2,604.6L272.1,609.5L273.1,614.4L272.4,619.3M263.3,630.5L263.6,630.4M272.4,619.3L270.0,623.4L265.8,626.1L263.6,630.4M244.2,738.0L244.3,735.8M236.8,730.9L240.2,732.5L243.6,734.1M244.3,735.8L243.6,734.1M238.1,727.1L241.6,725.1L245.6,724.4M243.6,734.1L245.1,729.3L245.6,724.4M233.3,711.2L237.1,706.6M233.3,711.2L235.8,714.4L237.2,718.3M237.1,706.6L241.3,708.5L245.7,709.9M237.6,718.7L237.2,718.3M237.6,718.7L242.5,720.1L247.0,722.3M245.7,709.9L248.2,714.2L251.2,718.2M251.2,718.2L249.1,721.4M247.0,722.3L249.1,721.4M231.0,724.6L234.2,721.6L237.2,718.3M228.9,713.8L230.0,712.0M230.0,712.0L233.3,711.2M228.6,724.2L228.7,724.7M228.6,724.2L228.8,719.0L228.9,713.8M236.5,725.3L237.6,718.7M245.6,724.4L247.0,722.3M264.2,711.7L260.6,715.3M260.6,715.3L256.0,717.3L251.2,718.2M255.4,699.6L252.5,703.4L248.2,705.7L245.7,709.9M255.3,732.0L252.4,726.6L249.1,721.4M255.3,732.0L249.7,733.8L244.3,735.8M191.4,705.2L195.6,702.2L200.7,701.8L205.2,699.8M201.4,718.9L204.4,714.8L207.9,711.3M207.9,711.3L207.8,707.1L208.0,702.9M208.0,702.9L205.2,699.8M203.3,689.6L206.2,696.0M206.2,696.0L205.2,699.8M238.2,694.2L237.1,695.7M238.2,694.2L236.6,688.0L234.2,682.1M237.1,695.7L231.4,695.1L225.7,696.1M234.2,682.1L227.3,682.1L220.3,682.1M225.7,696.1L222.3,692.4L218.2,689.5M220.3,682.1L219.8,685.9L218.2,689.5M239.5,694.0L238.2,694.2M237.1,706.6L236.8,701.2L237.1,695.7M238.0,674.2L241.8,671.4M238.0,674.2L235.8,678.0L234.2,682.1M220.4,706.2L223.2,701.3L225.7,696.1M230.0,712.0L225.3,709.0L220.4,706.2M213.2,668.9L218.6,666.5M213.2,668.9L214.8,673.7L219.0,677.1L220.3,682.1M238.0,674.2L231.1,672.8L225.0,669.3L218.6,666.5M208.0,702.9L213.0,705.2L218.4,706.6M206.2,696.0L211.8,692.0L218.2,689.5M218.4,706.6L220.4,706.2M213.2,668.9L208.6,667.8L204.0,666.9M210.6,715.6L209.6,717.9M210.6,715.6L212.5,716.1M212.5,716.1L214.3,721.8M209.6,717.9L211.8,722.1M211.8,722.1L214.1,722.7M214.1,722.7L214.3,721.8M204.3,721.3L209.6,717.9M207.9,711.3L210.6,715.6M217.2,714.9L218.5,710.8L218.4,706.6M217.2,714.9L212.5,716.1M206.3,723.4L211.8,722.1M206.3,723.4L204.3,721.3M580.9,644.7L577.0,649.3L571.9,652.7M571.9,624.4L567.7,629.4L562.5,633.5L559.7,639.8L554.1,643.6M554.1,643.6L555.3,646.2M571.9,652.7L566.4,650.4L561.3,647.1L555.3,646.2M203.8,736.5L207.4,736.2M208.9,740.0L208.5,736.8M207.4,736.2L208.5,736.8M203.3,730.0L205.4,729.7M207.4,736.2L205.4,729.7M206.3,723.4L207.4,728.0M205.4,729.7L207.4,728.0M212.2,727.0L208.8,728.4M207.4,728.0L208.8,728.4M410.6,664.5L405.4,664.0L401.1,660.6L395.9,660.3M410.6,664.5L408.0,669.4L408.5,675.2L406.3,680.2M406.3,680.2L402.8,678.7L399.0,678.1M399.0,678.1L398.2,672.2L396.4,666.4L395.6,660.5M395.9,660.3L395.6,660.5M405.1,645.6L401.0,649.9L399.6,655.8L395.9,660.3M415.5,662.9L410.6,664.5M408.9,682.9L406.3,680.2M390.6,636.6L387.8,642.6L384.8,648.5M395.6,660.5L394.8,660.4M384.8,648.5L387.3,653.2L391.5,656.4L394.8,660.4M391.3,695.1L388.2,689.7M399.0,678.1L395.8,679.7M388.2,689.7L391.2,684.1L395.8,679.7M395.3,731.7L388.5,729.1L381.3,730.7L374.5,729.2M379.6,766.8L374.9,763.9L370.7,760.1L364.7,759.2L360.7,755.1M374.5,729.2L370.4,733.7L369.5,739.9L364.6,743.9L364.5,750.5L360.7,755.1M296.2,661.7L301.4,661.3L306.7,661.6M300.6,649.9L297.3,650.9M300.6,649.9L304.9,652.6L309.0,655.8M306.7,661.6L309.0,655.8M281.7,681.1L285.2,686.2L290.2,689.9M292.8,670.5L297.9,674.0M297.9,674.0L299.4,678.8L300.4,683.9M300.4,683.9L298.3,686.6M290.2,689.9L293.9,687.5L298.3,686.6M332.0,755.1L337.1,755.3L343.4,756.7M343.4,756.7L342.1,763.7L342.2,764.0M345.4,754.4L350.4,755.9L355.5,755.9L360.7,755.1M377.8,792.4L371.9,790.1L366.7,786.4L361.0,783.6L359.6,783.0M345.4,754.4L343.4,756.7M273.4,738.3L271.7,732.8M261.4,737.8L262.2,736.1M271.7,732.8L268.0,733.6L264.3,734.4M264.3,734.4L262.2,736.1M296.8,732.8L293.3,737.5L292.0,741.2M315.0,740.7L309.6,736.7L303.1,734.9L296.8,732.8M315.0,740.7L315.9,744.9M255.3,732.0L258.4,734.6L262.2,736.1M260.6,715.3L262.2,721.6L262.9,728.0L264.3,734.4M566.9,285.5L571.3,281.0L576.5,277.6M571.8,265.4L574.1,270.0L577.6,273.7M576.5,277.6L577.6,273.7M618.0,648.8L619.2,654.3M594.8,659.1L595.5,655.2L595.1,651.2M594.8,659.1L600.0,661.1L604.8,663.8L609.0,667.4L613.6,670.3M619.2,654.3L616.2,659.2L614.5,664.6L613.6,670.3M589.6,668.0L592.1,663.5L594.8,659.1M598.4,684.4L602.6,684.3L606.7,683.3M606.7,683.3L610.1,679.5L613.9,676.1M589.6,668.0L591.3,674.1L595.6,678.9L598.4,684.4M613.9,676.1L613.6,670.3M661.0,884.2L660.9,884.9L661.1,886.1M640.6,886.1L640.5,883.7M649.8,875.5L645.0,879.0L640.5,883.7M787.8,293.2L791.0,299.3L790.9,306.4L793.6,312.6M787.8,293.2L783.9,298.4L779.0,302.7M779.0,302.7L779.9,307.8L781.6,312.7L782.9,317.7M793.6,312.6L788.6,315.5L783.9,318.8M783.9,318.8L782.9,317.7M799.7,313.4L793.6,312.6M788.4,287.7L787.8,293.2M771.0,304.5L773.6,304.7L779.0,302.7M769.1,312.5L771.9,312.7L776.5,317.5L782.9,317.7M783.7,320.6L783.9,318.8M767.3,329.4L767.1,326.8L764.7,321.1L763.9,315.0M526.5,915.9L525.0,912.4M525.0,912.4L521.2,911.3L517.5,909.9M507.3,918.5L506.8,916.3M517.5,909.9L511.7,912.4L506.8,916.3M498.0,913.9L501.8,913.7M501.8,913.7L506.8,916.3M541.0,912.9L540.3,907.4M552.4,911.7L552.2,908.8L551.6,902.9M540.3,907.4L545.4,905.5L549.6,902.0M549.6,902.0L551.6,902.9M532.5,904.9L528.4,908.3L525.0,912.4M532.5,904.9L536.2,906.6L540.3,907.4M567.6,906.5L567.5,908.5M558.9,901.1L563.5,903.3L567.6,906.5M558.9,901.1L555.1,901.6L551.6,902.9M521.4,855.2L515.9,857.2M514.0,852.8L515.9,857.2M523.1,851.2L520.9,845.8M523.1,851.2L521.4,855.2M514.0,852.8L516.1,849.9L517.4,846.6M520.9,845.8L517.4,846.6M507.0,850.3L510.4,851.9L514.0,852.8M507.9,843.2L511.3,841.9M517.4,846.6L514.7,843.9L511.3,841.9M517.5,909.9L517.3,905.1L516.8,900.2L516.9,895.4M516.9,895.4L518.8,894.3M532.5,904.9L531.5,898.4M531.5,898.4L525.2,896.2L518.8,894.3M544.4,892.2L546.8,897.2L549.6,902.0M544.4,892.2L538.5,891.0M531.5,898.4L535.4,895.1L538.5,891.0M532.6,770.1L531.5,766.5M531.5,766.5L532.2,765.2M532.2,765.2L536.9,764.5L541.6,764.5M541.6,764.5L544.7,769.5M532.6,770.1L536.0,772.1L539.5,773.9M539.5,773.9L544.7,769.5M549.5,775.9L555.4,774.7M546.7,769.7L549.5,775.9M546.7,769.7L551.3,766.8M551.3,766.8L553.4,770.7L555.4,774.7M542.8,745.3L539.4,742.3L535.5,739.7M541.6,748.5L542.8,745.3M533.3,748.6L534.5,750.5M533.3,748.6L532.9,743.3M534.5,750.5L538.2,750.0L541.6,748.5M532.9,743.3L535.5,739.7M501.8,736.1L502.6,732.2L504.4,728.6M501.8,736.1L498.0,740.4M491.0,737.9L489.5,732.5L489.8,726.9M491.0,737.9L494.6,738.9L498.0,740.4M489.8,726.9L496.8,725.9L503.7,727.2M503.7,727.2L504.4,728.6M479.1,719.8L484.7,722.9L489.8,726.9M477.7,742.0L484.6,740.8L491.0,737.9M636.9,763.6L635.0,767.6L632.5,771.1M644.2,763.2L644.1,763.1L636.9,763.6M640.9,781.3L640.6,781.4M632.5,771.1L636.3,776.5L640.6,781.4M597.4,788.7L594.4,794.7M597.4,788.7L596.4,786.0M594.0,794.9L594.4,794.7M594.0,794.9L589.9,791.5L585.0,789.5M596.4,786.0L591.1,786.7L585.9,786.7M585.0,789.5L585.9,786.7M640.5,883.7L639.0,881.9M639.0,881.9L637.3,875.5L637.3,873.2M504.3,796.7L499.9,796.2L495.7,795.0M497.9,810.3L494.4,809.2L490.9,807.8M490.9,807.8L493.5,801.5L495.7,795.0M529.0,845.2L534.6,842.0M529.0,845.2L530.0,848.5L531.2,851.9M534.6,842.0L537.6,845.7M531.2,851.9L532.6,853.3M537.8,849.0L537.6,845.7M537.8,849.0L532.9,853.2M532.6,853.3L532.9,853.2M520.9,845.8L523.8,842.4M523.8,842.4L529.0,845.2M523.1,851.2L527.2,851.4L531.2,851.9M521.4,855.2L524.4,858.0L528.1,859.7M528.1,859.7L530.9,856.9L532.6,853.3M547.0,851.3L548.8,849.9M541.8,842.9L545.4,846.3L548.8,849.9M541.8,842.9L537.6,845.7M547.0,851.3L542.5,849.9L537.8,849.0M560.8,855.8L560.7,849.3M560.8,855.8L555.1,856.3M560.7,849.3L555.4,848.9L550.0,848.9M555.1,856.3L552.0,853.2L549.5,849.6M550.0,848.9L549.5,849.6M564.1,858.9L560.8,855.8M564.0,862.2L564.1,858.9M554.9,866.2L558.5,866.5M564.0,862.2L558.5,866.5M553.8,860.6L554.9,866.2M553.8,860.6L555.1,856.3M553.8,860.6L549.2,859.2L544.7,857.6M548.8,849.9L549.5,849.6M544.7,857.6L547.0,851.3M627.6,702.1L626.0,705.4L623.7,708.3M609.9,688.8L615.1,691.0L617.9,696.6L623.4,698.5L627.6,702.1M609.9,688.8L611.6,694.2L608.1,699.5L610.3,704.9L609.0,710.3M609.0,710.3L613.9,711.1M623.7,708.3L619.0,710.5L613.9,711.1M235.9,629.9L232.9,629.1M235.9,629.9L239.6,635.8L242.7,642.1L247.3,647.5M232.9,629.1L228.8,632.7L223.7,634.5L218.8,636.6M218.8,636.6L221.6,643.0L225.9,648.5L229.4,654.5M247.3,647.5L241.8,650.9L237.8,656.0M237.8,656.0L233.7,654.9L229.4,654.5M242.7,599.9L246.4,604.0L250.1,608.1L253.6,612.4M240.5,600.2L242.7,599.9M254.0,622.4L247.3,623.3L241.9,627.3L235.9,629.9M230.9,610.3L232.5,616.5L230.9,623.0L232.9,629.1M263.3,630.5L261.2,636.0L259.3,641.6L258.6,647.5M258.6,647.5L252.9,648.2L247.3,647.5M210.2,635.7L214.5,635.6L218.8,636.6M218.6,666.5L222.9,663.1L224.8,657.6L229.4,654.5M258.6,647.5L261.2,651.5L264.5,654.9M242.1,669.5L241.0,664.9L239.0,660.6L237.8,656.0M175.0,556.8L178.4,556.9L184.0,556.2L189.6,555.4M189.6,555.4L190.1,550.0M207.0,566.1L202.1,561.1L196.3,557.6L189.6,555.4M354.3,617.6L350.7,618.2L347.1,618.4M354.3,617.6L356.1,615.2M356.1,615.2L354.6,608.7M354.6,608.7L350.2,610.3L345.4,610.3M345.4,610.3L344.7,616.6M347.1,618.4L344.7,616.6M354.3,629.9L353.8,623.8L354.3,617.6M354.3,629.9L351.5,630.2M344.0,625.5L345.8,622.0L347.1,618.4M351.5,630.2L348.1,627.4L344.1,625.7M359.1,633.0L363.7,631.5L368.6,630.7M359.1,633.0L354.3,629.9M368.8,618.2L362.6,616.1L356.1,615.2M355.9,602.7L354.6,608.7M281.8,622.2L283.6,625.5L284.3,629.2M281.8,622.2L277.2,620.6L272.4,619.3M263.6,630.4L268.7,630.5L273.2,633.4L278.2,634.1M284.3,629.2L280.9,631.2L278.2,634.1M268.5,655.1L272.3,650.4L276.9,646.3L280.4,641.3M278.2,634.1L279.1,637.7L280.4,641.3M284.4,655.7L286.2,649.9L286.2,643.7M280.4,641.3L286.2,643.7M293.3,649.5L289.8,647.0L287.3,643.5M286.2,643.7L287.3,643.5M228.6,714.0L223.3,715.0L218.2,716.5M228.6,714.0L225.1,716.7L222.4,720.0M222.4,720.0L221.0,720.6M221.0,720.6L218.2,716.5M228.9,713.8L228.6,714.0M217.2,714.9L218.2,716.5M228.6,724.2L225.8,721.6L222.4,720.0M220.8,721.3L221.0,720.6M214.3,721.8L218.2,716.5M316.3,640.6L315.5,636.5M315.5,636.5L320.1,636.6L324.4,635.2M322.5,645.8L319.5,643.1L316.3,640.6M322.5,645.8L326.6,641.9M324.4,635.2L325.4,638.6L326.6,641.9M335.4,641.1L337.8,643.9L340.2,646.7M335.4,641.1L338.8,639.1L341.5,636.2M340.2,646.7L343.5,644.6L346.9,642.9M346.9,642.9L344.4,636.9M344.4,636.9L341.5,636.2M333.0,641.0L331.1,641.9M333.3,651.3L331.5,646.7L331.1,641.9M339.4,651.1L333.3,651.3M339.4,651.1L340.2,646.7M333.0,641.0L335.4,641.1M332.5,629.5L332.8,635.2L333.0,641.0M339.1,632.1L335.9,630.6L332.5,629.5M339.1,632.1L341.5,636.2M356.1,644.5L352.4,643.6L348.8,643.9M356.1,644.5L357.8,638.8L359.1,633.0M351.5,630.2L348.2,633.9L344.4,636.9M348.8,643.9L346.9,642.9M339.1,632.1L341.1,628.4L344.1,625.7M312.8,611.7L317.2,611.8M312.8,611.7L311.4,615.6L309.8,619.5M309.8,619.5L312.1,622.3L314.9,624.5M314.9,624.5L317.0,619.2L318.5,613.8M318.5,613.8L317.2,611.8M320.0,607.1L317.2,611.8M307.5,607.3L312.8,611.7M307.5,607.3L307.2,605.3M307.2,605.3L309.7,602.7L312.8,601.0M320.0,607.1L319.6,603.3M312.8,601.0L316.1,602.4L319.6,603.3M566.0,343.5L569.5,343.1M566.0,323.4L567.0,329.5L568.9,336.2L569.5,343.1M579.6,361.4L577.7,354.9M577.7,354.9L575.2,350.9L572.3,347.3L569.9,343.2M569.5,343.1L569.9,343.2M607.1,304.2L605.1,300.0L602.0,296.5M607.1,304.2L611.5,302.2L615.5,299.6L618.8,296.0M602.0,296.5L606.3,292.5L608.8,287.1L612.7,282.8M612.7,282.8L616.7,283.4L620.3,285.2M618.8,296.0L620.8,291.6L622.9,287.3M620.3,285.2L622.9,287.3M577.3,338.2L573.9,341.1L569.9,343.2M566.0,322.6L570.3,319.8L575.2,318.2M577.3,338.2L578.0,333.0L580.0,328.1L580.4,322.8M580.4,322.8L575.2,318.2M768.4,289.1L768.4,289.2L766.5,290.0M510.4,631.6L516.1,628.0L522.6,626.0L529.6,625.6L535.1,621.2M510.4,631.6L510.4,637.0M510.4,637.0L512.4,642.2L513.4,647.7L516.5,652.4M535.1,621.2L538.8,627.1L541.2,633.6M516.5,652.4L521.3,654.0L526.3,655.4M526.3,655.4L529.4,649.8L532.8,644.4L537.8,640.2L541.5,635.0M541.2,633.6L541.5,635.0M498.1,620.0L502.2,623.8L507.3,626.7L510.4,631.6M535.3,620.2L535.1,621.2M490.5,647.1L485.7,644.9L480.4,645.3L475.4,643.8M490.5,647.1L495.3,644.2L501.1,643.4L504.8,638.4L510.4,637.0M504.1,662.4L508.7,659.6L511.7,655.0L516.5,652.4M490.5,647.1L496.0,651.4L498.5,658.2L504.1,662.4M568.7,621.7L562.6,622.8L557.0,625.0L551.6,627.4L546.0,629.6L541.2,633.6M554.1,643.6L549.4,641.6L546.1,637.4L541.5,635.0M531.8,663.3L529.5,659.0L526.3,655.4M531.8,663.3L537.2,662.8L542.6,661.7L548.1,661.6M555.3,646.2L552.4,651.1L549.8,656.2L548.1,661.6M209.0,736.3L210.8,731.8M209.0,736.3L214.5,735.8M215.2,734.3L213.1,732.0M215.2,734.3L214.5,735.8M213.1,732.0L210.8,731.8M208.5,736.8L209.0,736.3M208.8,728.4L210.8,731.8M215.7,739.3L214.5,735.8M218.2,732.9L215.2,734.3M214.4,729.0L213.1,732.0M371.2,633.9L371.7,640.7L372.4,647.4M384.8,648.5L380.8,649.8L376.6,649.9M372.4,647.4L376.6,649.9M297.9,674.0L302.0,672.6L306.4,672.2M306.7,661.6L306.9,661.8M306.9,661.8L306.4,667.0L306.4,672.2M322.5,645.8L321.7,649.6M309.6,645.6L312.7,642.7L316.3,640.6M309.6,645.6L310.6,649.2L312.7,652.3M312.7,652.3L315.4,652.4M321.7,649.6L315.4,652.4M306.9,661.8L311.8,663.9M311.8,663.9L315.5,662.7L318.6,660.5M309.0,655.8L312.7,652.3M315.4,652.4L317.3,656.3L318.6,660.5M356.1,644.5L358.1,648.2M372.4,647.4L367.5,649.3L362.4,650.9M358.1,648.2L362.4,650.9M383.8,705.7L378.3,705.7L373.1,703.9M374.5,729.2L371.3,726.2L367.2,724.4M373.1,703.9L370.4,708.7L370.5,714.3L369.1,719.4L367.2,724.4M345.4,754.4L346.3,747.7L344.8,741.3L342.9,734.9M367.2,724.4L362.9,723.2L358.4,723.2M358.4,723.2L354.2,725.4L349.5,726.2M342.9,734.9L346.9,731.0L349.5,726.2M315.0,740.7L318.9,737.3L322.8,733.7L326.6,730.1M342.9,734.9L337.3,733.8L332.4,730.2L326.6,730.1M658.5,674.1L657.6,672.9M619.2,654.3L625.0,655.4L630.4,657.4L632.7,659.7M607.7,780.3L612.5,777.7M607.7,780.3L608.1,785.0M612.5,777.7L617.6,781.2L623.0,784.3M623.0,784.3L618.4,787.1L614.1,790.3M614.1,790.3L611.0,787.8L608.1,785.0M584.4,870.8L580.0,874.4M580.0,874.4L581.3,877.9L581.5,881.6M583.2,883.1L581.5,881.6M592.3,884.9L587.8,883.7L583.2,883.1M592.3,884.9L594.3,880.0L595.6,874.9M584.4,870.8L588.5,869.7M588.5,869.7L592.4,871.7L595.6,874.9M639.0,881.9L634.7,879.1L629.9,877.4L625.1,875.9M625.1,875.9L625.2,870.4L625.8,864.9M630.3,861.1L625.8,864.9M663.1,337.8L666.1,333.6L667.6,328.8L668.7,323.8M663.1,337.8L663.7,338.5M663.7,338.5L670.5,339.2L676.0,337.3M668.7,323.8L674.2,323.0L676.0,323.0M666.3,347.1L672.0,349.2L676.0,353.1M666.3,347.1L662.3,350.5L658.9,354.4L655.4,358.3M665.6,365.3L660.6,363.6L655.8,361.1M665.6,365.3L670.3,361.6L675.7,359.3L676.0,359.3M655.4,358.3L655.8,361.1M663.7,338.5L665.1,342.8L666.3,347.1M653.9,337.0L658.4,338.0L663.1,337.8M653.9,337.0L651.9,341.4L649.6,345.8L647.8,350.4M647.8,350.4L651.5,354.4L655.4,358.3M664.6,370.0L665.6,365.3M650.0,370.0L653.4,366.5L655.8,361.1M628.4,359.1L629.4,352.6M628.4,359.1L634.2,361.6L638.7,366.0M638.7,366.0L640.2,360.5L643.1,355.6L645.2,350.4M629.4,352.6L632.3,348.4M645.2,350.4L639.6,349.7L634.4,347.4M634.4,347.4L632.3,348.4M621.2,365.3L624.7,362.0L628.4,359.1M618.7,370.0L621.2,365.3M642.3,370.0L642.3,369.9L638.7,366.0M647.8,350.4L645.2,350.4M498.3,872.8L502.2,874.9M486.5,881.6L491.6,885.2L496.1,889.7M502.2,874.9L499.2,879.5L497.2,884.4L496.1,889.7M516.9,895.4L512.4,893.7L507.8,892.6M501.8,913.7L503.7,907.3L502.0,900.6L503.0,894.1M507.8,892.6L503.0,894.1M486.2,901.0L490.5,898.7L494.1,895.7L497.4,892.2M503.0,894.1L497.4,892.2M497.4,892.2L496.1,889.7M523.6,837.9L518.4,838.6L513.1,838.4M523.6,837.9L525.0,834.5M524.6,833.8L519.4,830.8L513.9,828.3M524.6,833.8L525.0,834.5M513.1,838.4L511.7,834.3L511.4,830.0M511.4,830.0L513.9,828.3M523.8,842.4L523.6,837.9M511.3,841.9L513.1,838.4M527.9,834.4L531.2,836.9L534.9,838.4M534.9,838.4L534.6,842.0M527.9,834.4L525.0,834.5M503.7,840.6L503.6,835.2L504.0,829.8M504.0,829.8L507.7,830.1L511.4,830.0M507.8,814.4L510.8,819.9L515.1,824.5M504.0,829.8L501.8,828.3M501.8,828.3L501.6,826.5M515.1,824.5L513.9,828.3M631.2,894.5L627.0,891.2L621.6,890.0L617.5,886.8M619.1,901.8L618.5,900.6L615.4,895.7L613.5,890.3M613.5,890.3L617.5,886.8M611.5,863.4L607.4,866.8L602.4,868.7M611.5,863.4L614.0,868.1L613.8,873.5L615.9,878.3M602.4,868.7L601.0,872.3M601.0,872.3L603.6,874.7L606.0,877.3M606.0,877.3L611.1,877.0L615.9,878.3M625.1,875.9L621.5,877.7L618.3,880.0M617.5,886.8L618.3,880.0M612.4,861.9L619.0,863.8L625.8,864.9M611.5,863.4L612.4,861.9M615.9,878.3L618.3,880.0M587.6,898.0L590.2,903.3M587.6,898.0L591.3,893.7L594.8,889.2M591.6,903.3L594.9,902.6L599.4,903.2M600.0,903.2L604.3,901.8M594.8,889.2L598.7,891.0L602.8,891.8M604.3,901.8L604.0,897.3L604.2,892.8M604.2,892.8L602.8,891.8M592.3,884.9L594.8,889.2M595.6,874.9L601.0,872.3M606.0,877.3L604.5,882.0L605.1,887.2L602.8,891.8M613.5,890.3L608.7,890.9L604.2,892.8M604.9,902.8L604.3,901.8M574.5,903.9L578.0,900.4L582.2,897.9M574.5,903.9L573.6,898.6L571.2,893.7M571.2,893.7L572.5,890.1M572.5,890.1L576.4,890.6L579.9,892.2M579.9,892.2L582.2,897.9M567.6,906.5L574.0,904.8M558.9,901.1L561.2,894.7M561.2,894.7L566.2,894.5L571.2,893.7M574.0,904.8L574.5,903.9M561.2,894.7L561.1,893.6M561.1,893.6L565.8,889.9L569.3,885.1M570.3,884.9L569.3,885.1M571.0,885.3L572.5,890.1M571.0,885.3L570.3,884.9M581.5,881.6L576.6,884.3L571.0,885.3M583.2,883.1L581.5,887.6L579.9,892.2M587.6,898.0L582.2,897.9M574.0,904.8L574.9,905.7M574.4,680.5L575.3,674.1L576.1,667.6M574.4,680.5L573.2,681.4M573.2,681.4L568.6,680.3L564.1,678.7L560.2,675.9M576.1,667.6L572.0,662.9M572.0,662.9L566.8,664.8L561.6,666.7L556.7,669.4M556.7,669.4L558.4,672.7L560.2,675.9M598.4,684.4L593.9,688.6M593.9,688.6L588.3,688.2L584.0,684.9L579.3,682.3L574.4,680.5M589.6,668.0L582.9,666.6L576.1,667.6M592.2,693.1L591.4,693.7M593.9,688.6L592.2,693.1M591.4,693.7L586.0,694.8L580.5,693.4L575.1,693.7L569.6,694.3M569.6,694.3L568.0,690.7M568.0,690.7L571.2,686.5L573.2,681.4M568.0,690.7L563.1,690.0L558.3,689.2M558.3,689.2L558.9,682.5L560.2,675.9M571.9,652.7L571.2,657.8L572.0,662.9M548.1,661.6L552.0,665.0L555.2,669.1M555.2,669.1L556.7,669.4M556.0,689.8L550.9,686.7L545.7,683.6M556.0,689.8L558.3,689.2M545.7,683.6L548.1,678.3L551.1,673.3L555.2,669.1M557.1,706.0L560.9,707.7M557.1,706.0L552.6,709.3L547.6,711.7M547.6,711.7L548.0,716.5M548.0,716.5L552.4,716.2L556.7,716.8M560.9,707.7L558.4,712.1L556.7,716.8M609.9,688.8L606.7,683.3M592.2,693.1L595.1,697.5L597.9,701.9L600.4,706.5M609.0,710.3L608.2,710.5M600.4,706.5L604.1,708.9L608.2,710.5M539.5,773.9L539.6,778.0M546.7,769.7L544.7,769.5M549.5,775.9L549.2,777.6M549.2,777.6L545.7,778.7L542.2,779.5M539.6,778.0L542.2,779.5M541.6,748.5L543.5,753.0M534.5,755.9L538.8,756.3L542.9,757.5M534.5,755.9L534.5,750.5M543.5,753.0L542.9,757.5M532.2,765.2L532.3,761.6L532.0,758.0M532.0,758.0L534.5,755.9M541.6,764.5L542.0,760.9L543.0,757.5M520.7,791.6L515.4,793.9L510.4,796.7M520.7,791.6L517.6,789.1L515.2,786.0M507.3,795.0L507.9,789.3M507.9,789.3L511.5,786.5M515.2,786.0L511.5,786.5M533.3,748.6L529.1,750.3L524.6,750.7M532.0,758.0L528.5,756.4L524.7,755.9M524.7,755.9L524.6,750.7M531.5,766.5L526.3,765.9L521.1,766.5M521.1,766.5L522.7,761.5L524.0,756.3M524.7,755.9L524.0,756.3M484.6,754.4L481.8,760.8L477.9,766.4L473.1,771.4M484.6,754.4L488.0,755.8M488.0,755.8L489.2,761.7L491.8,767.1M491.8,767.1L486.3,769.5L480.9,772.3L474.7,772.7M474.7,772.7L473.1,771.4M462.9,767.9L467.7,770.4L473.1,771.4M480.0,750.6L484.6,754.4M498.5,749.4L492.7,751.7L488.0,755.8M498.5,749.4L497.6,745.0L498.0,740.4M475.6,775.1L472.6,781.4L471.1,788.3M475.6,775.1L474.7,772.7M471.1,788.3L465.8,784.7L460.9,780.7M493.4,692.6L488.4,692.6L483.4,693.7M482.4,712.7L483.4,706.4L481.6,700.0L483.4,693.7M493.4,692.6L498.4,695.1L501.2,700.3L506.1,702.9M482.4,712.7L488.8,712.2L494.8,715.6L501.2,715.0M501.2,715.0L503.1,708.7L506.1,702.9M503.7,727.2L504.2,720.4M478.9,718.3L482.4,712.7M501.2,715.0L504.2,720.4M520.1,725.0L518.0,728.1L516.6,731.6M520.1,725.0L517.5,721.0L516.2,716.4M516.6,731.6L510.3,731.1L504.4,728.6M504.2,720.4L510.2,718.4L516.2,716.4M628.9,790.3L634.2,790.6M628.9,790.3L626.6,793.7L625.3,797.7M625.3,797.7L627.9,803.4L631.4,808.6M638.6,794.6L637.4,799.1L636.9,803.8L636.2,805.4M638.6,794.6L634.2,790.6M631.4,808.6L632.7,808.5M632.5,771.1L627.9,773.5M627.9,773.5L625.7,778.9L623.7,784.3M623.7,784.3L626.2,787.4L628.9,790.3M640.6,781.4L637.0,785.7L634.2,790.6M645.9,797.1L644.3,797.6L638.6,794.6M613.1,773.0L617.2,770.7L621.8,769.8M613.1,773.0L610.9,769.6L608.6,766.2M621.8,769.8L620.4,765.3L618.8,760.8M608.6,766.2L609.7,762.8M609.7,762.8L612.8,760.7L616.3,759.2M616.3,759.2L618.8,760.8M612.5,777.7L613.1,773.0M623.0,784.3L623.7,784.3M627.9,773.5L625.1,771.2L621.8,769.8M636.9,763.6L634.8,758.6M634.8,758.6L629.5,759.8L624.3,761.0L618.8,760.8M602.2,756.1L606.5,758.9L609.7,762.8M604.8,748.5L603.0,752.1L602.2,756.1M616.4,755.7L610.2,752.8L604.8,748.5M616.4,755.7L616.3,759.2M586.9,731.9L589.1,728.9M597.8,728.4L593.5,729.0L589.1,728.9M597.8,728.4L596.4,733.7L596.0,739.2M586.9,731.9L586.6,735.6L586.3,739.4M596.0,739.2L591.2,739.9L586.3,739.4M586.9,731.9L582.6,731.2L578.5,729.5M576.5,732.7L578.5,729.5M576.5,732.7L581.0,736.3L585.0,740.4M586.3,739.4L585.0,740.4M596.9,783.4L594.6,779.1M596.9,783.4L601.3,781.4L605.7,779.7M594.6,779.1L598.2,775.8L602.2,773.1M605.7,779.7L604.3,776.2L602.2,773.1M608.1,785.0L606.0,788.1L603.1,790.5M597.4,788.7L603.1,790.5M607.7,780.3L605.7,779.7M596.4,786.0L596.9,783.4M560.7,849.3L561.4,848.6M570.6,853.8L567.0,855.9L564.1,858.9M570.6,853.8L567.9,849.6M567.9,849.6L561.4,848.6M589.9,818.1L590.9,814.7L591.6,811.2M589.9,818.1L595.1,818.3L600.2,819.6M600.2,819.6L600.5,815.9M600.5,815.9L595.7,810.9M591.6,811.2L595.7,810.9M588.8,778.9L584.7,783.7M588.8,778.9L586.1,776.5L583.3,774.1M584.7,783.7L579.1,780.4M583.3,774.1L579.0,777.8M579.0,777.8L579.1,780.4M592.8,777.5L594.6,779.1M592.8,777.5L588.8,778.9M585.9,786.7L584.7,783.7M592.0,769.4L593.0,773.4L592.8,777.5M585.2,769.7L592.0,769.4M585.2,769.7L583.3,774.1M514.1,812.8L518.1,808.1M507.8,814.3L514.1,812.8M514.0,801.4L516.6,802.4M518.1,808.1L516.6,802.4M522.2,792.0L521.6,795.9L521.2,799.9M520.7,791.6L522.2,792.0M516.6,802.4L521.2,799.9M470.9,819.7L474.4,818.6M470.9,819.7L473.4,825.1L472.2,831.2L474.5,836.7M474.4,818.6L478.2,822.0L482.9,824.2L486.8,827.5M479.5,839.5L474.5,836.7M479.5,839.5L483.2,839.0L486.5,837.4M486.8,827.5L488.0,834.3M486.5,837.4L488.0,834.3M467.4,818.6L470.9,819.7M457.7,839.3L463.4,838.9L468.9,837.9L474.5,836.7M475.5,855.0L477.1,849.9L478.9,844.8L479.5,839.5M493.2,844.1L490.1,840.5L486.5,837.4M496.0,820.5L489.4,821.5M489.4,821.5L486.8,827.5M501.8,828.3L497.7,831.4L492.8,832.8L488.0,834.3M485.4,808.8L482.1,804.7L480.4,799.8L478.5,795.0M485.4,808.8L485.1,809.3M485.1,809.3L482.4,811.1M482.4,811.1L476.9,808.6L470.8,807.6L466.0,803.8M478.5,795.0L473.1,794.3M473.1,794.3L469.7,795.9L466.9,798.4M466.9,798.4L466.0,803.8M490.9,807.8L485.4,808.8M489.4,821.5L487.9,815.1L485.1,809.3M474.4,818.6L479.0,815.5L482.4,811.1M462.9,811.6L464.4,807.7L466.0,803.8M449.9,791.3L455.6,793.4L461.5,795.4L466.9,798.4M471.1,788.3L473.1,794.3M544.4,892.2L547.7,888.2M561.1,893.6L558.9,889.8L556.8,885.9M547.7,888.2L552.3,887.3L556.8,885.9M537.0,827.4L538.6,831.6L539.5,836.0M537.0,827.4L541.5,827.7L546.0,827.9M546.0,827.9L544.2,832.3L543.3,836.9M539.5,836.0L542.9,837.0M542.9,837.0L543.3,836.9M536.3,826.8L537.0,827.4M536.3,826.8L532.4,830.9L527.9,834.4M534.9,838.4L539.5,836.0M541.8,842.9L542.9,837.0M550.5,846.8L550.0,848.9M550.5,846.8L549.4,842.2L547.3,838.1M547.3,838.1L543.3,836.9M586.8,711.5L581.9,713.1L577.8,716.1M586.8,711.5L589.6,714.4M589.6,714.4L589.9,716.0M589.9,716.0L587.7,719.6L584.6,722.4M584.6,722.4L579.0,723.2M577.8,716.1L578.7,722.9M578.7,722.9L579.0,723.2M600.4,706.5L595.4,711.0L589.6,714.4M584.1,704.8L585.5,708.1L586.8,711.5M591.4,693.7L588.2,699.5L584.1,704.8M589.1,728.9L586.5,725.9L584.6,722.4M578.5,729.5L579.0,723.2M573.9,733.7L576.5,732.7M570.5,728.4L573.3,722.8M573.3,722.8L578.7,722.9M573.9,733.7L570.5,728.4M616.4,755.7L619.5,751.7L621.1,746.8M604.5,744.7L607.6,742.5L610.7,740.1M604.8,748.5L604.5,744.7M621.1,746.8L615.8,743.6L610.7,740.1M475.9,689.0L479.7,690.6M475.9,689.0L475.4,682.8L476.6,676.5L474.3,670.4L475.8,664.1L474.0,658.0M479.7,690.6L483.6,685.2L487.3,679.7L488.1,672.7L492.2,667.4M474.0,658.0L480.5,660.3L485.7,665.0L492.2,667.4M469.4,689.5L475.9,689.0M483.4,693.7L479.7,690.6M472.7,656.2L474.0,658.0M493.4,692.6L497.3,687.4L502.6,683.7L506.7,678.7M506.7,678.7L505.3,672.2L502.1,666.4M502.1,666.4L497.2,666.9L492.2,667.4M504.1,662.4L502.1,666.4M345.4,610.3L339.5,606.7M344.6,595.9L342.2,598.9L339.4,601.5M348.1,595.0L344.6,595.9M339.5,606.7L339.4,601.5M344.9,570.0L346.1,571.6M325.2,570.0L324.9,574.7L325.4,581.1M346.1,571.6L342.4,575.0L338.3,578.0L335.2,582.1M335.2,582.1L331.8,582.9L328.3,582.9M325.4,581.1L328.3,582.9M355.7,573.6L350.9,572.6L346.1,571.6M339.1,591.5L337.6,586.6L335.2,582.1M344.6,595.9L341.6,594.0L339.1,591.5M312.7,588.0L311.9,594.5L312.8,601.0M312.7,588.0L312.3,587.3M304.0,603.0L300.8,598.9L298.9,594.2M307.2,605.3L304.0,603.0M298.9,594.2L303.7,592.5L308.1,590.1L312.3,587.3M332.4,629.3L326.6,626.9M332.4,629.3L335.4,625.7L339.3,623.0M328.1,618.1L330.9,615.2M328.1,618.1L327.1,622.1L325.9,626.0M325.9,626.0L326.6,626.9M339.3,623.0L337.2,616.9M330.9,615.2L334.4,614.7M337.2,616.9L334.4,614.7M324.4,635.2L325.6,631.1L326.6,626.9M326.6,641.9L331.1,641.9M344.0,625.5L339.3,623.0M320.0,607.1L323.9,609.0L328.2,609.8M328.2,609.8L330.9,615.2M318.5,613.8L323.5,615.5L328.1,618.1M315.6,625.8L314.9,624.5M315.6,625.8L320.7,625.8L325.9,626.0M344.7,616.6L341.0,617.0L337.2,616.9M339.5,606.7L337.1,610.8L334.4,614.7M315.5,636.5L315.3,636.3M315.6,625.8L315.3,626.2M315.3,636.3L316.2,631.2L315.3,626.2M323.5,599.6L322.4,594.7M323.5,599.6L329.5,601.2M329.5,601.2L331.3,600.5M331.3,600.5L331.4,596.3L330.7,592.1M322.4,594.7L325.5,592.6L328.5,590.3M328.5,590.3L330.7,592.1M312.7,588.0L317.0,592.2L322.4,594.7M319.6,603.3L323.5,599.6M328.2,609.8L329.3,605.6L329.5,601.2M339.4,601.5L335.4,601.0L331.3,600.5M339.1,591.5L335.0,592.5L330.7,592.1M312.3,587.3L312.5,586.1M325.4,581.1L319.0,583.6L312.5,586.1M328.3,582.9L328.0,586.6L328.5,590.3M586.3,305.9L580.7,307.3L574.9,308.3M586.3,305.9L588.9,300.4L590.8,294.7M590.8,294.7L589.3,292.3M573.3,293.1L580.1,293.2L586.7,291.5M573.3,293.1L572.5,299.7L571.3,306.2M589.3,292.3L586.7,291.5M571.3,306.2L574.9,308.3M580.4,322.8L586.1,319.5L592.5,318.3M575.2,318.2L575.2,313.2L574.9,308.3M592.5,318.3L592.8,317.0M592.8,317.0L588.9,311.9L586.3,305.9M602.0,296.5L596.4,295.5L590.8,294.7M607.3,310.0L602.3,312.0L597.9,315.2L592.8,317.0M608.2,308.6L607.3,310.0M608.2,308.6L607.1,304.2M607.5,274.4L610.4,278.4L612.7,282.8M607.5,274.4L600.6,275.0L594.0,277.3M594.0,277.3L593.1,282.5L590.0,287.1L589.3,292.3M576.5,277.6L579.6,282.4L583.7,286.6L586.7,291.5M566.6,287.1L569.9,290.3L573.3,293.1M566.0,307.3L571.3,306.2M594.0,277.3L591.3,274.8L588.6,272.4M577.6,273.7L583.2,273.7L588.6,272.4M643.4,320.0L640.2,322.5L636.6,324.2M643.4,320.0L646.4,323.2L650.2,325.5M650.6,333.2L650.0,329.4L650.2,325.5M650.6,333.2L644.5,335.5L638.0,335.7M636.6,324.2L635.7,327.8L634.8,331.4M638.0,335.7L634.8,331.4M653.9,337.0L650.6,333.2M662.1,317.2L658.3,320.2L654.7,323.5L650.2,325.5M662.1,317.2L664.9,321.0L668.7,323.8M634.4,347.4L636.5,341.7L638.0,335.7M661.7,313.2L662.1,317.2M661.7,313.2L656.7,308.4L650.8,304.6M643.4,320.0L642.7,314.5L642.4,308.9M642.4,308.9L646.9,307.5L650.8,304.6M611.2,231.8L614.7,235.0L617.2,238.9M611.2,231.8L615.7,227.2L620.0,222.4M617.2,238.9L623.4,238.3L629.5,238.5M629.5,238.5L626.5,233.0L623.3,227.6L620.0,222.4M614.3,214.4L616.9,218.1L620.2,221.3M632.7,203.8L633.9,205.6M633.9,205.6L632.3,212.2L629.2,218.4M629.2,218.4L624.8,220.2L620.2,221.3M604.4,231.8L611.2,231.8M620.2,221.3L620.0,222.4M676.0,224.7L673.7,224.6M673.7,224.6L672.1,219.2L669.1,214.5M676.0,202.8L673.8,202.6M669.1,214.5L670.8,208.3L673.8,202.6M669.3,183.0L668.3,189.9L666.7,196.7M666.7,196.7L670.6,199.2L673.8,202.6M651.3,194.7L652.9,197.9L654.7,201.0M666.7,196.7L660.9,199.3L654.7,201.0M553.0,699.1L549.0,699.0L545.1,700.1M553.0,699.1L555.3,702.4L557.1,706.0M547.6,711.7L546.4,710.8M545.1,700.1L545.2,705.5L546.4,710.8M548.0,716.5L546.0,721.0M546.0,721.0L541.9,722.8M537.0,718.1L541.9,722.8M537.0,718.1L538.0,714.0L538.2,709.8M546.4,710.8L542.3,710.2L538.2,709.8M531.8,663.3L531.6,667.0L530.8,670.7M506.7,678.7L511.3,680.1L515.6,682.0M515.6,682.0L520.0,677.3L526.1,675.0L530.8,670.7M367.9,696.0L370.6,699.9L373.1,703.9M388.2,689.7L382.9,687.7L377.6,685.6M367.9,696.0L371.8,690.2L377.3,685.7M395.8,679.7L391.6,676.1L386.8,673.4L382.1,670.6M377.6,685.6L377.9,680.3L380.2,675.5L382.1,670.6M394.8,660.4L391.1,664.0L386.6,666.5L381.9,668.6M376.6,649.9L375.6,654.8L376.9,660.0L375.4,664.9M375.4,664.9L378.3,667.3L381.9,668.6M381.9,668.6L382.1,670.6M300.4,683.9L304.5,683.8L308.4,682.3M306.4,672.2L309.0,674.5M308.4,682.3L308.5,678.4L309.0,674.5M311.8,663.9L315.2,667.9L318.9,671.7M309.0,674.5L313.7,672.3L318.9,671.7M308.4,682.3L310.4,683.8M310.4,683.8L313.8,682.0L317.5,680.9M317.5,680.9L318.4,677.2L319.9,673.6M318.9,671.7L319.9,673.6M318.6,660.5L321.4,662.2M318.9,671.7L321.5,668.4M321.4,662.2L321.5,668.4M358.1,648.2L354.1,652.9L348.7,656.0M348.8,643.9L347.7,648.8L345.7,653.4M348.7,656.0L345.7,653.4M339.4,651.1L340.3,652.1M345.7,653.4L340.3,652.1M294.2,705.3L294.4,711.5L295.1,717.7L293.3,723.8M294.2,705.3L292.2,702.2L289.7,699.4M280.3,701.0L278.8,706.4L276.2,711.6L276.3,717.4M280.3,701.0L285.1,701.0L289.7,699.4M293.3,723.8L287.7,723.8L282.1,723.2M276.3,717.4L279.6,719.9L282.1,723.2M273.9,698.7L280.3,701.0M264.2,711.7L269.9,715.3L276.3,717.4M290.2,689.9L290.1,694.7L289.7,699.4M271.7,732.8L275.5,729.9L278.8,726.5L282.1,723.2M296.8,732.8L295.0,729.1L294.5,724.9M294.5,724.9L293.3,723.8M316.3,716.3L314.8,710.3L310.8,705.4L309.8,699.3M316.3,716.3L320.9,717.4M320.9,717.4L325.8,714.0L329.3,709.2M329.3,709.2L328.2,703.8L324.6,699.5L323.0,694.3M323.0,694.3L322.6,694.1M322.6,694.1L318.2,694.4L313.9,695.4M313.9,695.4L310.1,698.7M310.1,698.7L309.8,699.3M294.2,705.3L299.3,703.0L304.3,700.5L309.8,699.3M294.5,724.9L299.5,721.6L305.3,720.4L310.4,717.2L316.3,716.3M326.6,730.1L324.5,723.4L320.9,717.4M349.5,726.2L346.4,720.0L342.0,714.6L338.7,708.5M338.7,708.5L334.1,709.7L329.3,709.2M322.4,686.6L322.2,690.4L322.6,694.1M322.4,686.6L320.3,683.4L317.5,680.9M310.4,683.8L313.0,689.3L313.9,695.4M298.3,686.6L301.9,691.0L306.7,694.1L310.1,698.7M602.1,261.3L604.5,255.4L605.3,249.0M602.1,261.3L596.2,260.6L590.3,260.4M590.3,260.4L587.7,257.6L585.6,254.4M600.4,244.4L594.4,246.4L589.2,250.1M600.4,244.4L605.3,249.0M589.2,250.1L585.6,254.4M618.1,263.0L616.0,258.5L615.4,253.3L612.4,249.1M608.4,269.9L605.2,265.7L602.1,261.3M608.4,269.9L612.7,265.8L618.1,263.0M612.3,249.0L605.3,249.0M607.5,274.4L608.4,269.9M588.6,272.4L589.9,266.5L590.3,260.4M582.1,254.2L585.6,254.4M585.3,235.1L586.1,240.2L587.4,245.2L589.2,250.1M600.0,234.6L600.5,239.5L600.4,244.4M617.2,238.9L615.3,244.2L612.3,249.0M631.4,701.2L629.5,701.1M650.0,692.7L648.9,691.9L645.3,687.3L641.3,683.1L636.5,679.8M629.5,701.1L630.2,695.8L632.7,691.1L633.4,685.8L634.8,680.7M634.8,680.7L636.5,679.8M639.7,674.8L639.1,675.5L636.5,679.8M613.9,676.1L619.2,676.8L624.1,679.5L629.8,678.6L634.8,680.7M627.6,702.1L629.5,701.1M614.1,790.3L612.4,795.2M625.3,797.7L620.1,799.8M612.4,795.2L616.0,797.9L620.1,799.8M584.4,870.8L583.0,867.2L580.9,864.0M582.6,859.5L580.9,864.0M582.6,859.5L584.8,859.2M588.5,869.7L589.3,865.7L590.0,861.6M584.8,859.2L590.0,861.6M586.4,821.1L589.9,818.1M586.4,821.1L586.5,821.6M600.2,819.6L600.3,820.2M586.5,821.6L591.0,824.4L595.9,826.1M595.9,826.1L600.0,822.0M600.3,820.2L600.0,822.0M625.4,814.1L627.5,820.2L630.9,825.7M625.4,814.1L621.2,813.9L617.1,813.2M617.1,813.2L616.5,813.6M616.5,813.6L615.7,817.6L613.7,821.2M630.9,825.7L626.5,827.7L621.9,829.2L617.1,829.4M613.7,821.2L614.3,826.5M617.1,829.4L614.3,826.5M620.1,799.8L619.1,804.6L617.0,809.0M617.0,809.0L617.1,813.2M631.4,808.6L628.0,811.0L625.4,814.1M600.5,815.9L603.8,813.5L606.9,810.9M600.3,820.2L607.0,821.0L613.7,821.2M606.9,810.9L611.9,811.6L616.5,813.6M606.1,829.7L610.4,828.6L614.3,826.5M606.1,829.7L602.8,826.0L600.0,822.0M632.3,348.4L628.5,344.0L624.1,340.3L620.5,335.8M634.8,331.4L627.9,331.6L620.9,331.2M620.5,335.8L620.9,331.2M625.0,317.6L631.1,320.4L636.6,324.2M625.0,317.6L621.8,322.5L619.4,327.9M619.4,327.9L620.9,331.2M502.2,874.9L505.5,875.1M507.8,892.6L508.2,887.9L508.9,883.2L509.3,878.5M505.5,875.1L509.3,878.5M502.7,859.2L507.1,861.0L511.0,863.7M505.5,875.1L508.6,869.5L511.0,863.7M518.8,894.3L520.5,888.6L523.9,883.9M523.9,883.9L520.0,881.2L517.0,877.7M509.3,878.5L513.2,878.1L517.0,877.7M515.9,857.2L514.1,862.9M511.0,863.7L514.1,862.9M538.5,891.0L535.6,886.7L532.7,882.5M523.9,883.9L530.3,881.8M532.7,882.5L530.3,881.8M573.9,862.8L567.5,864.5M573.9,862.8L575.9,865.4M575.9,865.4L575.6,868.9L575.8,872.5M567.5,864.5L568.5,867.8M568.5,867.8L571.0,870.5L573.8,872.8M575.8,872.5L573.8,872.8M575.0,854.3L575.7,855.8M575.7,855.8L574.9,859.3L573.9,862.8M564.0,862.2L567.5,864.5M575.0,854.3L570.6,853.8M575.7,855.8L579.5,857.1L582.6,859.5M580.9,864.0L575.9,865.4M580.0,874.4L575.8,872.5M569.7,876.4L573.8,872.8M569.7,876.4L569.7,880.7L570.3,884.9M558.5,866.5L561.2,871.7M568.5,867.8L565.6,870.5L563.1,873.6M561.2,871.7L563.1,873.6M569.7,876.4L563.7,874.9M563.1,873.6L563.7,874.9M569.3,885.1L564.7,882.8L559.6,881.8M563.7,874.9L562.1,878.6L559.6,881.8M556.8,885.9L558.6,882.2M559.6,881.8L558.6,882.2M551.7,732.8L551.8,728.9L552.1,725.0M551.7,732.8L555.8,733.8L560.0,733.7M560.0,733.7L562.0,730.9M557.1,723.7L559.3,726.8L562.3,729.1M557.1,723.7L552.1,725.0M562.0,730.9L562.3,729.1M546.1,734.7L544.3,729.6L541.0,725.3M541.9,722.8L541.0,725.3M548.1,735.5L546.1,734.7M548.1,735.5L551.7,732.8M546.0,721.0L549.4,722.5L552.1,725.0M560.8,738.7L564.4,741.9M560.8,738.7L560.0,733.7M564.4,741.9L568.3,738.9L572.0,735.6M572.0,735.6L566.6,734.0L562.0,730.9M558.1,720.5L556.7,716.8M558.1,720.5L557.1,723.7M573.9,733.7L572.3,735.6M572.0,735.6L572.3,735.6M564.4,727.5L570.5,728.4M564.4,727.5L562.3,729.1M566.7,718.9L566.6,713.2L565.5,707.5M566.7,718.9L567.4,719.9M569.2,720.4L567.4,719.9M569.2,720.4L572.6,717.4L575.8,714.0M565.5,707.5L569.7,704.9M575.8,714.0L574.4,709.6L571.9,705.8M569.7,704.9L571.9,705.8M560.9,707.7L565.5,707.5M558.1,720.5L562.4,719.8L566.7,718.9M564.4,727.5L566.5,723.9L567.4,719.9M573.3,722.8L569.2,720.4M577.8,716.1L575.8,714.0M553.0,699.1L554.1,694.3L556.0,689.8M569.6,694.3L568.8,699.6L569.7,704.9M584.1,704.8L577.9,704.7L571.9,705.8M603.3,719.0L599.0,722.5M603.3,719.0L607.8,722.0L611.6,725.8L615.3,729.7M599.0,722.5L598.3,727.9M598.3,727.9L602.3,730.6L606.8,732.6L611.5,733.9M615.3,729.7L611.5,733.9M608.2,710.5L605.5,714.6L603.3,719.0M589.9,716.0L595.0,718.4L599.0,722.5M616.4,729.1L615.3,729.7M613.9,711.1L613.7,717.2L616.5,723.0L616.4,729.1M597.8,728.4L598.3,727.9M610.7,740.1L611.5,733.9M604.5,744.7L599.3,743.1M596.0,739.2L599.3,743.1M583.9,742.9L585.0,740.4M572.3,735.6L574.3,739.1L575.4,743.1M583.9,742.9L582.9,743.1M582.9,743.1L579.2,743.0L575.4,743.1M537.3,780.0L538.2,784.2L539.5,788.3M528.6,782.3L532.9,780.9L537.3,780.0M528.6,782.3L531.9,786.6L536.0,790.1M539.5,788.3L536.0,790.1M528.1,782.2L527.0,786.9L524.5,790.9M528.1,782.2L528.6,782.3M524.5,790.9L528.6,793.6L532.5,796.7M532.5,796.7L534.6,794.6M536.0,790.1L534.6,794.6M557.6,766.8L556.5,770.8L556.6,775.1M557.6,766.8L563.3,767.4M563.3,767.4L563.4,771.3L563.1,775.2M563.1,775.2L557.7,776.1M557.7,776.1L556.6,775.1M551.3,766.8L553.1,764.7M553.1,764.7L557.6,766.8M555.4,774.7L556.6,775.1M571.3,761.9L575.1,762.7L578.5,764.4M571.3,761.9L568.8,764.5L565.9,766.6M565.9,766.6L569.7,769.6L573.5,772.5M578.5,764.4L575.6,768.1L573.8,772.4M579.5,755.4L580.1,759.0L579.9,762.7M579.5,755.4L576.3,752.9M570.3,759.3L573.6,756.5L576.1,752.9M579.9,762.7L579.2,764.1M579.2,764.1L578.5,764.4M570.3,759.3L571.3,761.9M570.3,759.3L568.1,757.5M562.3,758.8L568.1,757.5M563.8,767.0L565.9,766.6M563.8,767.0L563.2,762.9L562.3,758.8M563.8,767.0L563.3,767.4M566.4,778.4L563.1,775.2M566.4,778.4L569.6,775.0L573.5,772.5M585.2,769.7L582.4,766.7L579.2,764.1M579.0,777.8L576.6,775.0L573.8,772.4M543.5,753.0L547.3,751.3L550.5,748.6M542.8,745.3L547.7,744.0M550.5,748.6L547.7,744.0M548.1,735.5L549.2,740.1M560.8,738.7L556.0,741.4M556.0,741.4L549.2,740.1M535.5,739.7L535.6,739.0M535.6,739.0L540.5,736.2L546.1,734.7M549.2,740.1L547.7,744.0M559.0,756.4L559.8,750.7M559.0,756.4L556.2,758.8L552.8,760.5M552.8,760.5L550.1,758.3M550.1,758.3L550.0,753.7L551.1,749.1M551.1,749.1L556.5,749.0M559.8,750.7L556.5,749.0M553.1,764.7L552.8,760.5M562.3,758.8L559.0,756.4M543.0,757.5L546.5,758.2L550.1,758.3M550.5,748.6L551.1,749.1M556.0,741.4L556.1,745.2L556.5,749.0M564.5,742.3L568.9,744.3L573.7,744.9M564.5,742.3L563.3,748.8M563.3,748.8L568.0,751.1M568.0,751.1L572.8,750.0M572.8,750.0L573.7,744.9M564.4,741.9L564.5,742.3M575.4,743.1L573.7,744.9M559.8,750.7L563.3,748.8M568.1,757.5L568.0,751.1M576.1,752.9L572.8,750.0M582.9,743.1L579.4,747.8L576.3,752.9M502.9,776.9L500.7,782.6M502.9,776.9L500.5,773.0L498.9,768.6M492.0,767.3L495.5,767.7L498.9,768.6M492.0,767.3L489.4,772.7L489.8,778.8L488.1,784.5M500.7,782.6L494.8,783.9L489.4,786.8M488.1,784.5L488.8,786.6M489.4,786.8L488.8,786.6M509.9,776.7L510.7,781.6L511.5,786.5M509.9,776.7L502.9,776.9M507.9,789.3L504.1,786.2L500.7,782.6M502.7,766.0L498.9,768.6M502.7,766.0L507.7,768.1L513.1,768.8M513.1,768.8L512.0,772.5L510.8,776.1M509.9,776.7L510.8,776.1M475.6,775.1L480.2,777.6L483.3,782.1L488.1,784.5M495.7,795.0L492.8,790.8L489.4,786.8M478.5,795.0L483.1,790.0L488.8,786.6M520.9,771.3L518.4,774.6L517.1,778.5M520.9,771.3L524.5,774.1L527.6,777.5M527.9,782.0L523.2,781.9L518.5,781.1M527.9,782.0L527.6,777.5M518.5,781.1L517.1,778.5M513.1,768.8L516.5,766.7M519.8,767.4L516.5,766.7M519.8,767.4L520.9,771.3M510.8,776.1L517.1,778.5M521.1,766.5L519.8,767.4M532.6,770.1L530.4,774.0L527.6,777.5M522.2,792.0L524.5,790.9M515.2,786.0L518.5,781.1M539.6,778.0L537.3,780.0M516.5,766.7L514.0,760.9M524.0,756.3L518.1,755.7M514.0,760.9L518.1,755.7M502.7,766.0L504.9,761.5L506.4,756.7M514.0,760.9L509.9,759.4L506.4,756.7M498.5,749.4L501.8,751.2L505.3,752.4M505.3,752.4L506.4,756.7M521.5,743.5L519.0,740.1M521.5,743.5L521.7,745.4M521.7,745.4L518.9,749.0L516.1,752.5M519.0,740.1L516.0,742.2L512.6,743.5M512.6,743.5L510.9,747.3L508.3,750.6M508.3,750.6L512.4,750.9L516.1,752.5M532.9,743.3L527.2,743.5L521.5,743.5M524.6,750.7L521.7,745.4M518.1,755.7L516.1,752.5M519.3,736.2L516.6,731.6M519.3,736.2L519.0,740.1M501.8,736.1L506.6,740.7L512.6,743.5M505.3,752.4L508.3,750.6M526.9,734.2L531.0,736.0L535.0,738.0M526.9,734.2L528.3,730.4L530.1,726.8M535.0,738.0L535.0,733.0L536.3,728.2M530.1,726.8L536.3,728.2M519.3,736.2L523.2,735.4L526.9,734.2M535.6,739.0L535.0,738.0M527.4,723.1L530.1,726.8M527.4,723.1L523.9,724.5L520.1,725.0M541.0,725.3L536.3,728.2M527.4,723.1L529.2,718.4M529.2,718.4L533.1,717.8L537.0,718.1M515.7,700.2L519.9,702.9L524.3,704.9L529.2,705.7M515.7,700.2L513.3,702.1M513.3,702.1L515.7,708.4L516.9,715.0M516.9,715.0L521.8,714.2L526.7,713.5M526.7,713.5L528.4,709.7L529.2,705.7M515.6,682.0L517.3,685.8L518.6,689.8M518.6,689.8L518.0,695.2L515.7,700.2M506.1,702.9L509.7,702.7L513.3,702.1M516.2,716.4L516.9,715.0M529.2,718.4L526.7,713.5M533.5,703.8L535.8,706.8L538.2,709.8M533.5,703.8L529.2,705.7M602.0,770.0L597.1,769.2L592.1,769.3M602.0,770.0L602.9,769.1M602.9,769.1L600.8,764.8L598.0,760.8M592.1,769.3L592.3,767.1M592.3,767.1L594.0,763.9L596.6,761.4M598.0,760.8L596.6,761.4M602.2,773.1L602.0,770.0M608.6,766.2L602.9,769.1M602.0,756.2L598.0,760.8M579.9,762.7L584.2,761.4L588.3,759.8M588.3,759.8L590.1,763.6L592.3,767.1M594.2,753.4L593.9,748.4M594.2,753.4L590.3,756.4M593.9,748.4L590.1,747.2L586.1,747.5M589.9,756.5L590.3,756.4M589.9,756.5L585.4,752.2M585.4,752.2L586.1,747.5M602.0,756.2L598.3,754.4L594.2,753.4M599.3,743.1L596.4,745.6L593.9,748.4M596.6,761.4L593.2,759.2L590.3,756.4M583.9,742.9L586.1,747.5M588.3,759.8L589.9,756.5M579.5,755.4L585.4,752.2M575.0,854.3L577.3,850.7M567.9,849.6L569.4,844.2M577.3,850.7L575.5,845.7M569.4,844.2L575.5,845.7M579.8,811.2L583.2,809.8L586.5,808.2M581.7,817.7L579.8,811.2M586.4,821.1L581.7,817.7M591.6,811.2L588.7,808.9M586.5,808.2L588.7,808.9M598.6,804.7L595.7,810.9M598.6,804.7L593.3,803.0M588.7,808.9L591.0,805.9L593.3,803.0M582.3,792.5L581.3,795.9L579.7,799.2M582.3,792.5L585.9,795.8L589.8,798.8M579.7,799.2L583.3,800.0L586.4,802.0M589.8,798.8L586.4,802.0M585.0,789.5L582.3,792.4M590.7,798.6L589.8,798.8M594.0,794.9L590.7,798.6M578.0,810.2L576.6,806.8M579.2,799.5L578.3,803.2L576.6,806.8M579.8,811.2L578.0,810.2M579.2,799.5L579.7,799.2M586.5,808.2L586.4,802.0M593.3,803.0L590.7,798.6M526.0,823.6L521.1,820.7M526.0,823.6L530.1,822.2M530.1,822.2L527.3,817.7L524.5,813.3M521.1,820.7L521.0,818.0M521.0,818.0L524.5,813.3M524.6,833.8L524.6,828.6L526.0,823.6M515.1,824.5L517.8,822.2L521.1,820.7M514.1,812.8L517.3,815.8L521.0,818.0M525.1,810.2L521.6,809.1L518.1,808.1M525.0,812.3L524.5,813.3M525.0,812.3L525.1,810.2M543.6,820.1L543.0,813.4M543.6,820.1L539.6,821.9L535.5,823.9M543.0,813.4L538.9,813.7L535.0,815.4M535.0,815.4L533.6,818.0M533.6,818.0L533.2,821.6M535.5,823.9L533.2,821.6M553.4,820.1L547.0,822.4M553.4,820.1L551.7,815.7L550.3,811.3M547.0,822.4L543.6,820.1M550.3,811.3L548.7,811.0M548.7,811.0L544.7,811.0M544.7,811.0L543.0,813.4M547.0,822.4L546.0,827.9M536.3,826.8L535.5,823.9M530.1,822.2L533.2,821.6M525.0,812.3L529.0,815.5L533.6,818.0M532.7,882.5L537.6,878.1M547.7,888.2L547.1,881.4M547.1,881.4L542.6,879.0L537.6,878.1M631.4,744.0L627.6,740.0L625.5,734.3L622.6,729.1M632.2,722.5L629.7,721.2M629.7,721.2L626.4,725.4L622.6,729.1M634.8,758.6L635.1,752.0L635.1,749.0M621.1,746.8L626.6,746.5L631.3,744.7M616.4,729.1L622.6,729.1M623.7,708.3L625.8,712.6L628.7,716.5L629.7,721.2M297.1,607.2L300.7,605.3L304.0,603.0M297.1,607.2L293.5,603.6L289.5,600.5M298.9,594.2L295.8,593.6M295.8,593.6L293.2,597.6L289.5,600.5M287.2,613.3L284.4,617.7L281.8,622.2M287.2,613.3L285.0,608.6L281.8,604.6M273.3,604.5L277.3,605.0L281.2,604.5M281.8,604.6L281.2,604.5M226.5,568.1L230.0,568.6M238.3,570.0L243.2,572.4L249.3,571.1L254.7,573.4M255.9,570.0L254.7,573.4M281.2,604.5L281.8,598.6L284.1,592.9L281.9,586.7L283.9,581.0M295.8,593.6L293.1,588.6L289.7,584.1L288.2,578.6M289.5,600.5L286.0,603.2L281.8,604.6M283.9,581.0L288.2,578.6M273.3,604.5L269.8,598.7L267.0,592.6L264.7,586.3M283.9,581.0L277.5,582.5L271.0,583.8L264.7,586.3M242.7,599.9L245.4,594.7L249.7,590.9L254.1,587.1L257.0,582.1M254.7,573.4L255.8,577.8L257.0,582.1M257.0,582.1L260.8,584.3L264.7,586.3M639.0,307.9L636.1,303.5L633.1,299.1M639.0,307.9L634.4,310.6L629.0,311.9L625.0,315.7M625.0,315.7L622.2,313.1L620.0,310.0M630.8,298.1L625.9,302.4L621.4,306.9M630.8,298.1L633.1,299.1M620.0,310.0L621.4,306.9M625.0,317.6L625.0,315.7M642.4,308.9L639.0,307.9M622.9,287.3L626.6,292.9L630.8,298.1M618.8,296.0L619.5,301.6L621.4,306.9M632.4,283.5L636.5,284.5L640.7,284.9M640.7,284.9L642.0,290.4M632.4,283.5L627.5,285.1L622.9,287.3M642.0,290.4L638.3,295.6L633.1,299.1M608.2,308.6L614.2,308.7L620.0,310.0M730.3,306.4L731.8,300.9L731.7,294.4L732.2,287.8L732.0,281.2M740.0,280.7L738.0,280.3L732.0,281.2M683.5,242.4L682.2,243.8L679.8,245.8M689.9,242.2L691.8,243.2L697.0,247.8M679.8,255.7L682.8,256.7L686.7,256.8M686.7,256.8L692.5,253.0L697.0,247.8M705.6,241.6L705.6,241.7L702.9,246.7M702.9,246.7L708.3,248.7L714.0,248.3L719.5,248.7M719.5,248.7L721.6,245.5M697.0,247.8L701.3,248.6M701.3,248.6L702.9,246.7M717.1,261.3L710.4,260.4L703.6,259.4M701.3,248.6L702.0,254.1L703.6,259.4M717.1,261.3L717.9,260.1M717.9,260.1L718.9,254.4L719.5,248.7M732.3,257.8L731.7,254.5M732.3,257.8L727.4,257.9L722.8,260.0L717.9,260.1M733.6,259.8L732.3,257.8M650.8,304.6L652.1,298.8M642.0,290.4L647.1,293.5L651.6,297.3M651.6,297.3L652.1,298.8M651.6,297.3L653.0,292.0L654.3,286.7M640.7,284.9L642.1,283.4M642.1,283.4L648.2,285.1L654.3,286.7M642.1,283.4L643.0,279.8L645.0,276.6M645.0,276.6L649.2,275.2L653.5,274.1M654.3,286.7L656.4,284.2M653.5,274.1L655.6,279.0L656.4,284.2M641.6,225.1L644.5,220.7M637.5,226.1L641.6,225.1M637.5,226.1L633.6,221.9L629.2,218.4M633.9,205.6L638.1,207.2L642.5,207.9M644.5,220.7L643.9,214.3L642.5,207.9M669.1,214.5L663.5,212.6L657.6,212.1M654.7,201.0L653.4,203.7M657.6,212.1L655.5,207.9L653.4,203.7M642.5,207.9L647.6,204.9L653.4,203.7M673.7,224.6L670.6,226.8M672.1,244.7L676.0,246.3M672.1,244.7L668.3,239.3L666.0,233.2M666.0,233.2L668.0,229.8L670.6,226.8M657.6,212.1L655.9,215.8L655.3,219.7M670.6,226.8L665.8,223.9L660.2,222.6L655.3,219.7M644.5,220.7L649.7,219.9L655.1,219.9M655.3,219.7L655.1,219.9M541.3,698.7L538.1,700.9L534.4,702.1M541.3,698.7L541.9,693.8L541.5,688.7L542.9,683.9M534.4,702.1L531.5,697.0L529.7,691.4M529.7,691.4L533.5,686.0L538.8,682.2M542.9,683.9L538.8,682.2M545.1,700.1L541.3,698.7M533.5,703.8L534.4,702.1M545.7,683.6L542.9,683.9M518.6,689.8L524.3,689.6L529.7,691.4M530.8,670.7L532.9,674.9L537.1,677.7L538.8,682.2M362.4,650.9L362.1,654.5L362.2,658.0M375.4,664.9L371.1,665.7M362.2,658.0L366.1,662.5L371.1,665.7M377.3,685.7L372.9,681.9L368.8,677.7L363.8,674.5M371.1,665.7L367.6,670.2L363.8,674.5M332.8,661.8L332.5,662.0M332.8,661.8L332.6,657.2L331.6,652.7M332.5,662.0L328.6,660.9L324.9,659.3M324.9,659.3L324.6,655.5L323.9,651.7M331.6,652.7L327.7,652.3L323.9,651.7M337.8,662.1L338.6,657.0L340.3,652.1M333.3,651.3L331.6,652.7M337.8,662.1L332.8,661.8M329.9,667.0L325.7,667.5L321.5,668.4M321.4,662.2L324.9,659.3M329.9,667.0L332.5,662.0M321.7,649.6L323.9,651.7M632.4,283.5L634.0,278.9L633.7,274.0L634.4,269.2M645.0,276.6L640.0,273.1L636.2,268.3M634.4,269.2L636.2,268.3M620.3,285.2L621.5,279.4L623.7,274.0L627.3,269.2M634.4,269.2L630.8,269.1L627.3,269.2M618.1,263.0L619.8,263.0M627.3,269.2L623.8,265.7L619.8,263.0M603.9,791.7L607.3,794.1L611.1,795.8M603.9,791.7L602.7,796.1L600.7,800.3M611.1,795.8L608.8,800.0M608.8,800.0L603.4,803.2M603.4,803.2L601.8,802.8M601.8,802.8L600.7,800.3M603.1,790.5L603.9,791.7M612.4,795.2L611.1,795.8M594.4,794.7L597.4,797.7L600.7,800.3M617.0,809.0L612.8,804.5L608.8,800.0M606.9,810.9L604.5,807.3L603.4,803.2M598.6,804.7L601.8,802.8M602.4,868.7L598.5,864.8L596.0,860.0M590.0,861.6L593.8,859.5M596.0,860.0L593.8,859.5M611.5,857.2L612.4,861.9M611.5,857.2L606.5,853.5M606.5,853.5L604.5,853.4M596.0,860.0L600.0,856.4L604.5,853.4M589.9,845.2L592.6,848.9M589.9,845.2L583.5,847.0M585.6,853.5L588.6,851.6L592.1,850.7M585.6,853.5L581.5,849.4M592.6,848.9L592.1,850.7M583.5,847.0L581.5,849.4M593.8,859.5L592.2,855.3L592.1,850.7M584.8,859.2L585.6,853.5M577.3,850.7L581.5,849.4M604.5,853.4L600.9,851.2L598.1,848.2M598.1,848.2L592.6,848.9M575.5,845.7L578.0,839.5M579.5,838.9L578.0,839.5M579.5,838.9L582.1,842.6L583.5,847.0M628.1,853.2L624.5,851.7L621.7,849.2M628.1,853.2L630.0,851.1M621.7,849.2L625.0,844.0L627.9,838.6M627.9,838.6L630.0,838.0M611.5,857.2L615.9,853.4L619.8,849.0M630.3,861.1L628.7,857.3L628.1,853.2M619.8,849.0L621.7,849.2M619.8,849.0L616.2,845.1L614.2,840.2M614.2,840.2L617.3,835.5M617.3,835.5L622.8,836.5L627.9,838.6M617.3,835.5L617.1,829.4M630.9,825.7L635.8,827.3L637.1,828.1M610.0,840.8L606.0,838.8L602.9,835.5M610.0,840.8L608.0,844.5M608.0,844.5L603.8,844.0L599.6,844.6M602.9,835.5L602.2,835.7M602.2,835.7L599.3,840.3M599.6,844.6L599.3,840.3M606.1,829.7L602.9,835.5M614.2,840.2L610.0,840.8M606.5,853.5L606.8,848.9L608.0,844.5M598.1,848.2L599.6,844.6M595.9,826.1L595.1,831.8M595.1,831.8L598.3,834.3L602.2,835.7M592.0,833.0L590.9,837.1L590.6,841.3M592.0,833.0L585.6,830.6M585.6,830.6L581.5,835.0M590.1,841.9L590.6,841.3M590.1,841.9L585.7,839.3L581.0,837.3M581.0,837.3L581.5,835.0M599.3,840.3L594.9,840.6L590.6,841.3M595.1,831.8L592.0,833.0M586.5,821.6L584.9,827.4M584.9,827.4L585.6,830.6M589.9,845.2L590.1,841.9M579.5,838.9L581.0,837.3M592.5,318.3L593.4,322.3L595.7,325.7M577.3,338.2L582.8,337.3L588.3,337.2L593.7,336.8M593.7,336.8L594.7,331.3L595.7,325.7M607.3,310.0L607.5,315.3L610.5,320.0L610.8,325.3M595.7,325.7L600.7,325.5L605.7,324.6L610.8,325.3M619.4,327.9L615.5,326.7L611.4,325.9M610.8,325.3L611.4,325.9M517.0,877.7L518.0,874.2L519.2,870.9M514.1,862.9L518.1,865.8M518.1,865.8L519.2,870.9M530.3,881.8L530.1,877.2L528.6,872.8M519.2,870.9L523.9,871.8L528.6,872.8M544.7,857.6L542.2,860.9M532.9,853.2L536.6,857.8L541.6,860.9M541.6,860.9L542.2,860.9M547.3,838.1L550.5,835.5L554.1,833.7M546.0,827.9L549.8,829.2L553.3,831.1M554.1,833.7L553.3,831.1M553.4,820.1L556.8,821.8M553.3,831.1L554.9,826.4L556.8,821.8M581.7,817.7L579.0,820.1L576.0,822.1M584.9,827.4L580.4,826.9L576.0,826.3M576.0,826.3L576.0,822.1M550.3,811.3L554.2,808.8M558.5,820.6L557.1,821.8M558.5,820.6L558.3,815.8L558.8,810.9M558.8,810.9L554.2,808.8M535.0,815.4L533.4,809.8M544.7,811.0L542.0,806.9M542.0,806.9L537.7,808.4L533.4,809.8M557.7,776.1L556.4,780.0L554.8,783.7M549.2,777.6L551.8,782.9M551.8,782.9L554.8,783.7M542.2,779.5L544.4,782.6L545.6,786.3M551.8,782.9L548.9,784.9L545.6,786.3M539.5,788.3L544.5,788.6M545.6,786.3L544.5,788.6M548.6,801.2L553.1,801.5M548.6,801.2L544.8,799.4M549.8,793.2L546.5,793.2M549.8,793.2L552.7,795.6L555.8,797.7M546.5,793.2L544.7,796.6M544.8,799.4L544.7,796.6M555.8,797.7L553.1,801.5M554.2,808.8L554.4,807.8M554.4,807.8L553.1,801.5M548.7,811.0L548.9,806.1L548.6,801.2M542.0,806.9L541.5,803.7M541.5,803.7L544.8,799.4M534.6,794.6L539.6,795.9L544.7,796.6M544.5,788.6L546.5,793.2M576.6,806.8L573.2,804.8L569.5,803.5M579.2,799.5L575.9,797.7L572.3,796.4M572.3,796.4L569.7,799.5M569.5,803.5L569.7,799.5M554.4,807.8L558.3,805.8L561.5,802.8M555.8,797.7L559.6,796.9M561.5,802.8L559.6,796.9M554.8,783.7L555.9,785.0M549.8,793.2L553.3,790.6L555.8,787.1M555.8,787.1L555.9,785.0M559.6,796.9L560.4,795.7M555.8,787.1L557.4,791.8L560.4,795.7M569.5,803.5L565.3,806.0M569.7,799.5L565.6,797.2L561.4,795.4M565.3,806.0L561.5,802.8M560.4,795.7L561.4,795.4M575.8,789.7L572.1,794.2M575.8,789.7L574.0,784.5M572.1,794.2L568.6,793.1L565.7,790.9M574.0,784.5L570.5,783.9L567.1,783.0M565.7,790.9L566.2,784.0M567.1,783.0L566.2,784.0M582.3,792.4L579.1,791.0L575.8,789.7M572.3,796.4L572.1,794.2M579.1,780.4L574.0,784.5M561.4,795.4L565.7,790.9M566.4,778.4L567.1,783.0M555.9,785.0L561.1,784.6L566.2,784.0M548.2,879.0L547.5,874.8L546.7,870.5M548.2,879.0L551.9,878.9L555.6,878.9M555.2,876.1L555.6,878.9M555.2,876.1L553.3,872.1L550.3,868.9M550.3,868.9L547.5,869.3M547.5,869.3L546.7,870.5M547.1,881.4L548.2,879.0M539.8,873.8L543.3,872.2L546.7,870.5M537.6,878.1L539.8,873.8M558.6,882.2L555.6,878.9M561.2,871.7L558.0,873.6L555.2,876.1M554.9,866.2L550.3,868.9M542.2,860.9L544.1,865.6L547.5,869.3M312.1,570.0L312.4,570.2M289.2,570.0L290.5,573.1M290.5,573.1L296.0,575.5L302.1,574.9L307.9,576.4M312.4,570.2L310.1,573.2L307.9,576.4M312.9,570.0L312.4,570.2M288.2,578.6L290.5,573.1M312.5,586.1L309.4,581.6L307.9,576.4M315.3,636.3L309.7,636.9M315.3,626.2L310.2,628.4L305.1,630.3M309.7,636.9L307.9,633.3L305.1,630.4M309.8,619.5L303.3,619.1M305.1,630.3L304.8,624.6L303.3,619.1M297.1,607.2L296.4,612.1L296.8,617.0M287.2,613.3L291.8,614.7L296.0,617.3M296.0,617.3L296.8,617.0M307.5,607.3L304.2,612.5L299.8,616.9M296.8,617.0L299.8,616.9M299.8,616.9L303.3,619.1M300.6,649.9L303.1,645.9M296.3,650.1L296.5,646.1L296.2,642.1M296.2,642.1L299.7,643.8L303.1,645.9M309.6,645.6L306.4,643.4M303.1,645.9L306.4,643.4M309.7,636.9L306.3,642.8M306.4,643.4L306.3,642.8M719.7,269.8L715.6,274.1L710.6,277.2M719.7,269.8L723.8,271.8L727.8,273.8M731.3,280.8L729.8,277.2L727.8,273.8M731.3,280.8L726.5,283.2L721.7,285.5L717.1,288.1M710.6,277.2L710.4,281.1L710.0,285.0M717.1,288.1L713.5,286.5L710.0,285.0M734.9,263.5L731.7,268.3L727.8,273.8M717.1,261.3L719.0,265.4L719.7,269.8M732.0,281.2L731.3,280.8M720.3,295.8L719.8,293.4L717.1,288.1M705.0,294.7L705.7,293.2L706.7,287.1M706.7,287.1L710.0,285.0M636.2,268.3L637.8,264.6M655.4,269.2L651.7,265.7M655.4,269.2L656.0,270.4M656.0,270.4L653.5,274.1M651.7,265.7L644.8,264.4L637.8,264.6M655.4,269.2L657.3,263.2L658.7,257.0M651.7,265.7L650.0,260.7L648.9,255.5M648.9,255.5L649.5,254.9M649.5,254.9L654.2,255.4L658.7,257.0M676.0,255.4L673.4,255.1L667.9,255.4L662.5,254.5M672.1,244.7L667.6,248.2L662.4,250.1M662.4,250.1L662.5,254.5M660.6,270.4L656.0,270.4M666.4,262.5L664.6,258.4L662.5,254.5M660.6,270.4L663.8,266.6L666.4,262.5M658.7,257.0L662.5,254.5M676.0,262.0L671.6,262.4L666.4,262.5M661.7,313.2L665.1,311.2L667.7,308.2M652.1,298.8L658.8,296.8L665.5,295.1M667.7,308.2L667.0,301.5L665.5,295.1M667.7,308.2L672.4,307.3L676.0,307.2M669.0,287.1L669.0,293.0M669.0,287.1L663.6,283.3M663.6,283.3L657.4,284.4M657.4,284.4L661.2,289.9L665.5,295.1M665.5,295.1L669.0,293.0M660.6,270.4L666.0,273.8M666.0,273.8L665.3,278.7L663.6,283.3M656.4,284.2L657.4,284.4M676.0,294.8L673.7,294.1L669.0,293.0M706.7,287.1L700.7,285.8L695.4,282.8M694.0,295.7L693.1,295.3L688.4,294.6M687.9,294.5L691.3,288.5L695.4,282.8M363.8,674.5L360.0,675.1L356.3,675.8M367.9,696.0L361.5,695.8M356.3,675.8L357.7,682.6L358.3,689.5L361.5,695.8M358.4,723.2L356.9,717.2L359.7,710.8L356.1,704.8L356.6,698.6M361.5,695.8L356.6,698.6M338.7,708.5L342.7,703.5L345.3,697.6M356.6,698.6L351.0,697.3L345.3,697.6M323.0,694.3L328.2,692.5M345.3,697.6L344.7,696.6M328.2,692.5L333.4,695.3L339.0,696.0L344.7,696.6M356.3,675.8L355.6,675.5M355.6,675.5L351.0,679.7L348.9,685.8L343.8,689.6M344.7,696.6L344.3,693.1L343.8,689.6M354.2,673.9L347.7,675.1L341.0,674.5M354.2,673.9L353.5,669.7L353.1,665.5M349.1,661.8L344.2,662.3L339.4,663.3M349.1,661.8L353.1,665.5M339.4,663.3L339.0,667.9L339.9,672.4M339.9,672.4L341.0,674.5M362.2,658.0L357.6,661.7L353.1,665.5M355.6,675.5L354.2,673.9M337.8,662.1L339.4,663.3M348.7,656.0L349.1,661.8M329.9,667.0L331.2,670.2M331.2,670.2L335.5,671.4L339.9,672.4M329.7,674.6L333.0,678.2L337.2,680.4M329.7,674.6L325.0,676.3M326.3,681.2L329.9,682.6L333.7,683.3M326.3,681.2L325.0,676.3M333.7,683.3L337.1,681.6M337.2,680.4L337.1,681.6M331.2,670.2L329.7,674.6M341.0,674.5L337.2,680.4M319.9,673.6L325.0,676.3M328.2,692.5L331.4,688.2L333.7,683.3M322.4,686.6L326.3,681.2M343.8,689.6L340.5,685.6L337.1,681.6M626.9,255.3L632.3,256.7L637.7,257.7M626.9,255.3L625.5,249.6M625.5,249.6L627.0,243.9L630.0,238.7M637.8,257.6L638.5,252.8L639.3,248.0L638.3,243.1M638.3,243.1L634.3,241.4L630.8,238.6M630.8,238.6L630.0,238.7M619.8,263.0L622.8,258.6L626.9,255.3M637.8,264.6L637.7,257.7M612.4,249.1L618.9,249.8L625.5,249.6M629.5,238.5L630.0,238.7M648.9,255.5L643.2,255.8L637.8,257.6M637.5,226.1L634.7,230.0L633.9,234.9L630.8,238.6M596.0,339.0L599.8,338.6L603.5,339.1M596.0,339.0L595.2,343.7L595.8,348.4M603.5,339.1L607.7,341.5L611.9,343.9M595.8,348.4L598.7,353.1L600.8,358.2M600.8,358.2L605.4,357.0L609.4,354.6M609.4,354.6L611.4,351.7L612.4,348.2M612.4,348.2L611.9,343.9M593.7,336.8L596.0,339.0M611.4,325.9L608.5,330.1L606.8,335.1L603.5,339.1M577.7,354.9L583.5,352.0L590.0,351.2L595.8,348.4M620.5,335.8L616.1,339.8L611.9,343.9M596.5,370.0L597.2,363.8L600.8,358.2M621.2,365.3L616.4,362.7L613.5,357.9L609.4,354.6M629.4,352.6L623.4,352.4L618.0,350.2L612.4,348.2M530.2,868.9L527.8,863.1M530.2,868.9L535.5,869.0M539.0,862.6L537.3,865.9L535.5,869.0M539.0,862.6L533.5,862.9L528.0,862.7M528.0,862.7L527.8,863.1M518.1,865.8L522.9,864.3L527.8,863.1M528.6,872.8L530.2,868.9M539.8,873.8L535.5,869.0M541.6,860.9L539.0,862.6M528.1,859.7L528.0,862.7M550.5,846.8L553.5,844.2L556.4,841.6M561.4,848.6L561.4,843.5M556.4,841.6L561.4,843.5M554.1,833.7L555.4,834.5M556.4,841.6L556.4,838.0L555.4,834.5M562.6,810.3L565.1,807.2M562.6,810.3L563.8,814.4L565.6,818.2M565.1,807.2L568.7,810.1L571.7,813.7M571.7,813.7L568.9,818.3M565.6,818.2L568.1,818.7M568.9,818.3L568.1,818.7M558.8,810.9L562.6,810.3M565.3,806.0L565.1,807.2M558.5,820.6L562.3,820.0L565.6,818.2M578.0,810.2L574.7,811.6L571.7,813.7M576.0,822.1L572.8,819.6L568.9,818.3M532.5,796.7L534.6,800.0L537.7,802.4M532.5,796.7L530.5,800.2L527.6,803.0M537.7,802.4L534.6,805.2L531.4,808.1M527.6,803.0L528.2,807.0M528.2,807.0L531.4,808.1M541.5,803.7L537.7,802.4M521.2,799.9L524.3,801.7L527.6,803.0M533.4,809.8L531.4,808.1M525.1,810.2L528.2,807.0M301.4,631.9L297.2,628.0L294.4,623.0M301.4,631.9L298.7,636.0M298.7,636.0L294.5,637.7M287.4,629.4L290.6,633.7L294.1,637.7M287.4,629.4L291.2,626.5L294.4,623.0M294.1,637.7L294.5,637.7M305.1,630.4L301.4,631.9M296.0,617.3L294.4,623.0M306.3,642.8L302.2,639.8L298.7,636.0M296.2,642.1L294.5,637.7M284.3,629.2L287.4,629.4M287.3,643.5L290.4,640.3L294.1,637.7M661.7,249.5L656.1,249.0L650.8,247.2M661.7,249.5L660.3,244.7L659.6,239.8L659.6,234.9M650.8,247.2L648.0,241.7M648.0,241.7L650.3,238.9L651.8,235.6M651.8,235.6L654.9,234.4M659.6,234.9L654.9,234.4M649.5,254.9L650.0,251.1L650.8,247.2M662.4,250.1L661.7,249.5M666.0,233.2L659.6,234.9M638.3,243.1L643.2,242.3L648.0,241.7M641.6,225.1L644.4,229.2L648.4,232.1L651.8,235.6M655.1,219.9L653.8,224.8L654.1,229.6L654.9,234.4M694.9,281.4L689.8,279.3L684.2,279.9L681.1,278.6M694.9,281.4L695.4,276.7L697.2,272.3L697.9,267.6M696.3,267.0L697.8,267.3M696.3,267.0L690.7,269.3L685.2,271.5L680.1,272.1M697.8,267.3L697.9,267.6M683.8,293.8L682.9,289.6L682.3,283.3L681.7,282.1M695.4,282.8L694.9,281.4M710.6,277.2L705.6,275.0L701.5,271.8L697.9,267.6M686.7,256.8L691.4,262.0L696.3,267.0M703.6,259.4L701.1,263.7L697.8,267.3M666.0,273.8L671.9,274.4L676.0,275.1M669.0,287.1L672.8,284.2L675.7,280.4L676.0,279.8M569.4,844.2L568.5,842.3M578.0,839.5L574.3,838.3M568.5,842.3L571.2,840.0L574.3,838.3M561.4,843.5L565.2,840.3M568.5,842.3L565.2,840.3M555.4,834.5L558.7,834.2M565.2,840.3L564.9,837.6M558.7,834.2L561.5,836.4L564.9,837.6M557.1,821.8L560.0,825.1L563.1,828.1M558.7,834.2L561.0,831.2L563.1,828.1M571.4,833.9L567.9,833.9M571.4,833.9L574.7,829.8M567.9,833.9L565.6,828.4M574.7,829.8L574.7,828.0M574.7,828.0L568.1,826.0M568.1,826.0L565.6,828.4M574.3,838.3L571.4,833.9M564.9,837.6L567.9,833.9M581.5,835.0L577.9,832.7L574.7,829.8M563.1,828.1L565.6,828.4M576.0,826.3L574.7,828.0M568.1,818.7L568.6,822.3L568.1,826.0"/>
</g>
<use href="#o" fill="none" stroke="#666666" stroke-width="2" stroke-linejoin="round" shape-rendering="crispEdges"/>
<rect x="1014.2" y="752.30" width="27.3" height="26.72" fill="#E8F1FA" stroke="#666666" stroke-width="2" shape-rendering="crispEdges"/>
<rect x="1014.2" y="779.02" width="27.3" height="26.72" fill="#CADEF0" stroke="#666666" stroke-width="2" shape-rendering="crispEdges"/>
<rect x="1014.2" y="805.74" width="27.3" height="26.72" fill="#9AC8E0" stroke="#666666" stroke-width="2" shape-rendering="crispEdges"/>
<rect x="1014.2" y="832.46" width="27.3" height="26.72" fill="#5EA5D1" stroke="#666666" stroke-width="2" shape-rendering="crispEdges"/>
<rect x="1014.2" y="859.18" width="27.3" height="26.72" fill="#3080BC" stroke="#666666" stroke-width="2" shape-rendering="crispEdges"/>
<rect x="1014.2" y="885.90" width="27.3" height="26.72" fill="#0D57A1" stroke="#666666" stroke-width="2" shape-rendering="crispEdges"/>
</svg>
<div id="lt">total_wp</div>
<div class="lg" style="top:754.5px">&lt; 1%</div>
<div class="lg" style="top:781.2px">1% - 10%</div>
<div class="lg" style="top:807.9px">10% - 50%</div>
<div class="lg" style="top:834.7px">50% - 90%</div>
<div class="lg" style="top:861.4px">90% - 99%</div>
<div class="lg" style="top:888.1px">&gt; 99%</div>
</body></html>
